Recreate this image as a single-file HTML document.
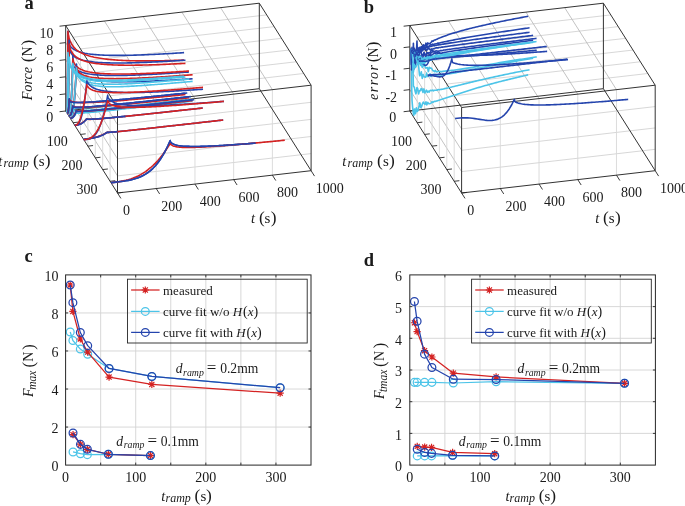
<!DOCTYPE html>
<html><head><meta charset="utf-8"><style>
html,body{margin:0;padding:0;background:#fff;}
body{width:685px;height:506px;overflow:hidden;}
svg{display:block;fill:#1a1a1a;font-family:"Liberation Serif",serif;}
#w{will-change:transform;width:685px;height:506px;}
</style></head><body><div id="w">
<svg width="685" height="506" viewBox="0 0 685 506">
<rect width="685" height="506" fill="#fff"/>
<line x1="73.1" y1="37.21" x2="266.7" y2="14.91" stroke="#d2d2d2" stroke-width="0.9"/>
<line x1="80.5" y1="48.93" x2="274.1" y2="26.63" stroke="#d2d2d2" stroke-width="0.9"/>
<line x1="87.9" y1="60.64" x2="281.5" y2="38.34" stroke="#d2d2d2" stroke-width="0.9"/>
<line x1="95.3" y1="72.36" x2="288.9" y2="50.06" stroke="#d2d2d2" stroke-width="0.9"/>
<line x1="102.7" y1="84.07" x2="296.3" y2="61.77" stroke="#d2d2d2" stroke-width="0.9"/>
<line x1="110.1" y1="95.79" x2="303.7" y2="73.49" stroke="#d2d2d2" stroke-width="0.9"/>
<line x1="104.42" y1="21.04" x2="156.22" y2="103.04" stroke="#b4b4b4" stroke-width="0.8"/>
<line x1="143.14" y1="16.58" x2="194.94" y2="98.58" stroke="#b4b4b4" stroke-width="0.8"/>
<line x1="181.86" y1="12.12" x2="233.66" y2="94.12" stroke="#b4b4b4" stroke-width="0.8"/>
<line x1="220.58" y1="7.66" x2="272.38" y2="89.66" stroke="#b4b4b4" stroke-width="0.8"/>
<line x1="117.5" y1="175.9" x2="311.1" y2="153.6" stroke="#d2d2d2" stroke-width="0.9"/>
<line x1="117.5" y1="158.8" x2="311.1" y2="136.5" stroke="#d2d2d2" stroke-width="0.9"/>
<line x1="117.5" y1="141.7" x2="311.1" y2="119.4" stroke="#d2d2d2" stroke-width="0.9"/>
<line x1="117.5" y1="124.6" x2="311.1" y2="102.3" stroke="#d2d2d2" stroke-width="0.9"/>
<line x1="156.22" y1="188.54" x2="156.22" y2="103.04" stroke="#d8d8d8" stroke-width="0.9"/>
<line x1="194.94" y1="184.08" x2="194.94" y2="98.58" stroke="#d8d8d8" stroke-width="0.9"/>
<line x1="233.66" y1="179.62" x2="233.66" y2="94.12" stroke="#d8d8d8" stroke-width="0.9"/>
<line x1="272.38" y1="175.16" x2="272.38" y2="89.66" stroke="#d8d8d8" stroke-width="0.9"/>
<line x1="65.7" y1="93.9" x2="117.5" y2="175.9" stroke="#b4b4b4" stroke-width="0.8"/>
<line x1="65.7" y1="76.8" x2="117.5" y2="158.8" stroke="#b4b4b4" stroke-width="0.8"/>
<line x1="65.7" y1="59.7" x2="117.5" y2="141.7" stroke="#b4b4b4" stroke-width="0.8"/>
<line x1="65.7" y1="42.6" x2="117.5" y2="124.6" stroke="#b4b4b4" stroke-width="0.8"/>
<line x1="73.1" y1="122.71" x2="73.1" y2="37.21" stroke="#d8d8d8" stroke-width="0.9"/>
<line x1="80.5" y1="134.43" x2="80.5" y2="48.93" stroke="#d8d8d8" stroke-width="0.9"/>
<line x1="87.9" y1="146.14" x2="87.9" y2="60.64" stroke="#d8d8d8" stroke-width="0.9"/>
<line x1="95.3" y1="157.86" x2="95.3" y2="72.36" stroke="#d8d8d8" stroke-width="0.9"/>
<line x1="102.7" y1="169.57" x2="102.7" y2="84.07" stroke="#d8d8d8" stroke-width="0.9"/>
<line x1="110.1" y1="181.29" x2="110.1" y2="95.79" stroke="#d8d8d8" stroke-width="0.9"/>
<line x1="417.2" y1="37.21" x2="610.8" y2="14.91" stroke="#d2d2d2" stroke-width="0.9"/>
<line x1="424.6" y1="48.93" x2="618.2" y2="26.63" stroke="#d2d2d2" stroke-width="0.9"/>
<line x1="432" y1="60.64" x2="625.6" y2="38.34" stroke="#d2d2d2" stroke-width="0.9"/>
<line x1="439.4" y1="72.36" x2="633" y2="50.06" stroke="#d2d2d2" stroke-width="0.9"/>
<line x1="446.8" y1="84.07" x2="640.4" y2="61.77" stroke="#d2d2d2" stroke-width="0.9"/>
<line x1="454.2" y1="95.79" x2="647.8" y2="73.49" stroke="#d2d2d2" stroke-width="0.9"/>
<line x1="448.52" y1="21.04" x2="500.32" y2="103.04" stroke="#b4b4b4" stroke-width="0.8"/>
<line x1="487.24" y1="16.58" x2="539.04" y2="98.58" stroke="#b4b4b4" stroke-width="0.8"/>
<line x1="525.96" y1="12.12" x2="577.76" y2="94.12" stroke="#b4b4b4" stroke-width="0.8"/>
<line x1="564.68" y1="7.66" x2="616.48" y2="89.66" stroke="#b4b4b4" stroke-width="0.8"/>
<line x1="461.6" y1="171.62" x2="655.2" y2="149.32" stroke="#d2d2d2" stroke-width="0.9"/>
<line x1="461.6" y1="150.25" x2="655.2" y2="127.95" stroke="#d2d2d2" stroke-width="0.9"/>
<line x1="461.6" y1="128.88" x2="655.2" y2="106.57" stroke="#d2d2d2" stroke-width="0.9"/>
<line x1="500.32" y1="188.54" x2="500.32" y2="103.04" stroke="#d8d8d8" stroke-width="0.9"/>
<line x1="539.04" y1="184.08" x2="539.04" y2="98.58" stroke="#d8d8d8" stroke-width="0.9"/>
<line x1="577.76" y1="179.62" x2="577.76" y2="94.12" stroke="#d8d8d8" stroke-width="0.9"/>
<line x1="616.48" y1="175.16" x2="616.48" y2="89.66" stroke="#d8d8d8" stroke-width="0.9"/>
<line x1="409.8" y1="89.62" x2="461.6" y2="171.62" stroke="#b4b4b4" stroke-width="0.8"/>
<line x1="409.8" y1="68.25" x2="461.6" y2="150.25" stroke="#b4b4b4" stroke-width="0.8"/>
<line x1="409.8" y1="46.88" x2="461.6" y2="128.88" stroke="#b4b4b4" stroke-width="0.8"/>
<line x1="417.2" y1="122.71" x2="417.2" y2="37.21" stroke="#d8d8d8" stroke-width="0.9"/>
<line x1="424.6" y1="134.43" x2="424.6" y2="48.93" stroke="#d8d8d8" stroke-width="0.9"/>
<line x1="432" y1="146.14" x2="432" y2="60.64" stroke="#d8d8d8" stroke-width="0.9"/>
<line x1="439.4" y1="157.86" x2="439.4" y2="72.36" stroke="#d8d8d8" stroke-width="0.9"/>
<line x1="446.8" y1="169.57" x2="446.8" y2="84.07" stroke="#d8d8d8" stroke-width="0.9"/>
<line x1="454.2" y1="181.29" x2="454.2" y2="95.79" stroke="#d8d8d8" stroke-width="0.9"/>
<line x1="65.7" y1="111" x2="259.3" y2="88.7" stroke="#333" stroke-width="1.0"/>
<line x1="65.7" y1="25.5" x2="259.3" y2="3.2" stroke="#333" stroke-width="1.0"/>
<line x1="117.5" y1="193" x2="311.1" y2="170.7" stroke="#333" stroke-width="1.0"/>
<line x1="117.5" y1="107.5" x2="311.1" y2="85.2" stroke="#333" stroke-width="1.0"/>
<line x1="65.7" y1="111" x2="117.5" y2="193" stroke="#333" stroke-width="1.0"/>
<line x1="65.7" y1="25.5" x2="117.5" y2="107.5" stroke="#333" stroke-width="1.0"/>
<line x1="259.3" y1="88.7" x2="311.1" y2="170.7" stroke="#333" stroke-width="1.0"/>
<line x1="259.3" y1="3.2" x2="311.1" y2="85.2" stroke="#333" stroke-width="1.0"/>
<line x1="65.7" y1="111" x2="65.7" y2="25.5" stroke="#333" stroke-width="1.0"/>
<line x1="117.5" y1="193" x2="117.5" y2="107.5" stroke="#333" stroke-width="1.0"/>
<line x1="259.3" y1="88.7" x2="259.3" y2="3.2" stroke="#333" stroke-width="1.0"/>
<line x1="311.1" y1="170.7" x2="311.1" y2="85.2" stroke="#333" stroke-width="1.0"/>
<line x1="409.8" y1="111" x2="603.4" y2="88.7" stroke="#333" stroke-width="1.0"/>
<line x1="409.8" y1="25.5" x2="603.4" y2="3.2" stroke="#333" stroke-width="1.0"/>
<line x1="461.6" y1="193" x2="655.2" y2="170.7" stroke="#333" stroke-width="1.0"/>
<line x1="461.6" y1="107.5" x2="655.2" y2="85.2" stroke="#333" stroke-width="1.0"/>
<line x1="409.8" y1="111" x2="461.6" y2="193" stroke="#333" stroke-width="1.0"/>
<line x1="409.8" y1="25.5" x2="461.6" y2="107.5" stroke="#333" stroke-width="1.0"/>
<line x1="603.4" y1="88.7" x2="655.2" y2="170.7" stroke="#333" stroke-width="1.0"/>
<line x1="603.4" y1="3.2" x2="655.2" y2="85.2" stroke="#333" stroke-width="1.0"/>
<line x1="409.8" y1="111" x2="409.8" y2="25.5" stroke="#333" stroke-width="1.0"/>
<line x1="461.6" y1="193" x2="461.6" y2="107.5" stroke="#333" stroke-width="1.0"/>
<line x1="603.4" y1="88.7" x2="603.4" y2="3.2" stroke="#333" stroke-width="1.0"/>
<line x1="655.2" y1="170.7" x2="655.2" y2="85.2" stroke="#333" stroke-width="1.0"/>
<line x1="65.7" y1="111" x2="59.54" y2="111.71" stroke="#262626" stroke-width="0.9"/>
<line x1="65.7" y1="93.9" x2="59.54" y2="94.61" stroke="#262626" stroke-width="0.9"/>
<line x1="65.7" y1="76.8" x2="59.54" y2="77.51" stroke="#262626" stroke-width="0.9"/>
<line x1="65.7" y1="59.7" x2="59.54" y2="60.41" stroke="#262626" stroke-width="0.9"/>
<line x1="65.7" y1="42.6" x2="59.54" y2="43.31" stroke="#262626" stroke-width="0.9"/>
<line x1="65.7" y1="25.5" x2="59.54" y2="26.21" stroke="#262626" stroke-width="0.9"/>
<line x1="65.7" y1="111" x2="70.87" y2="110.4" stroke="#262626" stroke-width="0.9"/>
<line x1="73.1" y1="122.71" x2="78.27" y2="122.12" stroke="#262626" stroke-width="0.9"/>
<line x1="80.5" y1="134.43" x2="85.67" y2="133.83" stroke="#262626" stroke-width="0.9"/>
<line x1="87.9" y1="146.14" x2="93.07" y2="145.55" stroke="#262626" stroke-width="0.9"/>
<line x1="95.3" y1="157.86" x2="100.47" y2="157.26" stroke="#262626" stroke-width="0.9"/>
<line x1="102.7" y1="169.57" x2="107.87" y2="168.98" stroke="#262626" stroke-width="0.9"/>
<line x1="110.1" y1="181.29" x2="115.27" y2="180.69" stroke="#262626" stroke-width="0.9"/>
<line x1="117.5" y1="193" x2="122.67" y2="192.4" stroke="#262626" stroke-width="0.9"/>
<line x1="117.5" y1="193" x2="120.92" y2="198.41" stroke="#262626" stroke-width="0.9"/>
<line x1="156.22" y1="188.54" x2="159.64" y2="193.95" stroke="#262626" stroke-width="0.9"/>
<line x1="194.94" y1="184.08" x2="198.36" y2="189.49" stroke="#262626" stroke-width="0.9"/>
<line x1="233.66" y1="179.62" x2="237.08" y2="185.03" stroke="#262626" stroke-width="0.9"/>
<line x1="272.38" y1="175.16" x2="275.8" y2="180.57" stroke="#262626" stroke-width="0.9"/>
<line x1="311.1" y1="170.7" x2="314.52" y2="176.11" stroke="#262626" stroke-width="0.9"/>
<line x1="409.8" y1="111" x2="403.64" y2="111.71" stroke="#262626" stroke-width="0.9"/>
<line x1="409.8" y1="89.62" x2="403.64" y2="90.33" stroke="#262626" stroke-width="0.9"/>
<line x1="409.8" y1="68.25" x2="403.64" y2="68.96" stroke="#262626" stroke-width="0.9"/>
<line x1="409.8" y1="46.88" x2="403.64" y2="47.58" stroke="#262626" stroke-width="0.9"/>
<line x1="409.8" y1="25.5" x2="403.64" y2="26.21" stroke="#262626" stroke-width="0.9"/>
<line x1="409.8" y1="111" x2="414.97" y2="110.4" stroke="#262626" stroke-width="0.9"/>
<line x1="417.2" y1="122.71" x2="422.37" y2="122.12" stroke="#262626" stroke-width="0.9"/>
<line x1="424.6" y1="134.43" x2="429.77" y2="133.83" stroke="#262626" stroke-width="0.9"/>
<line x1="432" y1="146.14" x2="437.17" y2="145.55" stroke="#262626" stroke-width="0.9"/>
<line x1="439.4" y1="157.86" x2="444.57" y2="157.26" stroke="#262626" stroke-width="0.9"/>
<line x1="446.8" y1="169.57" x2="451.97" y2="168.98" stroke="#262626" stroke-width="0.9"/>
<line x1="454.2" y1="181.29" x2="459.37" y2="180.69" stroke="#262626" stroke-width="0.9"/>
<line x1="461.6" y1="193" x2="466.77" y2="192.4" stroke="#262626" stroke-width="0.9"/>
<line x1="461.6" y1="193" x2="465.02" y2="198.41" stroke="#262626" stroke-width="0.9"/>
<line x1="500.32" y1="188.54" x2="503.74" y2="193.95" stroke="#262626" stroke-width="0.9"/>
<line x1="539.04" y1="184.08" x2="542.46" y2="189.49" stroke="#262626" stroke-width="0.9"/>
<line x1="577.76" y1="179.62" x2="581.18" y2="185.03" stroke="#262626" stroke-width="0.9"/>
<line x1="616.48" y1="175.16" x2="619.9" y2="180.57" stroke="#262626" stroke-width="0.9"/>
<line x1="655.2" y1="170.7" x2="658.62" y2="176.11" stroke="#262626" stroke-width="0.9"/>
<path d="M66.66 112.52 L66.71 112.51 L66.77 112.43 L66.82 112.27 L66.87 111.96 L66.92 111.49 L66.98 110.82 L67.03 109.91 L67.08 108.74 L67.13 107.27 L67.19 105.48 L67.24 103.34 L67.29 100.82 L67.34 97.9 L67.4 94.54 L67.45 90.72 L67.5 86.41 L67.55 81.59 L67.61 76.23 L67.66 70.31 L67.71 63.81 L67.76 56.69 L67.82 48.93 L67.87 40.51 L67.92 31.41 L68 33.49 L68.09 35.47 L68.19 37.29 L68.31 38.92 L68.44 40.36 L68.6 41.59 L68.78 42.62 L68.98 43.48 L69.22 44.21 L69.49 44.84 L69.81 45.4 L70.17 45.94 L70.58 46.48 L71.06 47.01 L71.61 47.56 L72.24 48.12 L72.96 48.69 L73.79 49.26 L74.75 49.84 L75.85 50.41 L77.12 50.98 L78.58 51.54 L80.13 52.05 L81.68 52.49 L83.22 52.87 L84.77 53.2 L86.32 53.49 L87.87 53.75 L89.42 53.97 L90.97 54.18 L92.52 54.35 L94.07 54.51 L95.62 54.65 L97.16 54.77 L98.71 54.88 L100.26 54.98 L101.81 55.06 L103.36 55.14 L104.91 55.2 L106.46 55.25 L108.01 55.29 L109.55 55.33 L111.1 55.36 L112.65 55.38 L114.2 55.4 L115.75 55.41 L117.3 55.41 L118.85 55.41 L120.4 55.4 L121.94 55.39 L123.49 55.37 L125.04 55.35 L126.59 55.32 L128.14 55.3 L129.69 55.26 L131.24 55.23 L132.79 55.19 L134.34 55.15 L135.88 55.1 L137.43 55.05 L138.98 55 L140.53 54.95 L142.08 54.89 L143.63 54.83 L145.18 54.77 L146.73 54.71 L148.27 54.64 L149.82 54.57 L151.37 54.5 L152.92 54.43 L154.47 54.36 L156.02 54.28 L157.57 54.2 L159.12 54.12 L160.66 54.04 L162.21 53.96 L163.76 53.88 L165.31 53.79 L166.86 53.71 L168.41 53.62 L169.96 53.53 L171.51 53.44 L173.06 53.35 L174.6 53.25 L176.15 53.16 L177.7 53.06 L179.25 52.97 L180.8 52.87 L182.35 52.77 L183.9 52.67 L184.08 52.66" fill="none" stroke="#2444ad" stroke-width="1.6" stroke-linejoin="round" stroke-linecap="butt"/>
<path d="M66.66 112.52 L66.71 112.46 L66.77 112.24 L66.82 111.83 L66.87 111.18 L66.92 110.3 L66.98 109.15 L67.03 107.72 L67.08 106 L67.13 103.98 L67.19 101.65 L67.24 99 L67.29 96.01 L67.34 92.68 L67.4 89 L67.45 84.96 L67.5 80.56 L67.55 75.79 L67.61 70.64 L67.66 65.1 L67.71 59.17 L67.76 52.84 L67.82 46.11 L67.87 38.97 L67.92 31.41 L68 31.99 L68.09 32.61 L68.19 33.28 L68.31 33.98 L68.44 34.73 L68.6 35.52 L68.78 36.35 L68.98 37.21 L69.22 38.1 L69.49 39.03 L69.81 39.98 L70.17 40.96 L70.58 41.96 L71.06 42.97 L71.61 44 L72.24 45.05 L72.96 46.1 L73.79 47.15 L74.75 48.2 L75.85 49.25 L77.12 50.3 L78.58 51.33 L80.13 52.27 L81.68 53.09 L83.22 53.81 L84.77 54.46 L86.32 55.03 L87.87 55.54 L89.42 56.01 L90.97 56.44 L92.52 56.82 L94.07 57.18 L95.62 57.5 L97.16 57.8 L98.71 58.07 L100.26 58.33 L101.81 58.56 L103.36 58.78 L104.91 58.98 L106.46 59.16 L108.01 59.33 L109.55 59.49 L111.1 59.63 L112.65 59.77 L114.2 59.89 L115.75 60.01 L117.3 60.11 L118.85 60.21 L120.4 60.3 L121.94 60.38 L123.49 60.45 L125.04 60.52 L126.59 60.58 L128.14 60.63 L129.69 60.68 L131.24 60.73 L132.79 60.76 L134.34 60.8 L135.88 60.83 L137.43 60.85 L138.98 60.87 L140.53 60.88 L142.08 60.89 L143.63 60.9 L145.18 60.9 L146.73 60.9 L148.27 60.9 L149.82 60.89 L151.37 60.88 L152.92 60.87 L154.47 60.85 L156.02 60.84 L157.57 60.81 L159.12 60.79 L160.66 60.76 L162.21 60.73 L163.76 60.7 L165.31 60.67 L166.86 60.63 L168.41 60.59 L169.96 60.55 L171.51 60.51 L173.06 60.47 L174.6 60.42 L176.15 60.37 L177.7 60.32 L179.25 60.27 L180.8 60.21 L182.35 60.16 L183.9 60.1 L184.08 60.1" fill="none" stroke="#d42222" stroke-width="1.6" stroke-linejoin="round" stroke-linecap="butt"/>
<path d="M67.25 113.46 L67.34 113.44 L67.42 113.37 L67.51 113.21 L67.59 112.94 L67.68 112.51 L67.76 111.9 L67.85 111.07 L67.93 110.01 L68.02 108.69 L68.1 107.07 L68.19 105.14 L68.27 102.86 L68.36 100.21 L68.44 97.18 L68.52 93.73 L68.61 89.84 L68.69 85.49 L68.78 80.66 L68.86 75.31 L68.95 69.44 L69.03 63.02 L69.12 56.02 L69.2 48.42 L69.29 40.21 L69.36 42.13 L69.45 43.96 L69.56 45.64 L69.67 47.17 L69.81 48.5 L69.96 49.65 L70.14 50.62 L70.35 51.44 L70.59 52.13 L70.86 52.73 L71.17 53.28 L71.53 53.81 L71.95 54.33 L72.42 54.86 L72.97 55.4 L73.6 55.94 L74.33 56.5 L75.16 57.06 L76.12 57.62 L77.22 58.19 L78.49 58.74 L79.94 59.29 L81.49 59.79 L83.04 60.22 L84.59 60.59 L86.14 60.91 L87.69 61.19 L89.24 61.44 L90.79 61.66 L92.34 61.85 L93.88 62.03 L95.43 62.18 L96.98 62.31 L98.53 62.43 L100.08 62.53 L101.63 62.62 L103.18 62.7 L104.73 62.77 L106.27 62.83 L107.82 62.88 L109.37 62.92 L110.92 62.95 L112.47 62.98 L114.02 62.99 L115.57 63.01 L117.12 63.01 L118.66 63.01 L120.21 63.01 L121.76 63 L123.31 62.98 L124.86 62.96 L126.41 62.94 L127.96 62.91 L129.51 62.88 L131.06 62.84 L132.6 62.81 L134.15 62.76 L135.7 62.72 L137.25 62.67 L138.8 62.62 L140.35 62.57 L141.9 62.51 L143.45 62.45 L144.99 62.39 L146.54 62.33 L148.09 62.26 L149.64 62.19 L151.19 62.12 L152.74 62.05 L154.29 61.98 L155.84 61.9 L157.38 61.83 L158.93 61.75 L160.48 61.67 L162.03 61.58 L163.58 61.5 L165.13 61.41 L166.68 61.33 L168.23 61.24 L169.78 61.15 L171.32 61.06 L172.87 60.97 L174.42 60.87 L175.97 60.78 L177.52 60.68 L179.07 60.59 L180.62 60.49 L182.17 60.39 L183.71 60.29 L185.26 60.19 L185.45 60.17" fill="none" stroke="#2444ad" stroke-width="1.6" stroke-linejoin="round" stroke-linecap="butt"/>
<path d="M67.25 113.46 L67.34 113.4 L67.42 113.21 L67.51 112.85 L67.59 112.3 L67.68 111.54 L67.76 110.55 L67.85 109.33 L67.93 107.86 L68.02 106.13 L68.1 104.14 L68.19 101.87 L68.27 99.31 L68.36 96.47 L68.44 93.33 L68.52 89.88 L68.61 86.12 L68.69 82.04 L68.78 77.64 L68.86 72.91 L68.95 67.84 L69.03 62.44 L69.12 56.69 L69.2 50.59 L69.29 44.14 L69.36 44.59 L69.45 45.07 L69.56 45.58 L69.67 46.13 L69.81 46.7 L69.96 47.31 L70.14 47.94 L70.35 48.61 L70.59 49.29 L70.86 50 L71.17 50.73 L71.53 51.48 L71.95 52.24 L72.42 53.02 L72.97 53.8 L73.6 54.59 L74.33 55.38 L75.16 56.18 L76.12 56.97 L77.22 57.75 L78.49 58.53 L79.94 59.29 L81.49 59.98 L83.04 60.58 L84.59 61.09 L86.14 61.55 L87.69 61.95 L89.24 62.31 L90.79 62.64 L92.34 62.92 L93.88 63.18 L95.43 63.42 L96.98 63.63 L98.53 63.82 L100.08 63.99 L101.63 64.15 L103.18 64.29 L104.73 64.41 L106.27 64.53 L107.82 64.63 L109.37 64.72 L110.92 64.8 L112.47 64.88 L114.02 64.94 L115.57 65 L117.12 65.04 L118.66 65.09 L120.21 65.12 L121.76 65.15 L123.31 65.17 L124.86 65.19 L126.41 65.2 L127.96 65.21 L129.51 65.21 L131.06 65.21 L132.6 65.2 L134.15 65.19 L135.7 65.17 L137.25 65.15 L138.8 65.13 L140.35 65.11 L141.9 65.08 L143.45 65.05 L144.99 65.01 L146.54 64.97 L148.09 64.93 L149.64 64.89 L151.19 64.85 L152.74 64.8 L154.29 64.75 L155.84 64.69 L157.38 64.64 L158.93 64.58 L160.48 64.52 L162.03 64.46 L163.58 64.4 L165.13 64.34 L166.68 64.27 L168.23 64.2 L169.78 64.13 L171.32 64.06 L172.87 63.99 L174.42 63.91 L175.97 63.83 L177.52 63.76 L179.07 63.68 L180.62 63.6 L182.17 63.52 L183.71 63.43 L185.26 63.35 L185.45 63.34" fill="none" stroke="#d42222" stroke-width="1.6" stroke-linejoin="round" stroke-linecap="butt"/>
<path d="M68.81 115.92 L68.98 115.89 L69.15 115.82 L69.32 115.69 L69.49 115.45 L69.66 115.09 L69.82 114.57 L69.99 113.89 L70.16 113.01 L70.33 111.92 L70.5 110.59 L70.67 109 L70.84 107.13 L71.01 104.96 L71.18 102.47 L71.35 99.64 L71.52 96.46 L71.69 92.9 L71.86 88.94 L72.03 84.57 L72.2 79.76 L72.37 74.51 L72.53 68.78 L72.7 62.57 L72.87 55.86 L72.95 57.6 L73.04 59.25 L73.14 60.77 L73.26 62.14 L73.4 63.34 L73.55 64.38 L73.73 65.24 L73.94 65.97 L74.17 66.58 L74.45 67.11 L74.76 67.59 L75.12 68.05 L75.53 68.5 L76.01 68.95 L76.56 69.41 L77.19 69.88 L77.91 70.36 L78.75 70.84 L79.7 71.32 L80.81 71.79 L82.07 72.26 L83.53 72.72 L85.08 73.14 L86.63 73.49 L88.18 73.79 L89.73 74.05 L91.28 74.27 L92.82 74.47 L94.37 74.64 L95.92 74.79 L97.47 74.91 L99.02 75.02 L100.57 75.12 L102.12 75.2 L103.67 75.27 L105.21 75.33 L106.76 75.37 L108.31 75.41 L109.86 75.44 L111.41 75.46 L112.96 75.47 L114.51 75.48 L116.06 75.48 L117.61 75.47 L119.15 75.46 L120.7 75.44 L122.25 75.42 L123.8 75.39 L125.35 75.36 L126.9 75.33 L128.45 75.29 L130 75.24 L131.54 75.2 L133.09 75.15 L134.64 75.1 L136.19 75.04 L137.74 74.98 L139.29 74.92 L140.84 74.85 L142.39 74.79 L143.93 74.72 L145.48 74.65 L147.03 74.57 L148.58 74.5 L150.13 74.42 L151.68 74.34 L153.23 74.26 L154.78 74.18 L156.33 74.09 L157.87 74 L159.42 73.92 L160.97 73.83 L162.52 73.73 L164.07 73.64 L165.62 73.55 L167.17 73.45 L168.72 73.35 L170.26 73.26 L171.81 73.16 L173.36 73.06 L174.91 72.95 L176.46 72.85 L178.01 72.75 L179.56 72.64 L181.11 72.53 L182.65 72.43 L184.2 72.32 L185.75 72.21 L187.3 72.1 L188.85 71.99 L189.03 71.98" fill="none" stroke="#2444ad" stroke-width="1.6" stroke-linejoin="round" stroke-linecap="butt"/>
<path d="M68.81 115.92 L68.98 115.86 L69.15 115.69 L69.32 115.39 L69.49 114.92 L69.66 114.29 L69.82 113.47 L69.99 112.45 L70.16 111.23 L70.33 109.8 L70.5 108.16 L70.67 106.28 L70.84 104.17 L71.01 101.83 L71.18 99.24 L71.35 96.4 L71.52 93.3 L71.69 89.94 L71.86 86.32 L72.03 82.43 L72.2 78.26 L72.37 73.81 L72.53 69.09 L72.7 64.07 L72.87 58.77 L72.95 59.11 L73.04 59.49 L73.14 59.89 L73.26 60.32 L73.4 60.77 L73.55 61.24 L73.73 61.74 L73.94 62.25 L74.17 62.79 L74.45 63.34 L74.76 63.91 L75.12 64.49 L75.53 65.08 L76.01 65.68 L76.56 66.28 L77.19 66.89 L77.91 67.49 L78.75 68.1 L79.7 68.7 L80.81 69.29 L82.07 69.87 L83.53 70.43 L85.08 70.94 L86.63 71.37 L88.18 71.74 L89.73 72.06 L91.28 72.34 L92.82 72.59 L94.37 72.8 L95.92 72.99 L97.47 73.16 L99.02 73.3 L100.57 73.43 L102.12 73.54 L103.67 73.64 L105.21 73.72 L106.76 73.8 L108.31 73.86 L109.86 73.91 L111.41 73.95 L112.96 73.99 L114.51 74.01 L116.06 74.03 L117.61 74.05 L119.15 74.05 L120.7 74.05 L122.25 74.05 L123.8 74.04 L125.35 74.02 L126.9 74 L128.45 73.98 L130 73.95 L131.54 73.91 L133.09 73.88 L134.64 73.84 L136.19 73.8 L137.74 73.75 L139.29 73.7 L140.84 73.65 L142.39 73.59 L143.93 73.53 L145.48 73.47 L147.03 73.41 L148.58 73.34 L150.13 73.28 L151.68 73.21 L153.23 73.14 L154.78 73.06 L156.33 72.99 L157.87 72.91 L159.42 72.83 L160.97 72.75 L162.52 72.67 L164.07 72.58 L165.62 72.5 L167.17 72.41 L168.72 72.32 L170.26 72.23 L171.81 72.14 L173.36 72.04 L174.91 71.95 L176.46 71.85 L178.01 71.76 L179.56 71.66 L181.11 71.56 L182.65 71.46 L184.2 71.36 L185.75 71.26 L187.3 71.15 L188.85 71.05 L189.03 71.04" fill="none" stroke="#d42222" stroke-width="1.6" stroke-linejoin="round" stroke-linecap="butt"/>
<path d="M70.36 118.38 L70.62 118.34 L70.87 118.27 L71.12 118.13 L71.38 117.91 L71.63 117.57 L71.89 117.1 L72.14 116.47 L72.39 115.67 L72.65 114.67 L72.9 113.46 L73.16 112.02 L73.41 110.32 L73.67 108.35 L73.92 106.1 L74.17 103.54 L74.43 100.66 L74.68 97.44 L74.94 93.86 L75.19 89.91 L75.44 85.57 L75.7 80.82 L75.95 75.65 L76.21 70.04 L76.46 63.98 L76.54 65.12 L76.63 66.22 L76.73 67.25 L76.85 68.2 L76.98 69.06 L77.14 69.82 L77.32 70.5 L77.52 71.11 L77.76 71.66 L78.03 72.17 L78.35 72.66 L78.71 73.15 L79.12 73.64 L79.6 74.14 L80.15 74.65 L80.78 75.17 L81.5 75.7 L82.33 76.24 L83.29 76.78 L84.39 77.31 L85.66 77.84 L87.12 78.36 L88.67 78.83 L90.22 79.24 L91.76 79.58 L93.31 79.89 L94.86 80.15 L96.41 80.38 L97.96 80.59 L99.51 80.77 L101.06 80.93 L102.61 81.07 L104.16 81.19 L105.7 81.29 L107.25 81.39 L108.8 81.47 L110.35 81.54 L111.9 81.59 L113.45 81.64 L115 81.68 L116.55 81.71 L118.09 81.74 L119.64 81.76 L121.19 81.77 L122.74 81.77 L124.29 81.77 L125.84 81.76 L127.39 81.75 L128.94 81.73 L130.48 81.71 L132.03 81.69 L133.58 81.66 L135.13 81.62 L136.68 81.59 L138.23 81.54 L139.78 81.5 L141.33 81.45 L142.88 81.4 L144.42 81.35 L145.97 81.29 L147.52 81.24 L149.07 81.18 L150.62 81.11 L152.17 81.05 L153.72 80.98 L155.27 80.91 L156.81 80.84 L158.36 80.76 L159.91 80.69 L161.46 80.61 L163.01 80.53 L164.56 80.45 L166.11 80.36 L167.66 80.28 L169.2 80.19 L170.75 80.11 L172.3 80.02 L173.85 79.93 L175.4 79.83 L176.95 79.74 L178.5 79.65 L180.05 79.55 L181.6 79.45 L183.14 79.36 L184.69 79.26 L186.24 79.16 L187.79 79.06 L189.34 78.95 L190.89 78.85 L192.44 78.75 L192.62 78.73" fill="none" stroke="#2444ad" stroke-width="1.6" stroke-linejoin="round" stroke-linecap="butt"/>
<path d="M70.36 118.38 L70.62 118.32 L70.87 118.15 L71.12 117.87 L71.38 117.44 L71.63 116.86 L71.89 116.11 L72.14 115.19 L72.39 114.09 L72.65 112.8 L72.9 111.31 L73.16 109.62 L73.41 107.72 L73.67 105.6 L73.92 103.27 L74.17 100.71 L74.43 97.92 L74.68 94.91 L74.94 91.65 L75.19 88.15 L75.44 84.4 L75.7 80.41 L75.95 76.16 L76.21 71.66 L76.46 66.89 L76.54 67.18 L76.63 67.49 L76.73 67.82 L76.85 68.17 L76.98 68.54 L77.14 68.92 L77.32 69.33 L77.52 69.75 L77.76 70.19 L78.03 70.64 L78.35 71.1 L78.71 71.58 L79.12 72.06 L79.6 72.54 L80.15 73.03 L80.78 73.52 L81.5 74.01 L82.33 74.49 L83.29 74.97 L84.39 75.43 L85.66 75.89 L87.12 76.32 L88.67 76.71 L90.22 77.03 L91.76 77.31 L93.31 77.54 L94.86 77.75 L96.41 77.92 L97.96 78.06 L99.51 78.19 L101.06 78.3 L102.61 78.39 L104.16 78.46 L105.7 78.52 L107.25 78.57 L108.8 78.61 L110.35 78.64 L111.9 78.66 L113.45 78.67 L115 78.68 L116.55 78.67 L118.09 78.67 L119.64 78.65 L121.19 78.63 L122.74 78.6 L124.29 78.57 L125.84 78.54 L127.39 78.5 L128.94 78.45 L130.48 78.41 L132.03 78.36 L133.58 78.3 L135.13 78.24 L136.68 78.18 L138.23 78.12 L139.78 78.05 L141.33 77.98 L142.88 77.91 L144.42 77.84 L145.97 77.76 L147.52 77.68 L149.07 77.6 L150.62 77.52 L152.17 77.43 L153.72 77.34 L155.27 77.26 L156.81 77.17 L158.36 77.07 L159.91 76.98 L161.46 76.89 L163.01 76.79 L164.56 76.69 L166.11 76.59 L167.66 76.49 L169.2 76.39 L170.75 76.29 L172.3 76.18 L173.85 76.08 L175.4 75.97 L176.95 75.86 L178.5 75.75 L180.05 75.64 L181.6 75.53 L183.14 75.42 L184.69 75.31 L186.24 75.19 L187.79 75.08 L189.34 74.96 L190.89 74.85 L192.44 74.73 L192.62 74.71" fill="none" stroke="#d42222" stroke-width="1.6" stroke-linejoin="round" stroke-linecap="butt"/>
<path d="M66.66 112.52 L66.71 112.48 L66.77 112.31 L66.82 112 L66.87 111.53 L66.92 110.87 L66.98 110.02 L67.03 108.96 L67.08 107.69 L67.13 106.2 L67.19 104.47 L67.24 102.51 L67.29 100.3 L67.34 97.83 L67.4 95.11 L67.45 92.13 L67.5 88.87 L67.55 85.34 L67.61 81.53 L67.66 77.44 L67.71 73.05 L67.76 68.37 L67.82 63.4 L67.87 58.11 L67.92 52.53 L68 53.24 L68.09 54.25 L68.19 55.3 L68.31 56.37 L68.44 57.47 L68.6 58.59 L68.78 59.7 L68.98 60.81 L69.22 61.89 L69.49 62.96 L69.81 63.98 L70.17 64.98 L70.58 65.94 L71.06 66.87 L71.61 67.79 L72.24 68.69 L72.96 69.6 L73.79 70.52 L74.75 71.45 L75.85 72.39 L77.12 73.35 L78.58 74.3 L80.13 75.17 L81.68 75.92 L83.22 76.57 L84.77 77.14 L86.32 77.63 L87.87 78.06 L89.42 78.43 L90.97 78.75 L92.52 79.02 L94.07 79.26 L95.62 79.47 L97.16 79.64 L98.71 79.79 L100.26 79.91 L101.81 80.01 L103.36 80.09 L104.91 80.16 L106.46 80.2 L108.01 80.24 L109.55 80.26 L111.1 80.27 L112.65 80.27 L114.2 80.26 L115.75 80.24 L117.3 80.22 L118.85 80.19 L120.4 80.15 L121.94 80.1 L123.49 80.05 L125.04 80 L126.59 79.94 L128.14 79.87 L129.69 79.8 L131.24 79.73 L132.79 79.66 L134.34 79.58 L135.88 79.49 L137.43 79.41 L138.98 79.32 L140.53 79.23 L142.08 79.14 L143.63 79.05 L145.18 78.95 L146.73 78.85 L148.27 78.75 L149.82 78.65 L151.37 78.55 L152.92 78.44 L154.47 78.34 L156.02 78.23 L157.57 78.12 L159.12 78.01 L160.66 77.9 L162.21 77.79 L163.76 77.67 L165.31 77.56 L166.86 77.44 L168.41 77.32 L169.96 77.2 L171.51 77.08 L173.06 76.96 L174.6 76.84 L176.15 76.72 L177.7 76.6 L179.25 76.47 L180.8 76.35 L182.35 76.22 L183.9 76.1 L184.08 76.08" fill="none" stroke="#4cc4e8" stroke-width="1.6" stroke-linejoin="round" stroke-linecap="butt"/>
<path d="M67.25 113.46 L67.34 113.41 L67.42 113.26 L67.51 112.96 L67.59 112.51 L67.68 111.89 L67.76 111.09 L67.85 110.1 L67.93 108.91 L68.02 107.5 L68.1 105.89 L68.19 104.04 L68.27 101.97 L68.36 99.66 L68.44 97.11 L68.52 94.31 L68.61 91.26 L68.69 87.96 L68.78 84.39 L68.86 80.55 L68.95 76.44 L69.03 72.06 L69.12 67.4 L69.2 62.46 L69.29 57.22 L69.36 57.86 L69.45 58.76 L69.56 59.7 L69.67 60.66 L69.81 61.65 L69.96 62.64 L70.14 63.64 L70.35 64.63 L70.59 65.6 L70.86 66.55 L71.17 67.46 L71.53 68.35 L71.95 69.2 L72.42 70.03 L72.97 70.85 L73.6 71.65 L74.33 72.46 L75.16 73.27 L76.12 74.09 L77.22 74.92 L78.49 75.76 L79.94 76.6 L81.49 77.36 L83.04 78.01 L84.59 78.58 L86.14 79.07 L87.69 79.49 L89.24 79.85 L90.79 80.17 L92.34 80.43 L93.88 80.66 L95.43 80.86 L96.98 81.02 L98.53 81.16 L100.08 81.27 L101.63 81.36 L103.18 81.44 L104.73 81.49 L106.27 81.53 L107.82 81.55 L109.37 81.57 L110.92 81.57 L112.47 81.56 L114.02 81.54 L115.57 81.51 L117.12 81.48 L118.66 81.44 L120.21 81.39 L121.76 81.34 L123.31 81.28 L124.86 81.21 L126.41 81.14 L127.96 81.07 L129.51 81 L131.06 80.92 L132.6 80.83 L134.15 80.75 L135.7 80.66 L137.25 80.57 L138.8 80.47 L140.35 80.37 L141.9 80.28 L143.45 80.18 L144.99 80.07 L146.54 79.97 L148.09 79.86 L149.64 79.75 L151.19 79.64 L152.74 79.53 L154.29 79.42 L155.84 79.31 L157.38 79.19 L158.93 79.07 L160.48 78.96 L162.03 78.84 L163.58 78.72 L165.13 78.6 L166.68 78.48 L168.23 78.35 L169.78 78.23 L171.32 78.1 L172.87 77.98 L174.42 77.85 L175.97 77.73 L177.52 77.6 L179.07 77.47 L180.62 77.34 L182.17 77.21 L183.71 77.08 L185.26 76.95 L185.45 76.93" fill="none" stroke="#4cc4e8" stroke-width="1.6" stroke-linejoin="round" stroke-linecap="butt"/>
<path d="M68.81 115.92 L68.98 115.87 L69.15 115.71 L69.32 115.42 L69.49 115 L69.66 114.41 L69.82 113.65 L69.99 112.72 L70.16 111.6 L70.33 110.28 L70.5 108.76 L70.67 107.04 L70.84 105.1 L71.01 102.93 L71.18 100.55 L71.35 97.93 L71.52 95.08 L71.69 91.99 L71.86 88.66 L72.03 85.07 L72.2 81.24 L72.37 77.15 L72.53 72.8 L72.7 68.18 L72.87 63.3 L72.95 63.86 L73.04 64.65 L73.14 65.48 L73.26 66.33 L73.4 67.2 L73.55 68.08 L73.73 68.95 L73.94 69.82 L74.17 70.68 L74.45 71.51 L74.76 72.32 L75.12 73.1 L75.53 73.85 L76.01 74.58 L76.56 75.29 L77.19 75.99 L77.91 76.69 L78.75 77.4 L79.7 78.11 L80.81 78.83 L82.07 79.56 L83.53 80.27 L85.08 80.93 L86.63 81.49 L88.18 81.96 L89.73 82.37 L91.28 82.73 L92.82 83.03 L94.37 83.28 L95.92 83.5 L97.47 83.68 L99.02 83.83 L100.57 83.96 L102.12 84.06 L103.67 84.14 L105.21 84.2 L106.76 84.24 L108.31 84.27 L109.86 84.28 L111.41 84.28 L112.96 84.27 L114.51 84.25 L116.06 84.22 L117.61 84.19 L119.15 84.14 L120.7 84.09 L122.25 84.03 L123.8 83.97 L125.35 83.9 L126.9 83.83 L128.45 83.75 L130 83.67 L131.54 83.59 L133.09 83.5 L134.64 83.41 L136.19 83.31 L137.74 83.22 L139.29 83.12 L140.84 83.01 L142.39 82.91 L143.93 82.8 L145.48 82.7 L147.03 82.59 L148.58 82.47 L150.13 82.36 L151.68 82.25 L153.23 82.13 L154.78 82.01 L156.33 81.89 L157.87 81.77 L159.42 81.65 L160.97 81.53 L162.52 81.41 L164.07 81.28 L165.62 81.16 L167.17 81.03 L168.72 80.9 L170.26 80.77 L171.81 80.64 L173.36 80.51 L174.91 80.38 L176.46 80.25 L178.01 80.12 L179.56 79.99 L181.11 79.85 L182.65 79.72 L184.2 79.58 L185.75 79.45 L187.3 79.31 L188.85 79.17 L189.03 79.16" fill="none" stroke="#4cc4e8" stroke-width="1.6" stroke-linejoin="round" stroke-linecap="butt"/>
<path d="M70.36 118.38 L70.62 118.32 L70.87 118.16 L71.12 117.87 L71.38 117.45 L71.63 116.88 L71.89 116.15 L72.14 115.25 L72.39 114.16 L72.65 112.89 L72.9 111.43 L73.16 109.77 L73.41 107.91 L73.67 105.83 L73.92 103.54 L74.17 101.03 L74.43 98.3 L74.68 95.33 L74.94 92.13 L75.19 88.7 L75.44 85.02 L75.7 81.1 L75.95 76.93 L76.21 72.51 L76.46 67.83 L76.54 68.35 L76.63 69.08 L76.73 69.84 L76.85 70.62 L76.98 71.42 L77.14 72.23 L77.32 73.03 L77.52 73.83 L77.76 74.62 L78.03 75.39 L78.35 76.13 L78.71 76.84 L79.12 77.53 L79.6 78.19 L80.15 78.84 L80.78 79.48 L81.5 80.12 L82.33 80.77 L83.29 81.42 L84.39 82.07 L85.66 82.72 L87.12 83.37 L88.67 83.96 L90.22 84.46 L91.76 84.89 L93.31 85.25 L94.86 85.56 L96.41 85.82 L97.96 86.04 L99.51 86.23 L101.06 86.38 L102.61 86.51 L104.16 86.61 L105.7 86.69 L107.25 86.75 L108.8 86.79 L110.35 86.81 L111.9 86.82 L113.45 86.82 L115 86.81 L116.55 86.79 L118.09 86.75 L119.64 86.71 L121.19 86.67 L122.74 86.61 L124.29 86.55 L125.84 86.48 L127.39 86.41 L128.94 86.33 L130.48 86.25 L132.03 86.17 L133.58 86.08 L135.13 85.99 L136.68 85.89 L138.23 85.79 L139.78 85.69 L141.33 85.59 L142.88 85.48 L144.42 85.37 L145.97 85.26 L147.52 85.15 L149.07 85.04 L150.62 84.92 L152.17 84.81 L153.72 84.69 L155.27 84.57 L156.81 84.45 L158.36 84.32 L159.91 84.2 L161.46 84.08 L163.01 83.95 L164.56 83.82 L166.11 83.7 L167.66 83.57 L169.2 83.44 L170.75 83.31 L172.3 83.17 L173.85 83.04 L175.4 82.91 L176.95 82.78 L178.5 82.64 L180.05 82.51 L181.6 82.37 L183.14 82.23 L184.69 82.1 L186.24 81.96 L187.79 81.82 L189.34 81.68 L190.89 81.54 L192.44 81.4 L192.62 81.38" fill="none" stroke="#4cc4e8" stroke-width="1.6" stroke-linejoin="round" stroke-linecap="butt"/>
<path d="M67.25 113.46 L67.34 113.45 L67.42 113.42 L67.51 113.38 L67.59 113.33 L67.68 113.25 L67.76 113.16 L67.85 113.04 L67.93 112.91 L68.02 112.75 L68.1 112.57 L68.19 112.37 L68.27 112.14 L68.36 111.89 L68.44 111.62 L68.52 111.31 L68.61 110.98 L68.69 110.63 L68.78 110.24 L68.86 109.83 L68.95 109.39 L69.03 108.92 L69.12 108.42 L69.2 107.89 L69.29 107.33 L69.36 107.38 L69.45 107.46 L69.56 107.55 L69.67 107.63 L69.81 107.72 L69.96 107.8 L70.14 107.88 L70.35 107.96 L70.59 108.04 L70.86 108.1 L71.17 108.16 L71.53 108.21 L71.95 108.26 L72.42 108.29 L72.97 108.32 L73.6 108.33 L74.33 108.34 L75.16 108.34 L76.12 108.32 L77.22 108.29 L78.49 108.24 L79.94 108.17 L81.49 108.09 L83.04 108 L84.59 107.89 L86.14 107.78 L87.69 107.66 L89.24 107.54 L90.79 107.41 L92.34 107.28 L93.88 107.14 L95.43 107 L96.98 106.86 L98.53 106.71 L100.08 106.56 L101.63 106.41 L103.18 106.26 L104.73 106.1 L106.27 105.94 L107.82 105.79 L109.37 105.63 L110.92 105.47 L112.47 105.31 L114.02 105.14 L115.57 104.98 L117.12 104.82 L118.66 104.65 L120.21 104.49 L121.76 104.32 L123.31 104.15 L124.86 103.99 L126.41 103.82 L127.96 103.65 L129.51 103.48 L131.06 103.32 L132.6 103.15 L134.15 102.98 L135.7 102.81 L137.25 102.64 L138.8 102.47 L140.35 102.3 L141.9 102.13 L143.45 101.96 L144.99 101.79 L146.54 101.62 L148.09 101.45 L149.64 101.27 L151.19 101.1 L152.74 100.93 L154.29 100.76 L155.84 100.59 L157.38 100.42 L158.93 100.24 L160.48 100.07 L162.03 99.9 L163.58 99.73 L165.13 99.55 L166.68 99.38 L168.23 99.21 L169.78 99.03 L171.32 98.86 L172.87 98.69 L174.42 98.52 L175.97 98.34 L177.52 98.17 L179.07 98 L180.62 97.82 L182.17 97.65 L183.71 97.48 L185.26 97.3 L185.45 97.28" fill="none" stroke="#4cc4e8" stroke-width="1.6" stroke-linejoin="round" stroke-linecap="butt"/>
<path d="M67.25 113.46 L67.34 113.45 L67.42 113.43 L67.51 113.39 L67.59 113.33 L67.68 113.23 L67.76 113.1 L67.85 112.93 L67.93 112.72 L68.02 112.45 L68.1 112.12 L68.19 111.73 L68.27 111.27 L68.36 110.74 L68.44 110.13 L68.52 109.44 L68.61 108.66 L68.69 107.79 L68.78 106.83 L68.86 105.76 L68.95 104.59 L69.03 103.31 L69.12 101.92 L69.2 100.41 L69.29 98.78 L69.36 99.28 L69.45 99.76 L69.56 100.19 L69.67 100.58 L69.81 100.92 L69.96 101.2 L70.14 101.43 L70.35 101.61 L70.59 101.75 L70.86 101.87 L71.17 101.97 L71.53 102.05 L71.95 102.13 L72.42 102.2 L72.97 102.27 L73.6 102.33 L74.33 102.39 L75.16 102.43 L76.12 102.47 L77.22 102.49 L78.49 102.5 L79.94 102.49 L81.49 102.46 L83.04 102.41 L84.59 102.35 L86.14 102.28 L87.69 102.21 L89.24 102.12 L90.79 102.03 L92.34 101.93 L93.88 101.83 L95.43 101.72 L96.98 101.61 L98.53 101.5 L100.08 101.38 L101.63 101.26 L103.18 101.14 L104.73 101.02 L106.27 100.89 L107.82 100.76 L109.37 100.63 L110.92 100.5 L112.47 100.36 L114.02 100.23 L115.57 100.09 L117.12 99.95 L118.66 99.81 L120.21 99.67 L121.76 99.53 L123.31 99.39 L124.86 99.24 L126.41 99.1 L127.96 98.95 L129.51 98.81 L131.06 98.66 L132.6 98.51 L134.15 98.36 L135.7 98.21 L137.25 98.06 L138.8 97.91 L140.35 97.76 L141.9 97.61 L143.45 97.46 L144.99 97.3 L146.54 97.15 L148.09 97 L149.64 96.84 L151.19 96.69 L152.74 96.53 L154.29 96.38 L155.84 96.22 L157.38 96.06 L158.93 95.91 L160.48 95.75 L162.03 95.59 L163.58 95.44 L165.13 95.28 L166.68 95.12 L168.23 94.96 L169.78 94.8 L171.32 94.64 L172.87 94.48 L174.42 94.32 L175.97 94.16 L177.52 94 L179.07 93.84 L180.62 93.68 L182.17 93.52 L183.71 93.36 L185.26 93.2 L185.45 93.18" fill="none" stroke="#2444ad" stroke-width="1.6" stroke-linejoin="round" stroke-linecap="butt"/>
<path d="M67.25 113.46 L67.34 113.44 L67.42 113.4 L67.51 113.32 L67.59 113.2 L67.68 113.04 L67.76 112.84 L67.85 112.59 L67.93 112.29 L68.02 111.94 L68.1 111.54 L68.19 111.08 L68.27 110.57 L68.36 109.99 L68.44 109.36 L68.52 108.67 L68.61 107.92 L68.69 107.1 L68.78 106.23 L68.86 105.28 L68.95 104.27 L69.03 103.19 L69.12 102.05 L69.2 100.83 L69.29 99.55 L69.36 99.65 L69.45 99.77 L69.56 99.89 L69.67 100.02 L69.81 100.16 L69.96 100.3 L70.14 100.45 L70.35 100.6 L70.59 100.76 L70.86 100.92 L71.17 101.08 L71.53 101.24 L71.95 101.4 L72.42 101.56 L72.97 101.71 L73.6 101.86 L74.33 102.01 L75.16 102.14 L76.12 102.26 L77.22 102.37 L78.49 102.46 L79.94 102.53 L81.49 102.58 L83.04 102.6 L84.59 102.6 L86.14 102.58 L87.69 102.55 L89.24 102.51 L90.79 102.46 L92.34 102.4 L93.88 102.34 L95.43 102.27 L96.98 102.19 L98.53 102.1 L100.08 102.02 L101.63 101.92 L103.18 101.83 L104.73 101.73 L106.27 101.62 L107.82 101.52 L109.37 101.41 L110.92 101.3 L112.47 101.18 L114.02 101.07 L115.57 100.95 L117.12 100.83 L118.66 100.71 L120.21 100.58 L121.76 100.46 L123.31 100.33 L124.86 100.2 L126.41 100.08 L127.96 99.94 L129.51 99.81 L131.06 99.68 L132.6 99.54 L134.15 99.41 L135.7 99.27 L137.25 99.14 L138.8 99 L140.35 98.86 L141.9 98.72 L143.45 98.58 L144.99 98.44 L146.54 98.29 L148.09 98.15 L149.64 98.01 L151.19 97.86 L152.74 97.72 L154.29 97.57 L155.84 97.43 L157.38 97.28 L158.93 97.13 L160.48 96.99 L162.03 96.84 L163.58 96.69 L165.13 96.54 L166.68 96.39 L168.23 96.24 L169.78 96.09 L171.32 95.94 L172.87 95.79 L174.42 95.64 L175.97 95.48 L177.52 95.33 L179.07 95.18 L180.62 95.02 L182.17 94.87 L183.71 94.72 L185.26 94.56 L185.45 94.54" fill="none" stroke="#d42222" stroke-width="1.6" stroke-linejoin="round" stroke-linecap="butt"/>
<path d="M67.25 113.46 L67.34 113.45 L67.42 113.43 L67.51 113.39 L67.59 113.33 L67.68 113.23 L67.76 113.1 L67.85 112.93 L67.93 112.72 L68.02 112.45 L68.1 112.12 L68.19 111.73 L68.27 111.27 L68.36 110.74 L68.44 110.13 L68.52 109.44 L68.61 108.66 L68.69 107.79 L68.78 106.83 L68.86 105.76 L68.95 104.59 L69.03 103.31 L69.12 101.92 L69.2 100.41 L69.29 98.78 L69.36 99.28 L69.45 99.76 L69.56 100.19 L69.67 100.58 L69.81 100.92 L69.96 101.2 L70.14 101.43 L70.35 101.61 L70.59 101.75 L70.86 101.87 L71.17 101.97 L71.53 102.05 L71.95 102.13 L72.42 102.2 L72.97 102.27 L73.6 102.33 L74.33 102.39 L75.16 102.43 L76.12 102.47 L77.22 102.49 L78.49 102.5 L79.94 102.49 L81.49 102.46 L83.04 102.41 L84.59 102.35 L86.14 102.28 L87.69 102.21 L89.24 102.12 L90.79 102.03 L92.34 101.93 L93.88 101.83 L95.43 101.72 L96.98 101.61 L98.53 101.5 L100.08 101.38 L101.63 101.26 L103.18 101.14 L104.73 101.02 L106.27 100.89 L107.82 100.76 L109.37 100.63 L110.92 100.5 L112.47 100.36 L114.02 100.23 L115.57 100.09 L117.12 99.95 L118.66 99.81 L120.21 99.67 L121.76 99.53 L123.31 99.39 L124.86 99.24 L126.41 99.1 L127.96 98.95 L129.51 98.81 L131.06 98.66 L132.6 98.51 L134.15 98.36 L135.7 98.21 L137.25 98.06 L138.8 97.91 L140.35 97.76 L141.9 97.61 L143.45 97.46 L144.99 97.3 L146.54 97.15 L148.09 97 L149.64 96.84 L151.19 96.69 L152.74 96.53 L154.29 96.38 L155.84 96.22 L157.38 96.06 L158.93 95.91 L160.48 95.75 L162.03 95.59 L163.58 95.44 L165.13 95.28 L166.68 95.12 L168.23 94.96 L169.78 94.8 L171.32 94.64 L172.87 94.48 L174.42 94.32 L175.97 94.16 L177.52 94 L179.07 93.84 L180.62 93.68 L182.17 93.52 L183.71 93.36 L185.26 93.2 L186.81 93.03 L187.29 92.98" fill="none" stroke="#2444ad" stroke-width="1.6" stroke-linejoin="round" stroke-linecap="butt"/>
<path d="M68.81 115.92 L68.98 115.9 L69.15 115.86 L69.32 115.82 L69.49 115.76 L69.66 115.68 L69.82 115.59 L69.99 115.48 L70.16 115.35 L70.33 115.21 L70.5 115.04 L70.67 114.85 L70.84 114.64 L71.01 114.41 L71.18 114.16 L71.35 113.89 L71.52 113.59 L71.69 113.27 L71.86 112.92 L72.03 112.55 L72.2 112.16 L72.37 111.74 L72.53 111.29 L72.7 110.82 L72.87 110.32 L72.95 110.36 L73.04 110.43 L73.14 110.49 L73.26 110.56 L73.4 110.62 L73.55 110.68 L73.73 110.74 L73.94 110.8 L74.17 110.85 L74.45 110.9 L74.76 110.94 L75.12 110.97 L75.53 111 L76.01 111.02 L76.56 111.02 L77.19 111.02 L77.91 111.01 L78.75 110.98 L79.7 110.95 L80.81 110.9 L82.07 110.83 L83.53 110.74 L85.08 110.64 L86.63 110.53 L88.18 110.41 L89.73 110.29 L91.28 110.16 L92.82 110.02 L94.37 109.88 L95.92 109.74 L97.47 109.59 L99.02 109.44 L100.57 109.29 L102.12 109.14 L103.67 108.99 L105.21 108.83 L106.76 108.67 L108.31 108.51 L109.86 108.35 L111.41 108.19 L112.96 108.02 L114.51 107.86 L116.06 107.7 L117.61 107.53 L119.15 107.36 L120.7 107.2 L122.25 107.03 L123.8 106.86 L125.35 106.69 L126.9 106.52 L128.45 106.35 L130 106.19 L131.54 106.02 L133.09 105.85 L134.64 105.67 L136.19 105.5 L137.74 105.33 L139.29 105.16 L140.84 104.99 L142.39 104.82 L143.93 104.65 L145.48 104.47 L147.03 104.3 L148.58 104.13 L150.13 103.96 L151.68 103.78 L153.23 103.61 L154.78 103.44 L156.33 103.27 L157.87 103.09 L159.42 102.92 L160.97 102.75 L162.52 102.57 L164.07 102.4 L165.62 102.23 L167.17 102.05 L168.72 101.88 L170.26 101.7 L171.81 101.53 L173.36 101.36 L174.91 101.18 L176.46 101.01 L178.01 100.83 L179.56 100.66 L181.11 100.49 L182.65 100.31 L184.2 100.14 L185.75 99.96 L187.3 99.79 L188.85 99.61 L189.03 99.59" fill="none" stroke="#4cc4e8" stroke-width="1.6" stroke-linejoin="round" stroke-linecap="butt"/>
<path d="M68.81 115.92 L68.98 115.9 L69.15 115.87 L69.32 115.83 L69.49 115.78 L69.66 115.71 L69.82 115.61 L69.99 115.49 L70.16 115.33 L70.33 115.15 L70.5 114.92 L70.67 114.66 L70.84 114.35 L71.01 113.99 L71.18 113.59 L71.35 113.13 L71.52 112.61 L71.69 112.04 L71.86 111.4 L72.03 110.7 L72.2 109.94 L72.37 109.1 L72.53 108.19 L72.7 107.2 L72.87 106.13 L72.95 106.31 L73.04 106.48 L73.14 106.63 L73.26 106.77 L73.4 106.89 L73.55 106.99 L73.73 107.08 L73.94 107.15 L74.17 107.2 L74.45 107.25 L74.76 107.29 L75.12 107.32 L75.53 107.35 L76.01 107.37 L76.56 107.38 L77.19 107.39 L77.91 107.39 L78.75 107.38 L79.7 107.36 L80.81 107.33 L82.07 107.27 L83.53 107.2 L85.08 107.11 L86.63 107.01 L88.18 106.91 L89.73 106.79 L91.28 106.68 L92.82 106.56 L94.37 106.43 L95.92 106.3 L97.47 106.17 L99.02 106.03 L100.57 105.9 L102.12 105.76 L103.67 105.62 L105.21 105.47 L106.76 105.33 L108.31 105.18 L109.86 105.04 L111.41 104.89 L112.96 104.74 L114.51 104.59 L116.06 104.44 L117.61 104.28 L119.15 104.13 L120.7 103.98 L122.25 103.82 L123.8 103.67 L125.35 103.51 L126.9 103.35 L128.45 103.2 L130 103.04 L131.54 102.88 L133.09 102.72 L134.64 102.56 L136.19 102.4 L137.74 102.24 L139.29 102.08 L140.84 101.92 L142.39 101.76 L143.93 101.6 L145.48 101.43 L147.03 101.27 L148.58 101.11 L150.13 100.94 L151.68 100.78 L153.23 100.62 L154.78 100.45 L156.33 100.29 L157.87 100.12 L159.42 99.96 L160.97 99.79 L162.52 99.63 L164.07 99.46 L165.62 99.3 L167.17 99.13 L168.72 98.97 L170.26 98.8 L171.81 98.63 L173.36 98.47 L174.91 98.3 L176.46 98.13 L178.01 97.97 L179.56 97.8 L181.11 97.63 L182.65 97.46 L184.2 97.29 L185.75 97.13 L187.3 96.96 L188.85 96.79 L189.03 96.77" fill="none" stroke="#2444ad" stroke-width="1.6" stroke-linejoin="round" stroke-linecap="butt"/>
<path d="M68.81 115.92 L68.98 115.89 L69.15 115.85 L69.32 115.78 L69.49 115.69 L69.66 115.57 L69.82 115.42 L69.99 115.23 L70.16 115.01 L70.33 114.76 L70.5 114.47 L70.67 114.14 L70.84 113.78 L71.01 113.37 L71.18 112.92 L71.35 112.44 L71.52 111.91 L71.69 111.33 L71.86 110.72 L72.03 110.05 L72.2 109.35 L72.37 108.59 L72.53 107.79 L72.7 106.94 L72.87 106.05 L72.95 106.11 L73.04 106.18 L73.14 106.25 L73.26 106.32 L73.4 106.4 L73.55 106.48 L73.73 106.56 L73.94 106.65 L74.17 106.73 L74.45 106.82 L74.76 106.9 L75.12 106.98 L75.53 107.06 L76.01 107.14 L76.56 107.21 L77.19 107.27 L77.91 107.33 L78.75 107.37 L79.7 107.4 L80.81 107.42 L82.07 107.42 L83.53 107.4 L85.08 107.36 L86.63 107.3 L88.18 107.23 L89.73 107.15 L91.28 107.07 L92.82 106.97 L94.37 106.87 L95.92 106.77 L97.47 106.66 L99.02 106.54 L100.57 106.43 L102.12 106.31 L103.67 106.18 L105.21 106.06 L106.76 105.93 L108.31 105.8 L109.86 105.67 L111.41 105.53 L112.96 105.4 L114.51 105.26 L116.06 105.12 L117.61 104.98 L119.15 104.84 L120.7 104.7 L122.25 104.55 L123.8 104.41 L125.35 104.26 L126.9 104.12 L128.45 103.97 L130 103.82 L131.54 103.67 L133.09 103.52 L134.64 103.37 L136.19 103.22 L137.74 103.07 L139.29 102.91 L140.84 102.76 L142.39 102.61 L143.93 102.45 L145.48 102.3 L147.03 102.14 L148.58 101.99 L150.13 101.83 L151.68 101.67 L153.23 101.52 L154.78 101.36 L156.33 101.2 L157.87 101.04 L159.42 100.88 L160.97 100.73 L162.52 100.57 L164.07 100.41 L165.62 100.25 L167.17 100.09 L168.72 99.93 L170.26 99.76 L171.81 99.6 L173.36 99.44 L174.91 99.28 L176.46 99.12 L178.01 98.96 L179.56 98.79 L181.11 98.63 L182.65 98.47 L184.2 98.31 L185.75 98.14 L187.3 97.98 L188.85 97.82 L189.03 97.8" fill="none" stroke="#d42222" stroke-width="1.6" stroke-linejoin="round" stroke-linecap="butt"/>
<path d="M68.81 115.92 L68.98 115.9 L69.15 115.87 L69.32 115.83 L69.49 115.78 L69.66 115.71 L69.82 115.61 L69.99 115.49 L70.16 115.33 L70.33 115.15 L70.5 114.92 L70.67 114.66 L70.84 114.35 L71.01 113.99 L71.18 113.59 L71.35 113.13 L71.52 112.61 L71.69 112.04 L71.86 111.4 L72.03 110.7 L72.2 109.94 L72.37 109.1 L72.53 108.19 L72.7 107.2 L72.87 106.13 L72.95 106.31 L73.04 106.48 L73.14 106.63 L73.26 106.77 L73.4 106.89 L73.55 106.99 L73.73 107.08 L73.94 107.15 L74.17 107.2 L74.45 107.25 L74.76 107.29 L75.12 107.32 L75.53 107.35 L76.01 107.37 L76.56 107.38 L77.19 107.39 L77.91 107.39 L78.75 107.38 L79.7 107.36 L80.81 107.33 L82.07 107.27 L83.53 107.2 L85.08 107.11 L86.63 107.01 L88.18 106.91 L89.73 106.79 L91.28 106.68 L92.82 106.56 L94.37 106.43 L95.92 106.3 L97.47 106.17 L99.02 106.03 L100.57 105.9 L102.12 105.76 L103.67 105.62 L105.21 105.47 L106.76 105.33 L108.31 105.18 L109.86 105.04 L111.41 104.89 L112.96 104.74 L114.51 104.59 L116.06 104.44 L117.61 104.28 L119.15 104.13 L120.7 103.98 L122.25 103.82 L123.8 103.67 L125.35 103.51 L126.9 103.35 L128.45 103.2 L130 103.04 L131.54 102.88 L133.09 102.72 L134.64 102.56 L136.19 102.4 L137.74 102.24 L139.29 102.08 L140.84 101.92 L142.39 101.76 L143.93 101.6 L145.48 101.43 L147.03 101.27 L148.58 101.11 L150.13 100.94 L151.68 100.78 L153.23 100.62 L154.78 100.45 L156.33 100.29 L157.87 100.12 L159.42 99.96 L160.97 99.79 L162.52 99.63 L164.07 99.46 L165.62 99.3 L167.17 99.13 L168.72 98.97 L170.26 98.8 L171.81 98.63 L173.36 98.47 L174.91 98.3 L176.46 98.13 L178.01 97.97 L179.56 97.8 L181.11 97.63 L182.65 97.46 L184.2 97.29 L185.75 97.13 L187.3 96.96 L188.85 96.79 L190.4 96.62 L190.78 96.58" fill="none" stroke="#2444ad" stroke-width="1.6" stroke-linejoin="round" stroke-linecap="butt"/>
<path d="M70.29 118.26 L70.54 118.23 L70.79 118.19 L71.04 118.14 L71.29 118.07 L71.54 117.99 L71.79 117.9 L72.04 117.78 L72.29 117.66 L72.54 117.51 L72.79 117.35 L73.04 117.16 L73.29 116.96 L73.54 116.74 L73.79 116.5 L74.04 116.24 L74.29 115.95 L74.54 115.65 L74.79 115.32 L75.04 114.97 L75.29 114.59 L75.54 114.2 L75.79 113.78 L76.04 113.34 L76.29 112.87 L76.37 112.89 L76.46 112.93 L76.56 112.97 L76.68 113 L76.81 113.04 L76.97 113.08 L77.15 113.11 L77.35 113.14 L77.59 113.16 L77.86 113.18 L78.18 113.19 L78.54 113.2 L78.95 113.2 L79.43 113.19 L79.97 113.17 L80.6 113.14 L81.33 113.11 L82.16 113.06 L83.12 112.99 L84.22 112.92 L85.49 112.82 L86.95 112.71 L88.5 112.58 L90.05 112.44 L91.59 112.3 L93.14 112.16 L94.69 112.01 L96.24 111.86 L97.79 111.71 L99.34 111.55 L100.89 111.39 L102.44 111.23 L103.98 111.07 L105.53 110.91 L107.08 110.75 L108.63 110.58 L110.18 110.42 L111.73 110.25 L113.28 110.08 L114.83 109.92 L116.37 109.75 L117.92 109.58 L119.47 109.41 L121.02 109.24 L122.57 109.07 L124.12 108.9 L125.67 108.73 L127.22 108.56 L128.77 108.38 L130.31 108.21 L131.86 108.04 L133.41 107.87 L134.96 107.69 L136.51 107.52 L138.06 107.35 L139.61 107.17 L141.16 107 L142.7 106.83 L144.25 106.65 L145.8 106.48 L147.35 106.3 L148.9 106.13 L150.45 105.95 L152 105.78 L153.55 105.61 L155.09 105.43 L156.64 105.26 L158.19 105.08 L159.74 104.91 L161.29 104.73 L162.84 104.56 L164.39 104.38 L165.94 104.21 L167.49 104.03 L169.03 103.86 L170.58 103.68 L172.13 103.5 L173.68 103.33 L175.23 103.15 L176.78 102.98 L178.33 102.8 L179.88 102.63 L181.42 102.45 L182.97 102.28 L184.52 102.1 L186.07 101.92 L187.62 101.75 L189.17 101.57 L190.72 101.4 L192.27 101.22 L192.45 101.2" fill="none" stroke="#4cc4e8" stroke-width="1.6" stroke-linejoin="round" stroke-linecap="butt"/>
<path d="M70.29 118.26 L70.54 118.23 L70.79 118.2 L71.04 118.16 L71.29 118.1 L71.54 118.03 L71.79 117.94 L72.04 117.84 L72.29 117.71 L72.54 117.55 L72.79 117.36 L73.04 117.15 L73.29 116.9 L73.54 116.61 L73.79 116.29 L74.04 115.93 L74.29 115.52 L74.54 115.07 L74.79 114.57 L75.04 114.03 L75.29 113.43 L75.54 112.78 L75.79 112.07 L76.04 111.3 L76.29 110.48 L76.37 110.64 L76.46 110.79 L76.56 110.93 L76.68 111.06 L76.81 111.16 L76.97 111.25 L77.15 111.31 L77.35 111.36 L77.59 111.4 L77.86 111.42 L78.18 111.43 L78.54 111.44 L78.95 111.44 L79.43 111.43 L79.97 111.42 L80.6 111.39 L81.33 111.36 L82.16 111.32 L83.12 111.27 L84.22 111.2 L85.49 111.11 L86.95 111 L88.5 110.88 L90.05 110.75 L91.59 110.61 L93.14 110.48 L94.69 110.34 L96.24 110.19 L97.79 110.05 L99.34 109.9 L100.89 109.75 L102.44 109.6 L103.98 109.45 L105.53 109.29 L107.08 109.14 L108.63 108.98 L110.18 108.82 L111.73 108.66 L113.28 108.51 L114.83 108.35 L116.37 108.18 L117.92 108.02 L119.47 107.86 L121.02 107.7 L122.57 107.54 L124.12 107.37 L125.67 107.21 L127.22 107.05 L128.77 106.88 L130.31 106.72 L131.86 106.55 L133.41 106.39 L134.96 106.22 L136.51 106.05 L138.06 105.89 L139.61 105.72 L141.16 105.55 L142.7 105.38 L144.25 105.22 L145.8 105.05 L147.35 104.88 L148.9 104.71 L150.45 104.54 L152 104.38 L153.55 104.21 L155.09 104.04 L156.64 103.87 L158.19 103.7 L159.74 103.53 L161.29 103.36 L162.84 103.19 L164.39 103.02 L165.94 102.85 L167.49 102.68 L169.03 102.51 L170.58 102.34 L172.13 102.17 L173.68 102 L175.23 101.82 L176.78 101.65 L178.33 101.48 L179.88 101.31 L181.42 101.14 L182.97 100.97 L184.52 100.8 L186.07 100.62 L187.62 100.45 L189.17 100.28 L190.72 100.11 L192.27 99.94 L192.45 99.92" fill="none" stroke="#2444ad" stroke-width="1.6" stroke-linejoin="round" stroke-linecap="butt"/>
<path d="M70.29 118.26 L70.54 118.23 L70.79 118.18 L71.04 118.12 L71.29 118.03 L71.54 117.93 L71.79 117.8 L72.04 117.64 L72.29 117.47 L72.54 117.26 L72.79 117.03 L73.04 116.77 L73.29 116.48 L73.54 116.16 L73.79 115.81 L74.04 115.42 L74.29 115.01 L74.54 114.56 L74.79 114.08 L75.04 113.57 L75.29 113.02 L75.54 112.44 L75.79 111.82 L76.04 111.17 L76.29 110.48 L76.37 110.52 L76.46 110.56 L76.56 110.6 L76.68 110.65 L76.81 110.7 L76.97 110.75 L77.15 110.8 L77.35 110.85 L77.59 110.9 L77.86 110.94 L78.18 110.99 L78.54 111.03 L78.95 111.07 L79.43 111.11 L79.97 111.14 L80.6 111.16 L81.33 111.17 L82.16 111.17 L83.12 111.15 L84.22 111.12 L85.49 111.08 L86.95 111.01 L88.5 110.92 L90.05 110.83 L91.59 110.73 L93.14 110.62 L94.69 110.5 L96.24 110.38 L97.79 110.26 L99.34 110.13 L100.89 110 L102.44 109.86 L103.98 109.73 L105.53 109.59 L107.08 109.45 L108.63 109.3 L110.18 109.16 L111.73 109.01 L113.28 108.87 L114.83 108.72 L116.37 108.57 L117.92 108.42 L119.47 108.27 L121.02 108.12 L122.57 107.96 L124.12 107.81 L125.67 107.65 L127.22 107.5 L128.77 107.34 L130.31 107.18 L131.86 107.03 L133.41 106.87 L134.96 106.71 L136.51 106.55 L138.06 106.39 L139.61 106.23 L141.16 106.07 L142.7 105.91 L144.25 105.75 L145.8 105.59 L147.35 105.43 L148.9 105.26 L150.45 105.1 L152 104.94 L153.55 104.78 L155.09 104.61 L156.64 104.45 L158.19 104.28 L159.74 104.12 L161.29 103.96 L162.84 103.79 L164.39 103.63 L165.94 103.46 L167.49 103.29 L169.03 103.13 L170.58 102.96 L172.13 102.8 L173.68 102.63 L175.23 102.46 L176.78 102.3 L178.33 102.13 L179.88 101.96 L181.42 101.8 L182.97 101.63 L184.52 101.46 L186.07 101.29 L187.62 101.12 L189.17 100.96 L190.72 100.79 L192.27 100.62 L192.45 100.6" fill="none" stroke="#d42222" stroke-width="1.6" stroke-linejoin="round" stroke-linecap="butt"/>
<path d="M70.29 118.26 L70.54 118.23 L70.79 118.2 L71.04 118.16 L71.29 118.1 L71.54 118.03 L71.79 117.94 L72.04 117.84 L72.29 117.71 L72.54 117.55 L72.79 117.36 L73.04 117.15 L73.29 116.9 L73.54 116.61 L73.79 116.29 L74.04 115.93 L74.29 115.52 L74.54 115.07 L74.79 114.57 L75.04 114.03 L75.29 113.43 L75.54 112.78 L75.79 112.07 L76.04 111.3 L76.29 110.48 L76.37 110.64 L76.46 110.79 L76.56 110.93 L76.68 111.06 L76.81 111.16 L76.97 111.25 L77.15 111.31 L77.35 111.36 L77.59 111.4 L77.86 111.42 L78.18 111.43 L78.54 111.44 L78.95 111.44 L79.43 111.43 L79.97 111.42 L80.6 111.39 L81.33 111.36 L82.16 111.32 L83.12 111.27 L84.22 111.2 L85.49 111.11 L86.95 111 L88.5 110.88 L90.05 110.75 L91.59 110.61 L93.14 110.48 L94.69 110.34 L96.24 110.19 L97.79 110.05 L99.34 109.9 L100.89 109.75 L102.44 109.6 L103.98 109.45 L105.53 109.29 L107.08 109.14 L108.63 108.98 L110.18 108.82 L111.73 108.66 L113.28 108.51 L114.83 108.35 L116.37 108.18 L117.92 108.02 L119.47 107.86 L121.02 107.7 L122.57 107.54 L124.12 107.37 L125.67 107.21 L127.22 107.05 L128.77 106.88 L130.31 106.72 L131.86 106.55 L133.41 106.39 L134.96 106.22 L136.51 106.05 L138.06 105.89 L139.61 105.72 L141.16 105.55 L142.7 105.38 L144.25 105.22 L145.8 105.05 L147.35 104.88 L148.9 104.71 L150.45 104.54 L152 104.38 L153.55 104.21 L155.09 104.04 L156.64 103.87 L158.19 103.7 L159.74 103.53 L161.29 103.36 L162.84 103.19 L164.39 103.02 L165.94 102.85 L167.49 102.68 L169.03 102.51 L170.58 102.34 L172.13 102.17 L173.68 102 L175.23 101.82 L176.78 101.65 L178.33 101.48 L179.88 101.31 L181.42 101.14 L182.97 100.97 L184.52 100.8 L186.07 100.62 L187.62 100.45 L189.17 100.28 L190.72 100.11 L192.27 99.94 L193.81 99.76 L194.19 99.72" fill="none" stroke="#2444ad" stroke-width="1.6" stroke-linejoin="round" stroke-linecap="butt"/>
<path d="M74.73 125.29 L75.22 125.23 L75.71 125.17 L76.2 125.11 L76.7 125.03 L77.19 124.95 L77.68 124.85 L78.17 124.74 L78.66 124.61 L79.16 124.47 L79.65 124.3 L80.14 124.12 L80.63 123.91 L81.12 123.68 L81.62 123.42 L82.11 123.13 L82.6 122.82 L83.09 122.47 L83.59 122.09 L84.08 121.68 L84.57 121.23 L85.06 120.75 L85.55 120.22 L86.05 119.66 L86.54 119.06 L86.62 119.07 L86.7 119.08 L86.81 119.1 L86.92 119.12 L87.06 119.13 L87.22 119.15 L87.39 119.16 L87.6 119.18 L87.84 119.2 L88.11 119.21 L88.42 119.22 L88.78 119.23 L89.2 119.24 L89.67 119.24 L90.22 119.23 L90.85 119.22 L91.58 119.2 L92.41 119.16 L93.37 119.12 L94.47 119.06 L95.74 118.98 L97.2 118.88 L98.74 118.77 L100.29 118.65 L101.84 118.52 L103.39 118.39 L104.94 118.26 L106.49 118.12 L108.04 117.98 L109.59 117.84 L111.13 117.69 L112.68 117.55 L114.23 117.4 L115.78 117.25 L117.33 117.1 L118.88 116.95 L120.43 116.79 L121.98 116.64 L123.53 116.48 L125.07 116.33 L126.62 116.17 L128.17 116.01 L129.72 115.85 L131.27 115.69 L132.82 115.53 L134.37 115.37 L135.92 115.21 L137.46 115.05 L139.01 114.89 L140.56 114.72 L142.11 114.56 L143.66 114.4 L145.21 114.23 L146.76 114.07 L148.31 113.9 L149.85 113.74 L151.4 113.57 L152.95 113.41 L154.5 113.24 L156.05 113.08 L157.6 112.91 L159.15 112.74 L160.7 112.58 L162.25 112.41 L163.79 112.24 L165.34 112.08 L166.89 111.91 L168.44 111.74 L169.99 111.57 L171.54 111.4 L173.09 111.23 L174.64 111.07 L176.18 110.9 L177.73 110.73 L179.28 110.56 L180.83 110.39 L182.38 110.22 L183.93 110.05 L185.48 109.88 L187.03 109.71 L188.57 109.54 L190.12 109.37 L191.67 109.2 L193.22 109.03 L194.77 108.86 L196.32 108.69 L197.87 108.52 L199.42 108.35 L200.97 108.18 L202.51 108.01 L202.7 107.99" fill="none" stroke="#2444ad" stroke-width="1.6" stroke-linejoin="round" stroke-linecap="butt"/>
<path d="M74.73 125.29 L75.22 125.23 L75.71 125.16 L76.2 125.08 L76.7 124.99 L77.19 124.88 L77.68 124.75 L78.17 124.61 L78.66 124.45 L79.16 124.27 L79.65 124.07 L80.14 123.86 L80.63 123.62 L81.12 123.36 L81.62 123.09 L82.11 122.79 L82.6 122.47 L83.09 122.12 L83.59 121.76 L84.08 121.37 L84.57 120.95 L85.06 120.52 L85.55 120.05 L86.05 119.57 L86.54 119.06 L86.62 119.08 L86.7 119.11 L86.81 119.13 L86.92 119.16 L87.06 119.18 L87.22 119.21 L87.39 119.24 L87.6 119.26 L87.84 119.28 L88.11 119.3 L88.42 119.32 L88.78 119.34 L89.2 119.35 L89.67 119.35 L90.22 119.35 L90.85 119.34 L91.58 119.31 L92.41 119.28 L93.37 119.24 L94.47 119.17 L95.74 119.09 L97.2 118.99 L98.74 118.87 L100.29 118.75 L101.84 118.62 L103.39 118.49 L104.94 118.35 L106.49 118.21 L108.04 118.07 L109.59 117.92 L111.13 117.77 L112.68 117.63 L114.23 117.47 L115.78 117.32 L117.33 117.17 L118.88 117.01 L120.43 116.86 L121.98 116.7 L123.53 116.54 L125.07 116.39 L126.62 116.23 L128.17 116.07 L129.72 115.91 L131.27 115.74 L132.82 115.58 L134.37 115.42 L135.92 115.26 L137.46 115.09 L139.01 114.93 L140.56 114.77 L142.11 114.6 L143.66 114.44 L145.21 114.27 L146.76 114.11 L148.31 113.94 L149.85 113.77 L151.4 113.61 L152.95 113.44 L154.5 113.27 L156.05 113.11 L157.6 112.94 L159.15 112.77 L160.7 112.6 L162.25 112.43 L163.79 112.27 L165.34 112.1 L166.89 111.93 L168.44 111.76 L169.99 111.59 L171.54 111.42 L173.09 111.25 L174.64 111.08 L176.18 110.91 L177.73 110.74 L179.28 110.57 L180.83 110.4 L182.38 110.23 L183.93 110.06 L185.48 109.89 L187.03 109.72 L188.57 109.55 L190.12 109.38 L191.67 109.21 L193.22 109.04 L194.77 108.86 L196.32 108.69 L197.87 108.52 L199.42 108.35 L200.97 108.18 L202.51 108.01 L202.7 107.99" fill="none" stroke="#d42222" stroke-width="1.6" stroke-linejoin="round" stroke-linecap="butt"/>
<path d="M74.73 125.29 L75.22 125.23 L75.71 125.17 L76.2 125.11 L76.7 125.03 L77.19 124.95 L77.68 124.85 L78.17 124.74 L78.66 124.61 L79.16 124.47 L79.65 124.3 L80.14 124.12 L80.63 123.91 L81.12 123.68 L81.62 123.42 L82.11 123.13 L82.6 122.82 L83.09 122.47 L83.59 122.09 L84.08 121.68 L84.57 121.23 L85.06 120.75 L85.55 120.22 L86.05 119.66 L86.54 119.06 L86.62 119.07 L86.7 119.08 L86.81 119.1 L86.92 119.12 L87.06 119.13 L87.22 119.15 L87.39 119.16 L87.6 119.18 L87.84 119.2 L88.11 119.21 L88.42 119.22 L88.78 119.23 L89.2 119.24 L89.67 119.24 L90.22 119.23 L90.85 119.22 L91.58 119.2 L92.41 119.16 L93.37 119.12 L94.47 119.06 L95.74 118.98 L97.2 118.88 L98.74 118.77 L100.29 118.65 L101.84 118.52 L103.39 118.39 L104.94 118.26 L106.49 118.12 L108.04 117.98 L109.59 117.84 L111.13 117.69 L112.68 117.55 L114.23 117.4 L115.78 117.25 L117.33 117.1 L118.88 116.95 L120.43 116.79 L121.98 116.64 L123.53 116.48 L125.07 116.33 L125.45 116.29" fill="none" stroke="#2444ad" stroke-width="1.6" stroke-linejoin="round" stroke-linecap="butt"/>
<path d="M83.61 139.35 L84.58 139.24 L85.56 139.12 L86.54 139.01 L87.51 138.89 L88.49 138.76 L89.46 138.62 L90.44 138.48 L91.42 138.32 L92.39 138.15 L93.37 137.96 L94.34 137.76 L95.32 137.53 L96.3 137.29 L97.27 137.01 L98.25 136.71 L99.23 136.38 L100.2 136.02 L101.18 135.62 L102.15 135.19 L103.13 134.71 L104.11 134.2 L105.08 133.64 L106.06 133.03 L107.03 132.38 L107.11 132.38 L107.2 132.38 L107.3 132.38 L107.42 132.38 L107.56 132.37 L107.71 132.37 L107.89 132.37 L108.1 132.36 L108.33 132.35 L108.61 132.34 L108.92 132.33 L109.28 132.31 L109.69 132.28 L110.17 132.25 L110.72 132.22 L111.35 132.17 L112.07 132.11 L112.91 132.05 L113.86 131.97 L114.97 131.87 L116.23 131.75 L117.69 131.61 L119.24 131.47 L120.79 131.31 L122.34 131.16 L123.89 131 L125.44 130.84 L126.98 130.68 L128.53 130.52 L130.08 130.36 L131.63 130.2 L133.18 130.03 L134.73 129.87 L136.28 129.7 L137.83 129.53 L139.37 129.37 L140.92 129.2 L142.47 129.03 L144.02 128.86 L145.57 128.7 L147.12 128.53 L148.67 128.36 L150.22 128.19 L151.77 128.02 L153.31 127.85 L154.86 127.68 L156.41 127.51 L157.96 127.33 L159.51 127.16 L161.06 126.99 L162.61 126.82 L164.16 126.65 L165.7 126.48 L167.25 126.3 L168.8 126.13 L170.35 125.96 L171.9 125.79 L173.45 125.61 L175 125.44 L176.55 125.27 L178.09 125.1 L179.64 124.92 L181.19 124.75 L182.74 124.58 L184.29 124.4 L185.84 124.23 L187.39 124.06 L188.94 123.88 L190.49 123.71 L192.03 123.53 L193.58 123.36 L195.13 123.19 L196.68 123.01 L198.23 122.84 L199.78 122.66 L201.33 122.49 L202.88 122.31 L204.42 122.14 L205.97 121.97 L207.52 121.79 L209.07 121.62 L210.62 121.44 L212.17 121.27 L213.72 121.09 L215.27 120.92 L216.81 120.74 L218.36 120.57 L219.91 120.39 L221.46 120.22 L223.01 120.04 L223.19 120.02" fill="none" stroke="#2444ad" stroke-width="1.6" stroke-linejoin="round" stroke-linecap="butt"/>
<path d="M83.61 139.35 L84.58 139.24 L85.56 139.12 L86.54 139 L87.51 138.86 L88.49 138.72 L89.46 138.57 L90.44 138.41 L91.42 138.23 L92.39 138.03 L93.37 137.82 L94.34 137.59 L95.32 137.34 L96.3 137.07 L97.27 136.78 L98.25 136.46 L99.23 136.12 L100.2 135.75 L101.18 135.36 L102.15 134.94 L103.13 134.49 L104.11 134.01 L105.08 133.5 L106.06 132.95 L107.03 132.38 L107.11 132.38 L107.2 132.39 L107.3 132.39 L107.42 132.39 L107.56 132.4 L107.71 132.4 L107.89 132.4 L108.1 132.4 L108.33 132.39 L108.61 132.38 L108.92 132.37 L109.28 132.36 L109.69 132.33 L110.17 132.3 L110.72 132.27 L111.35 132.22 L112.07 132.17 L112.91 132.1 L113.86 132.02 L114.97 131.92 L116.23 131.8 L117.69 131.66 L119.24 131.51 L120.79 131.36 L122.34 131.2 L123.89 131.04 L125.44 130.88 L126.98 130.72 L128.53 130.56 L130.08 130.4 L131.63 130.23 L133.18 130.07 L134.73 129.9 L136.28 129.73 L137.83 129.57 L139.37 129.4 L140.92 129.23 L142.47 129.06 L144.02 128.89 L145.57 128.72 L147.12 128.55 L148.67 128.38 L150.22 128.21 L151.77 128.04 L153.31 127.87 L154.86 127.7 L156.41 127.53 L157.96 127.35 L159.51 127.18 L161.06 127.01 L162.61 126.84 L164.16 126.67 L165.7 126.49 L167.25 126.32 L168.8 126.15 L170.35 125.97 L171.9 125.8 L173.45 125.63 L175 125.46 L176.55 125.28 L178.09 125.11 L179.64 124.93 L181.19 124.76 L182.74 124.59 L184.29 124.41 L185.84 124.24 L187.39 124.06 L188.94 123.89 L190.49 123.72 L192.03 123.54 L193.58 123.37 L195.13 123.19 L196.68 123.02 L198.23 122.84 L199.78 122.67 L201.33 122.49 L202.88 122.32 L204.42 122.14 L205.97 121.97 L207.52 121.79 L209.07 121.62 L210.62 121.44 L212.17 121.27 L213.72 121.09 L215.27 120.92 L216.81 120.74 L218.36 120.57 L219.91 120.39 L221.46 120.22 L223.01 120.04 L223.19 120.02" fill="none" stroke="#d42222" stroke-width="1.6" stroke-linejoin="round" stroke-linecap="butt"/>
<path d="M83.61 139.35 L84.58 139.24 L85.56 139.12 L86.54 139.01 L87.51 138.89 L88.49 138.76 L89.46 138.62 L90.44 138.48 L91.42 138.32 L92.39 138.15 L93.37 137.96 L94.34 137.76 L95.32 137.53 L96.3 137.29 L97.27 137.01 L98.25 136.71 L99.23 136.38 L100.2 136.02 L101.18 135.62 L102.15 135.19 L103.13 134.71 L104.11 134.2 L105.08 133.64 L106.06 133.03 L107.03 132.38 L107.11 132.38 L107.2 132.38 L107.3 132.38 L107.42 132.38 L107.56 132.37 L107.71 132.37 L107.89 132.37 L108.1 132.36 L108.33 132.35 L108.61 132.34 L108.92 132.33 L109.28 132.31 L109.69 132.28 L110.17 132.25 L110.72 132.22 L111.35 132.17 L112.07 132.11 L112.91 132.05 L113.86 131.97 L114.97 131.87 L116.23 131.75 L117.49 131.63" fill="none" stroke="#2444ad" stroke-width="1.6" stroke-linejoin="round" stroke-linecap="butt"/>
<path d="M74.88 125.53 L75.38 125.46 L75.88 125.37 L76.38 125.22 L76.88 125.01 L77.38 124.7 L77.88 124.28 L78.38 123.74 L78.88 123.06 L79.38 122.22 L79.88 121.21 L80.38 120 L80.88 118.6 L81.38 116.97 L81.88 115.12 L82.38 113.01 L82.88 110.65 L83.38 108.01 L83.88 105.08 L84.38 101.85 L84.88 98.3 L85.38 94.43 L85.88 90.22 L86.38 85.65 L86.88 80.71 L86.96 80.91 L87.05 81.13 L87.15 81.37 L87.27 81.63 L87.4 81.92 L87.56 82.23 L87.74 82.56 L87.94 82.92 L88.18 83.29 L88.45 83.69 L88.76 84.11 L89.13 84.55 L89.54 85.01 L90.02 85.48 L90.56 85.96 L91.19 86.45 L91.92 86.95 L92.75 87.46 L93.71 87.96 L94.81 88.47 L96.08 88.97 L97.54 89.45 L99.09 89.89 L100.63 90.27 L102.18 90.59 L103.73 90.87 L105.28 91.11 L106.83 91.32 L108.38 91.51 L109.93 91.67 L111.48 91.81 L113.03 91.94 L114.57 92.05 L116.12 92.14 L117.67 92.22 L119.22 92.29 L120.77 92.34 L122.32 92.39 L123.87 92.43 L125.42 92.46 L126.96 92.48 L128.51 92.49 L130.06 92.5 L131.61 92.5 L133.16 92.5 L134.71 92.49 L136.26 92.47 L137.81 92.45 L139.35 92.43 L140.9 92.4 L142.45 92.36 L144 92.33 L145.55 92.29 L147.1 92.24 L148.65 92.2 L150.2 92.15 L151.75 92.09 L153.29 92.04 L154.84 91.98 L156.39 91.91 L157.94 91.85 L159.49 91.78 L161.04 91.71 L162.59 91.64 L164.14 91.57 L165.68 91.5 L167.23 91.42 L168.78 91.34 L170.33 91.26 L171.88 91.18 L173.43 91.09 L174.98 91 L176.53 90.92 L178.07 90.83 L179.62 90.74 L181.17 90.65 L182.72 90.55 L184.27 90.46 L185.82 90.36 L187.37 90.26 L188.92 90.17 L190.47 90.07 L192.01 89.97 L193.56 89.86 L195.11 89.76 L196.66 89.66 L198.21 89.55 L199.76 89.45 L201.31 89.34 L202.86 89.23 L203.04 89.22" fill="none" stroke="#2444ad" stroke-width="1.6" stroke-linejoin="round" stroke-linecap="butt"/>
<path d="M74.88 125.53 L75.38 125.44 L75.88 125.28 L76.38 125.02 L76.88 124.65 L77.38 124.16 L77.88 123.55 L78.38 122.8 L78.88 121.9 L79.38 120.86 L79.88 119.66 L80.38 118.31 L80.88 116.8 L81.38 115.11 L81.88 113.26 L82.38 111.23 L82.88 109.03 L83.38 106.64 L83.88 104.06 L84.38 101.3 L84.88 98.35 L85.38 95.2 L85.88 91.85 L86.38 88.31 L86.88 84.56 L86.96 84.77 L87.05 85.01 L87.15 85.25 L87.27 85.52 L87.4 85.8 L87.56 86.09 L87.74 86.39 L87.94 86.71 L88.18 87.04 L88.45 87.37 L88.76 87.72 L89.13 88.07 L89.54 88.42 L90.02 88.78 L90.56 89.13 L91.19 89.49 L91.92 89.84 L92.75 90.19 L93.71 90.52 L94.81 90.85 L96.08 91.16 L97.54 91.45 L99.09 91.7 L100.63 91.91 L102.18 92.08 L103.73 92.21 L105.28 92.32 L106.83 92.41 L108.38 92.48 L109.93 92.54 L111.48 92.57 L113.03 92.6 L114.57 92.62 L116.12 92.62 L117.67 92.62 L119.22 92.6 L120.77 92.58 L122.32 92.56 L123.87 92.52 L125.42 92.48 L126.96 92.44 L128.51 92.39 L130.06 92.34 L131.61 92.28 L133.16 92.22 L134.71 92.15 L136.26 92.08 L137.81 92.01 L139.35 91.93 L140.9 91.85 L142.45 91.77 L144 91.69 L145.55 91.6 L147.1 91.51 L148.65 91.42 L150.2 91.33 L151.75 91.23 L153.29 91.13 L154.84 91.04 L156.39 90.93 L157.94 90.83 L159.49 90.73 L161.04 90.62 L162.59 90.52 L164.14 90.41 L165.68 90.3 L167.23 90.19 L168.78 90.07 L170.33 89.96 L171.88 89.84 L173.43 89.73 L174.98 89.61 L176.53 89.49 L178.07 89.37 L179.62 89.25 L181.17 89.13 L182.72 89.01 L184.27 88.89 L185.82 88.76 L187.37 88.64 L188.92 88.51 L190.47 88.39 L192.01 88.26 L193.56 88.13 L195.11 88 L196.66 87.88 L198.21 87.75 L199.76 87.61 L201.31 87.48 L202.86 87.35 L203.04 87.34" fill="none" stroke="#d42222" stroke-width="1.6" stroke-linejoin="round" stroke-linecap="butt"/>
<path d="M83.9 139.82 L84.9 139.7 L85.89 139.57 L86.88 139.42 L87.87 139.22 L88.86 138.97 L89.86 138.64 L90.85 138.2 L91.84 137.66 L92.83 136.97 L93.83 136.13 L94.82 135.11 L95.81 133.89 L96.8 132.44 L97.79 130.75 L98.79 128.79 L99.78 126.54 L100.77 123.98 L101.76 121.07 L102.76 117.81 L103.75 114.15 L104.74 110.09 L105.73 105.59 L106.72 100.63 L107.72 95.18 L107.79 95.65 L107.88 96.12 L107.99 96.57 L108.1 97.01 L108.24 97.42 L108.39 97.82 L108.57 98.2 L108.78 98.56 L109.02 98.91 L109.29 99.26 L109.6 99.62 L109.96 99.97 L110.38 100.34 L110.85 100.71 L111.4 101.1 L112.03 101.49 L112.76 101.88 L113.59 102.28 L114.55 102.67 L115.65 103.06 L116.92 103.43 L118.37 103.8 L119.92 104.13 L121.47 104.4 L123.02 104.63 L124.57 104.83 L126.12 104.99 L127.67 105.13 L129.22 105.25 L130.77 105.35 L132.31 105.44 L133.86 105.5 L135.41 105.56 L136.96 105.6 L138.51 105.63 L140.06 105.66 L141.61 105.67 L143.16 105.68 L144.7 105.67 L146.25 105.66 L147.8 105.65 L149.35 105.63 L150.9 105.6 L152.45 105.57 L154 105.53 L155.55 105.49 L157.09 105.45 L158.64 105.4 L160.19 105.35 L161.74 105.29 L163.29 105.23 L164.84 105.17 L166.39 105.1 L167.94 105.03 L169.49 104.96 L171.03 104.89 L172.58 104.81 L174.13 104.73 L175.68 104.65 L177.23 104.57 L178.78 104.48 L180.33 104.4 L181.88 104.31 L183.42 104.22 L184.97 104.12 L186.52 104.03 L188.07 103.93 L189.62 103.84 L191.17 103.74 L192.72 103.64 L194.27 103.53 L195.81 103.43 L197.36 103.33 L198.91 103.22 L200.46 103.12 L202.01 103.01 L203.56 102.9 L205.11 102.79 L206.66 102.68 L208.21 102.56 L209.75 102.45 L211.3 102.34 L212.85 102.22 L214.4 102.11 L215.95 101.99 L217.5 101.87 L219.05 101.75 L220.6 101.63 L222.14 101.51 L223.69 101.39 L223.88 101.38" fill="none" stroke="#2444ad" stroke-width="1.6" stroke-linejoin="round" stroke-linecap="butt"/>
<path d="M83.9 139.82 L84.9 139.7 L85.89 139.54 L86.88 139.34 L87.87 139.07 L88.86 138.72 L89.86 138.27 L90.85 137.72 L91.84 137.04 L92.83 136.22 L93.83 135.26 L94.82 134.15 L95.81 132.87 L96.8 131.41 L97.79 129.76 L98.79 127.91 L99.78 125.86 L100.77 123.59 L101.76 121.09 L102.76 118.35 L103.75 115.37 L104.74 112.14 L105.73 108.64 L106.72 104.87 L107.72 100.82 L107.79 101.01 L107.88 101.21 L107.99 101.42 L108.1 101.65 L108.24 101.88 L108.39 102.13 L108.57 102.39 L108.78 102.66 L109.02 102.94 L109.29 103.23 L109.6 103.52 L109.96 103.81 L110.38 104.11 L110.85 104.41 L111.4 104.71 L112.03 105.01 L112.76 105.3 L113.59 105.58 L114.55 105.86 L115.65 106.12 L116.92 106.37 L118.37 106.6 L119.92 106.79 L121.47 106.95 L123.02 107.07 L124.57 107.16 L126.12 107.23 L127.67 107.28 L129.22 107.32 L130.77 107.34 L132.31 107.35 L133.86 107.35 L135.41 107.33 L136.96 107.31 L138.51 107.28 L140.06 107.25 L141.61 107.21 L143.16 107.16 L144.7 107.11 L146.25 107.05 L147.8 106.98 L149.35 106.92 L150.9 106.85 L152.45 106.77 L154 106.69 L155.55 106.61 L157.09 106.53 L158.64 106.44 L160.19 106.35 L161.74 106.26 L163.29 106.16 L164.84 106.07 L166.39 105.97 L167.94 105.87 L169.49 105.76 L171.03 105.66 L172.58 105.55 L174.13 105.44 L175.68 105.33 L177.23 105.22 L178.78 105.11 L180.33 104.99 L181.88 104.88 L183.42 104.76 L184.97 104.64 L186.52 104.52 L188.07 104.4 L189.62 104.28 L191.17 104.16 L192.72 104.04 L194.27 103.91 L195.81 103.79 L197.36 103.66 L198.91 103.53 L200.46 103.4 L202.01 103.27 L203.56 103.14 L205.11 103.01 L206.66 102.88 L208.21 102.75 L209.75 102.62 L211.3 102.48 L212.85 102.35 L214.4 102.22 L215.95 102.08 L217.5 101.94 L219.05 101.81 L220.6 101.67 L222.14 101.53 L223.69 101.4 L223.88 101.38" fill="none" stroke="#d42222" stroke-width="1.6" stroke-linejoin="round" stroke-linecap="butt"/>
<path d="M110.99 182.69 L113.46 182.41 L115.92 182.12 L118.39 181.83 L120.86 181.52 L123.33 181.18 L125.8 180.8 L128.27 180.37 L130.74 179.87 L133.2 179.28 L135.67 178.58 L138.14 177.74 L140.61 176.74 L143.08 175.55 L145.55 174.15 L148.01 172.49 L150.48 170.56 L152.95 168.31 L155.42 165.71 L157.89 162.72 L160.36 159.3 L162.82 155.41 L165.29 151 L167.76 146.04 L170.23 140.47 L170.31 140.77 L170.4 141.06 L170.5 141.34 L170.62 141.62 L170.75 141.89 L170.91 142.14 L171.09 142.38 L171.29 142.62 L171.53 142.85 L171.8 143.08 L172.12 143.31 L172.48 143.54 L172.89 143.78 L173.37 144.02 L173.91 144.26 L174.54 144.51 L175.27 144.76 L176.1 145 L177.06 145.23 L178.16 145.46 L179.43 145.68 L180.89 145.88 L182.44 146.05 L183.99 146.18 L185.53 146.28 L187.08 146.36 L188.63 146.42 L190.18 146.46 L191.73 146.49 L193.28 146.5 L194.83 146.5 L196.38 146.5 L197.92 146.48 L199.47 146.45 L201.02 146.42 L202.57 146.38 L204.12 146.33 L205.67 146.28 L207.22 146.22 L208.77 146.16 L210.31 146.1 L211.86 146.03 L213.41 145.95 L214.96 145.88 L216.51 145.79 L218.06 145.71 L219.61 145.62 L221.16 145.54 L222.71 145.44 L224.25 145.35 L225.8 145.25 L227.35 145.15 L228.9 145.05 L230.45 144.95 L232 144.85 L233.55 144.74 L235.1 144.63 L236.64 144.52 L238.19 144.41 L239.74 144.3 L241.29 144.18 L242.84 144.07 L244.39 143.95 L245.94 143.83 L247.49 143.71 L249.03 143.59 L250.58 143.47 L252.13 143.35 L253.68 143.22 L255.23 143.1 L255.61 143.07" fill="none" stroke="#2444ad" stroke-width="1.6" stroke-linejoin="round" stroke-linecap="butt"/>
<path d="M110.99 182.69 L113.46 182.4 L115.92 182.09 L118.39 181.74 L120.86 181.34 L123.33 180.87 L125.8 180.32 L128.27 179.67 L130.74 178.92 L133.2 178.05 L135.67 177.06 L138.14 175.92 L140.61 174.63 L143.08 173.17 L145.55 171.55 L148.01 169.74 L150.48 167.73 L152.95 165.52 L155.42 163.09 L157.89 160.44 L160.36 157.56 L162.82 154.42 L165.29 151.04 L167.76 147.39 L170.23 143.46 L170.31 143.59 L170.4 143.73 L170.5 143.88 L170.62 144.04 L170.75 144.21 L170.91 144.38 L171.09 144.56 L171.29 144.75 L171.53 144.94 L171.8 145.14 L172.12 145.34 L172.48 145.54 L172.89 145.74 L173.37 145.94 L173.91 146.13 L174.54 146.33 L175.27 146.51 L176.1 146.69 L177.06 146.86 L178.16 147.01 L179.43 147.15 L180.89 147.26 L182.44 147.35 L183.99 147.41 L185.53 147.45 L187.08 147.46 L188.63 147.46 L190.18 147.45 L191.73 147.43 L193.28 147.39 L194.83 147.35 L196.38 147.3 L197.92 147.24 L199.47 147.17 L201.02 147.1 L202.57 147.02 L204.12 146.94 L205.67 146.86 L207.22 146.77 L208.77 146.68 L210.31 146.58 L211.86 146.49 L213.41 146.38 L214.96 146.28 L216.51 146.17 L218.06 146.06 L219.61 145.95 L221.16 145.84 L222.71 145.73 L224.25 145.61 L225.8 145.49 L227.35 145.37 L228.9 145.25 L230.45 145.13 L232 145 L233.55 144.88 L235.1 144.75 L236.64 144.62 L238.19 144.49 L239.74 144.36 L241.29 144.23 L242.84 144.1 L244.39 143.96 L245.94 143.83 L247.49 143.69 L249.03 143.56 L250.58 143.42 L252.13 143.28 L253.68 143.15 L255.23 143.01 L256.78 142.87 L258.33 142.73 L259.88 142.59 L261.43 142.44 L262.97 142.3 L264.52 142.16 L266.07 142.01 L267.62 141.87 L269.17 141.73 L270.72 141.58 L272.27 141.44 L273.82 141.29 L275.36 141.14 L276.91 141 L278.46 140.85 L280.01 140.7 L281.56 140.55 L283.11 140.4 L284.66 140.25 L284.84 140.24" fill="none" stroke="#d42222" stroke-width="1.6" stroke-linejoin="round" stroke-linecap="butt"/>
<path d="M110.99 182.69 L113.46 182.41 L115.92 182.12 L118.39 181.83 L120.86 181.52 L123.33 181.18 L125.8 180.8 L128.27 180.37 L130.74 179.87 L133.2 179.28 L135.67 178.58 L138.14 177.74 L140.61 176.74 L143.08 175.55 L145.55 174.15 L148.01 172.49 L150.48 170.56 L152.95 168.31 L155.42 165.71 L157.89 162.72 L160.36 159.3 L162.82 155.41 L165.29 151 L167.76 146.04 L170.23 140.47 L170.31 140.77 L170.4 141.06 L170.5 141.34 L170.62 141.62 L170.75 141.89 L170.91 142.14 L171.09 142.38 L171.29 142.62 L171.53 142.85 L171.8 143.08 L172.12 143.31 L172.48 143.54 L172.89 143.78 L173.37 144.02 L173.91 144.26 L174.54 144.51 L175.27 144.76 L176.1 145 L177.06 145.23 L178.16 145.46 L179.43 145.68 L180.89 145.88 L182.44 146.05 L183.99 146.18 L185.53 146.28 L187.08 146.36 L188.63 146.42 L190.18 146.46 L191.73 146.49 L193.28 146.5 L194.83 146.5 L196.38 146.5 L197.92 146.48 L199.47 146.45 L201.02 146.42 L202.57 146.38 L204.12 146.33 L205.67 146.28 L207.22 146.22 L208.77 146.16 L210.31 146.1 L211.86 146.03 L213.41 145.95 L214.96 145.88 L216.51 145.79 L218.06 145.71 L219.61 145.62 L221.16 145.54 L222.71 145.44 L224.25 145.35 L225.8 145.25 L227.35 145.15 L228.9 145.05 L230.45 144.95 L232 144.85 L233.55 144.74 L235.1 144.63 L236.64 144.52 L238.19 144.41 L239.74 144.3 L241.29 144.18 L242.84 144.07 L244.39 143.95 L245.94 143.83 L247.49 143.71 L249.03 143.59 L250.58 143.47 L252.13 143.35 L253.68 143.22 L255.23 143.1 L255.61 143.07" fill="none" stroke="#2444ad" stroke-width="1.6" stroke-linejoin="round" stroke-linecap="butt"/>
<path d="M410.76 48.4 L410.84 49.77 L410.92 51.41 L411 53.37 L411.08 55.69 L411.16 58.41 L411.23 61.56 L411.31 62.22 L411.39 61.37 L411.47 61.03 L411.55 64.37 L411.63 73 L411.71 82.17 L411.78 90.39 L411.86 93.06 L411.94 96.33 L412.02 100.21 L412.33 104.07 L412.64 107.32 L412.95 109.95 L413.26 112.61 L413.57 114.94 L413.88 115.2 L414.19 112.22 L414.5 109.15 L414.81 109.12 L415.12 111.45 L415.43 113.76 L415.74 112.57 L416.05 110.22 L416.36 107.88 L416.67 108.97 L416.98 110.3 L417.29 111.42 L417.6 110.98 L417.91 110.56 L418.22 109.82 L418.53 108.39 L418.84 106.96 L419.14 105.57 L419.45 104.21 L419.76 102.85 L420.07 103.75 L420.38 105.66 L420.69 107.58 L421 107.44 L421.31 107 L421.62 106.53 L421.93 105.51 L422.24 104.48 L422.55 103.55 L422.86 102.89 L423.17 102.22 L423.48 102.14 L423.79 102.8 L424.1 103.46 L424.41 103.85 L424.72 104.07 L425.03 104.3 L425.34 103.62 L425.65 102.73 L425.96 101.85 L426.27 102.99 L426.58 104.14 L426.89 104.88 L427.2 103.85 L427.51 102.83 L427.82 102.38 L428.13 102.91 L428.44 103.44 L428.75 103.69 L429.06 103.72 L429.37 103.75 L429.68 103.69 L429.99 103.6 L430.3 103.51 L430.61 103.28 L430.92 103.03 L431.23 102.76 L431.54 102.35 L431.85 101.94 L432.15 101.74 L432.46 102.04 L432.77 102.33 L433.08 102.33 L433.39 102.02 L433.7 101.71 L434.01 101.54 L434.32 101.44 L434.63 101.33 L434.94 101.33 L435.25 101.36 L435.56 101.37 L435.95 101.17 L436.39 100.94 L436.91 101.04 L437.5 100.66 L438.17 100.45 L438.95 100.21 L439.85 99.93 L440.88 99.61 L442.06 99.23 L443.42 98.79 L444.97 98.28 L446.52 97.77 L448.07 97.26 L449.62 96.74 L451.17 96.22 L452.72 95.7 L454.27 95.19 L455.81 94.67 L457.36 94.16 L458.91 93.65 L460.46 93.14 L462.01 92.64 L463.56 92.14 L465.11 91.64 L466.66 91.15 L468.2 90.66 L469.75 90.18 L471.3 89.7 L472.85 89.22 L474.4 88.75 L475.95 88.29 L477.5 87.83 L479.05 87.37 L480.59 86.92 L482.14 86.47 L483.69 86.03 L485.24 85.59 L486.79 85.16 L488.34 84.73 L489.89 84.3 L491.44 83.88 L492.99 83.47 L494.53 83.05 L496.08 82.64 L497.63 82.24 L499.18 81.83 L500.73 81.43 L502.28 81.04 L503.83 80.64 L505.38 80.25 L506.92 79.87 L508.47 79.49 L510.02 79.1 L511.57 78.73 L513.12 78.35 L514.67 77.98 L516.22 77.61 L517.77 77.24 L519.31 76.88 L520.86 76.52 L522.41 76.16 L523.96 75.8 L525.51 75.45 L527.06 75.1 L528.18 74.84" fill="none" stroke="#4cc4e8" stroke-width="1.6" stroke-linejoin="round" stroke-linecap="butt"/>
<path d="M410.76 48.4 L410.84 49.94 L410.92 52.06 L411 54.69 L411.08 57.69 L411.16 60.92 L411.23 64.25 L411.31 64.57 L411.39 62.69 L411.47 60.45 L411.55 60.84 L411.63 65.3 L411.71 68.92 L411.78 70.02 L411.86 63.84 L411.94 56.36 L412.02 47.41 L412.33 59.61 L412.64 64.79 L412.95 67.07 L413.26 68.63 L413.57 69.73 L413.88 68.84 L414.19 64.87 L414.5 60.95 L414.81 60.18 L415.12 61.88 L415.43 63.64 L415.74 61.96 L416.05 59.17 L416.36 56.42 L416.67 57.13 L416.98 58.11 L417.29 58.89 L417.6 58.13 L417.91 57.39 L418.22 56.36 L418.53 54.64 L418.84 52.94 L419.14 51.28 L419.45 49.66 L419.76 48.05 L420.07 48.69 L420.38 50.37 L420.69 52.05 L421 51.68 L421.31 51.03 L421.62 50.34 L421.93 49.11 L422.24 47.88 L422.55 46.75 L422.86 45.89 L423.17 45.04 L423.48 44.77 L423.79 45.25 L424.1 45.74 L424.41 45.96 L424.72 46.02 L425.03 46.08 L425.34 45.25 L425.65 44.22 L425.96 43.18 L426.27 44.19 L426.58 45.19 L426.89 45.8 L427.2 44.64 L427.51 43.49 L427.82 42.93 L428.13 43.34 L428.44 43.75 L428.75 43.89 L429.06 43.81 L429.37 43.74 L429.68 43.58 L429.99 43.39 L430.3 43.2 L430.61 42.88 L430.92 42.54 L431.23 42.19 L431.54 41.69 L431.85 41.2 L432.15 40.93 L432.46 41.15 L432.77 41.37 L433.08 41.29 L433.39 40.92 L433.7 40.55 L434.01 40.31 L434.32 40.14 L434.63 39.98 L434.94 39.93 L435.25 39.9 L435.56 39.86 L435.95 39.6 L436.39 39.3 L436.91 39.32 L437.5 38.86 L438.17 38.57 L438.95 38.25 L439.85 37.88 L440.88 37.47 L442.06 37.02 L443.42 36.5 L444.97 35.94 L446.52 35.39 L448.07 34.86 L449.62 34.35 L451.17 33.84 L452.72 33.36 L454.27 32.88 L455.81 32.41 L457.36 31.95 L458.91 31.51 L460.46 31.07 L462.01 30.64 L463.56 30.22 L465.11 29.8 L466.66 29.39 L468.2 28.99 L469.75 28.59 L471.3 28.2 L472.85 27.82 L474.4 27.44 L475.95 27.07 L477.5 26.7 L479.05 26.33 L480.59 25.97 L482.14 25.61 L483.69 25.26 L485.24 24.91 L486.79 24.56 L488.34 24.22 L489.89 23.88 L491.44 23.55 L492.99 23.21 L494.53 22.88 L496.08 22.56 L497.63 22.23 L499.18 21.91 L500.73 21.59 L502.28 21.28 L503.83 20.96 L505.38 20.65 L506.92 20.34 L508.47 20.03 L510.02 19.73 L511.57 19.42 L513.12 19.12 L514.67 18.82 L516.22 18.52 L517.77 18.23 L519.31 17.93 L520.86 17.64 L522.41 17.35 L523.96 17.06 L525.51 16.77 L527.06 16.48 L528.18 16.28" fill="none" stroke="#2444ad" stroke-width="1.6" stroke-linejoin="round" stroke-linecap="butt"/>
<path d="M411.35 49.33 L411.48 52.36 L411.61 55.55 L411.74 58.94 L411.86 59.38 L411.99 59.28 L412.12 59.45 L412.24 58.56 L412.37 57.09 L412.5 55.93 L412.62 57.06 L412.75 61.47 L412.88 66.23 L413.01 71.15 L413.13 75.68 L413.26 80.57 L413.39 85.83 L413.7 86.75 L414.01 87.01 L414.32 87.05 L414.63 88.94 L414.94 90.5 L415.25 91.8 L415.56 92.89 L415.86 93.88 L416.17 92.9 L416.48 90.4 L416.79 87.86 L417.1 87.65 L417.41 88.21 L417.72 88.76 L418.03 90.54 L418.34 92.39 L418.65 93.86 L418.96 92.57 L419.27 91.29 L419.58 90.46 L419.89 90.64 L420.2 90.81 L420.51 90.41 L420.82 89.44 L421.13 88.46 L421.44 88.49 L421.75 88.96 L422.06 89.44 L422.37 90.42 L422.68 91.48 L422.99 92.37 L423.3 90.94 L423.61 89.51 L423.92 88.85 L424.23 90.49 L424.54 92.14 L424.85 92.82 L425.16 92.27 L425.47 91.71 L425.78 91.19 L426.09 90.69 L426.4 90.19 L426.71 90.75 L427.02 91.55 L427.33 92.35 L427.64 91.91 L427.95 91.47 L428.26 91.19 L428.57 91.63 L428.87 92.07 L429.18 92.11 L429.49 91.47 L429.8 90.82 L430.11 90.5 L430.42 90.41 L430.73 90.32 L431.04 90.4 L431.35 90.54 L431.66 90.67 L431.97 90.47 L432.28 90.25 L432.59 90.09 L432.9 90.41 L433.21 90.73 L433.52 90.87 L433.83 90.62 L434.14 90.37 L434.45 90.25 L434.76 90.27 L435.07 90.28 L435.38 90.27 L435.69 90.23 L436 90.2 L436.31 90.19 L436.62 90.19 L436.93 90.18 L437.32 89.96 L437.76 89.7 L438.27 89.57 L438.86 89.82 L439.54 89.69 L440.32 89.55 L441.21 89.37 L442.24 89.17 L443.43 88.92 L444.79 88.63 L446.34 88.28 L447.89 87.93 L449.44 87.57 L450.99 87.2 L452.53 86.83 L454.08 86.45 L455.63 86.07 L457.18 85.68 L458.73 85.3 L460.28 84.91 L461.83 84.53 L463.38 84.14 L464.92 83.76 L466.47 83.37 L468.02 82.99 L469.57 82.61 L471.12 82.24 L472.67 81.86 L474.22 81.49 L475.77 81.12 L477.31 80.75 L478.86 80.38 L480.41 80.02 L481.96 79.66 L483.51 79.3 L485.06 78.94 L486.61 78.59 L488.16 78.24 L489.71 77.89 L491.25 77.55 L492.8 77.21 L494.35 76.87 L495.9 76.53 L497.45 76.19 L499 75.86 L500.55 75.53 L502.1 75.2 L503.64 74.88 L505.19 74.55 L506.74 74.23 L508.29 73.91 L509.84 73.59 L511.39 73.28 L512.94 72.96 L514.49 72.65 L516.03 72.34 L517.58 72.03 L519.13 71.73 L520.68 71.42 L522.23 71.12 L523.78 70.82 L525.33 70.51 L526.88 70.22 L528.43 69.92 L529.55 69.7" fill="none" stroke="#4cc4e8" stroke-width="1.6" stroke-linejoin="round" stroke-linecap="butt"/>
<path d="M411.35 49.33 L411.48 52.52 L411.61 56.18 L411.74 60.24 L411.86 61.39 L411.99 61.89 L412.12 62.4 L412.24 61.44 L412.37 59.31 L412.5 56.75 L412.62 55.6 L412.75 56.68 L412.88 56.9 L413.01 55.94 L413.13 53.06 L413.26 48.9 L413.39 43.3 L413.7 52.18 L414.01 54.45 L414.32 54.38 L414.63 55.46 L414.94 56.04 L415.25 56.43 L415.56 56.73 L415.86 57.04 L416.17 55.5 L416.48 52.52 L416.79 49.57 L417.1 48.99 L417.41 49.22 L417.72 49.47 L418.03 50.96 L418.34 52.56 L418.65 53.78 L418.96 52.26 L419.27 50.75 L419.58 49.71 L419.89 49.67 L420.2 49.65 L420.51 49.05 L420.82 47.88 L421.13 46.73 L421.44 46.57 L421.75 46.87 L422.06 47.18 L422.37 47.99 L422.68 48.88 L422.99 49.62 L423.3 48.04 L423.61 46.45 L423.92 45.65 L424.23 47.15 L424.54 48.65 L424.85 49.2 L425.16 48.52 L425.47 47.84 L425.78 47.2 L426.09 46.58 L426.4 45.96 L426.71 46.41 L427.02 47.1 L427.33 47.8 L427.64 47.25 L427.95 46.71 L428.26 46.34 L428.57 46.69 L428.87 47.04 L429.18 46.98 L429.49 46.26 L429.8 45.53 L430.11 45.13 L430.42 44.97 L430.73 44.81 L431.04 44.82 L431.35 44.88 L431.66 44.95 L431.97 44.69 L432.28 44.41 L432.59 44.19 L432.9 44.45 L433.21 44.72 L433.52 44.8 L433.83 44.51 L434.14 44.21 L434.45 44.05 L434.76 44.02 L435.07 43.99 L435.38 43.94 L435.69 43.86 L436 43.79 L436.31 43.75 L436.62 43.72 L436.93 43.68 L437.32 43.42 L437.76 43.12 L438.27 42.96 L438.86 43.16 L439.54 42.99 L440.32 42.8 L441.21 42.59 L442.24 42.35 L443.43 42.08 L444.79 41.78 L446.34 41.44 L447.89 41.11 L449.44 40.79 L450.99 40.47 L452.53 40.16 L454.08 39.86 L455.63 39.56 L457.18 39.26 L458.73 38.97 L460.28 38.68 L461.83 38.4 L463.38 38.12 L464.92 37.84 L466.47 37.57 L468.02 37.3 L469.57 37.03 L471.12 36.76 L472.67 36.5 L474.22 36.24 L475.77 35.98 L477.31 35.72 L478.86 35.47 L480.41 35.22 L481.96 34.96 L483.51 34.71 L485.06 34.47 L486.61 34.22 L488.16 33.97 L489.71 33.73 L491.25 33.49 L492.8 33.25 L494.35 33.01 L495.9 32.77 L497.45 32.53 L499 32.3 L500.55 32.06 L502.1 31.83 L503.64 31.59 L505.19 31.36 L506.74 31.13 L508.29 30.9 L509.84 30.67 L511.39 30.44 L512.94 30.21 L514.49 29.99 L516.03 29.76 L517.58 29.53 L519.13 29.31 L520.68 29.08 L522.23 28.86 L523.78 28.64 L525.33 28.41 L526.88 28.19 L528.43 27.97 L529.55 27.81" fill="none" stroke="#2444ad" stroke-width="1.6" stroke-linejoin="round" stroke-linecap="butt"/>
<path d="M412.91 51.8 L413.16 51.94 L413.42 52.15 L413.67 52.43 L413.92 51.72 L414.18 50.84 L414.43 50.05 L414.69 52.28 L414.94 56.56 L415.19 60.95 L415.45 62.4 L415.7 59.38 L415.96 56.48 L416.21 54.55 L416.47 56.16 L416.72 57.9 L416.97 59.77 L417.28 60.71 L417.59 60.99 L417.9 61.18 L418.21 63.59 L418.52 65.68 L418.83 68.13 L419.14 71.41 L419.45 74.57 L419.76 75.73 L420.07 75.33 L420.38 74.9 L420.69 73.98 L421 72.88 L421.31 71.78 L421.62 73.99 L421.93 76.43 L422.24 78.36 L422.55 76.85 L422.86 75.33 L423.17 74.56 L423.48 75.44 L423.79 76.31 L424.1 76.8 L424.41 76.88 L424.72 76.96 L425.03 77.05 L425.34 77.13 L425.65 77.21 L425.96 75.91 L426.27 74.42 L426.58 73.1 L426.89 74.36 L427.2 75.62 L427.51 76.51 L427.82 76.29 L428.12 76.07 L428.43 75.85 L428.74 75.63 L429.05 75.42 L429.36 74.96 L429.67 74.35 L429.98 73.74 L430.29 74.43 L430.6 75.42 L430.91 76.41 L431.22 76 L431.53 75.59 L431.84 75.23 L432.15 75.15 L432.46 75.07 L432.77 74.92 L433.08 74.66 L433.39 74.39 L433.7 74.33 L434.01 74.41 L434.32 74.5 L434.63 74.51 L434.94 74.51 L435.25 74.5 L435.56 74.84 L435.87 75.21 L436.18 75.51 L436.49 75.42 L436.8 75.32 L437.11 75.26 L437.42 75.27 L437.73 75.27 L438.04 75.16 L438.35 74.91 L438.66 74.66 L438.97 74.57 L439.28 74.53 L439.59 74.5 L439.9 74.73 L440.21 74.99 L440.52 75.23 L440.9 75.18 L441.35 75.11 L441.86 75.01 L442.45 74.72 L443.13 74.64 L443.9 74.55 L444.8 74.44 L445.83 74.3 L447.01 74.14 L448.38 73.93 L449.93 73.68 L451.47 73.43 L453.02 73.16 L454.57 72.88 L456.12 72.6 L457.67 72.31 L459.22 72.01 L460.77 71.71 L462.32 71.41 L463.86 71.1 L465.41 70.79 L466.96 70.48 L468.51 70.17 L470.06 69.86 L471.61 69.55 L473.16 69.24 L474.71 68.94 L476.26 68.63 L477.8 68.32 L479.35 68.01 L480.9 67.71 L482.45 67.4 L484 67.1 L485.55 66.8 L487.1 66.5 L488.65 66.2 L490.19 65.9 L491.74 65.61 L493.29 65.32 L494.84 65.02 L496.39 64.73 L497.94 64.44 L499.49 64.16 L501.04 63.87 L502.58 63.59 L504.13 63.3 L505.68 63.02 L507.23 62.74 L508.78 62.46 L510.33 62.19 L511.88 61.91 L513.43 61.64 L514.98 61.36 L516.52 61.09 L518.07 60.82 L519.62 60.55 L521.17 60.28 L522.72 60.02 L524.27 59.75 L525.82 59.49 L527.37 59.22 L528.91 58.96 L530.46 58.7 L532.01 58.44 L533.13 58.25" fill="none" stroke="#4cc4e8" stroke-width="1.6" stroke-linejoin="round" stroke-linecap="butt"/>
<path d="M412.91 51.8 L413.16 52.1 L413.42 52.8 L413.67 53.83 L413.92 54.03 L414.18 54.08 L414.43 54.15 L414.69 57.04 L414.94 61.65 L415.19 65.92 L415.45 66.68 L415.7 62.28 L415.96 57.18 L416.21 52.13 L416.47 49.56 L416.72 45.95 L416.97 41.17 L417.28 49.46 L417.59 51.66 L417.9 51.8 L418.21 53.5 L418.52 54.73 L418.83 56.37 L419.14 58.94 L419.45 61.51 L419.76 62.16 L420.07 61.33 L420.38 60.51 L420.69 59.26 L421 57.87 L421.31 56.5 L421.62 58.46 L421.93 60.66 L422.24 62.37 L422.55 60.64 L422.86 58.92 L423.17 57.95 L423.48 58.64 L423.79 59.34 L424.1 59.64 L424.41 59.55 L424.72 59.47 L425.03 59.39 L425.34 59.31 L425.65 59.23 L425.96 57.79 L426.27 56.15 L426.58 54.68 L426.89 55.8 L427.2 56.93 L427.51 57.68 L427.82 57.33 L428.12 56.99 L428.43 56.65 L428.74 56.32 L429.05 55.98 L429.36 55.41 L429.67 54.7 L429.98 53.99 L430.29 54.57 L430.6 55.46 L430.91 56.36 L431.22 55.85 L431.53 55.35 L431.84 54.91 L432.15 54.74 L432.46 54.58 L432.77 54.35 L433.08 54.01 L433.39 53.68 L433.7 53.54 L434.01 53.55 L434.32 53.57 L434.63 53.52 L434.94 53.46 L435.25 53.39 L435.56 53.68 L435.87 53.98 L436.18 54.24 L436.49 54.09 L436.8 53.94 L437.11 53.83 L437.42 53.8 L437.73 53.76 L438.04 53.6 L438.35 53.31 L438.66 53.03 L438.97 52.89 L439.28 52.83 L439.59 52.76 L439.9 52.96 L440.21 53.19 L440.52 53.4 L440.9 53.31 L441.35 53.2 L441.86 53.07 L442.45 52.74 L443.13 52.62 L443.9 52.49 L444.8 52.34 L445.83 52.17 L447.01 51.98 L448.38 51.76 L449.93 51.51 L451.47 51.27 L453.02 51.03 L454.57 50.8 L456.12 50.56 L457.67 50.33 L459.22 50.1 L460.77 49.88 L462.32 49.65 L463.86 49.43 L465.41 49.21 L466.96 48.99 L468.51 48.77 L470.06 48.55 L471.61 48.34 L473.16 48.12 L474.71 47.91 L476.26 47.69 L477.8 47.48 L479.35 47.27 L480.9 47.06 L482.45 46.85 L484 46.64 L485.55 46.44 L487.1 46.23 L488.65 46.02 L490.19 45.82 L491.74 45.61 L493.29 45.41 L494.84 45.21 L496.39 45 L497.94 44.8 L499.49 44.6 L501.04 44.4 L502.58 44.19 L504.13 43.99 L505.68 43.79 L507.23 43.59 L508.78 43.39 L510.33 43.19 L511.88 43 L513.43 42.8 L514.98 42.6 L516.52 42.4 L518.07 42.2 L519.62 42.01 L521.17 41.81 L522.72 41.61 L524.27 41.42 L525.82 41.22 L527.37 41.02 L528.91 40.83 L530.46 40.63 L532.01 40.44 L533.13 40.3" fill="none" stroke="#2444ad" stroke-width="1.6" stroke-linejoin="round" stroke-linecap="butt"/>
<path d="M414.46 54.25 L414.84 55.76 L415.22 57.29 L415.61 58.82 L415.99 57.96 L416.37 56.52 L416.75 55.1 L417.13 54.22 L417.51 53.69 L417.89 53.19 L418.27 53.72 L418.65 55.76 L419.04 57.84 L419.42 59.85 L419.8 61.58 L420.18 63.34 L420.56 65.12 L420.87 65.39 L421.18 64.99 L421.49 64.44 L421.8 65.88 L422.11 66.98 L422.42 67.4 L422.73 66.9 L423.04 66.29 L423.35 65.26 L423.66 63.91 L423.97 62.53 L424.28 63.2 L424.59 64.55 L424.9 65.89 L425.21 66.72 L425.52 67.5 L425.83 68.17 L426.14 67.98 L426.45 67.79 L426.76 67.65 L427.07 67.63 L427.38 67.61 L427.68 68.42 L427.99 70.07 L428.3 71.71 L428.61 70.95 L428.92 69.12 L429.23 67.27 L429.54 67.4 L429.85 67.8 L430.16 68.18 L430.47 68.15 L430.78 68.12 L431.09 68.16 L431.4 68.42 L431.71 68.67 L432.02 69.1 L432.33 69.77 L432.64 70.43 L432.95 70.7 L433.26 70.73 L433.57 70.76 L433.88 71.06 L434.19 71.42 L434.5 71.77 L434.81 71.25 L435.12 70.73 L435.43 70.41 L435.74 70.95 L436.05 71.5 L436.36 71.84 L436.67 71.82 L436.98 71.81 L437.29 71.74 L437.6 71.63 L437.91 71.51 L438.22 71.51 L438.53 71.53 L438.84 71.55 L439.15 71.46 L439.46 71.35 L439.77 71.27 L440.08 71.41 L440.39 71.55 L440.69 71.65 L441 71.65 L441.31 71.65 L441.62 71.61 L441.93 71.53 L442.24 71.44 L442.55 71.41 L442.86 71.41 L443.17 71.41 L443.48 71.31 L443.79 71.21 L444.1 71.11 L444.49 71.21 L444.93 71.32 L445.45 70.94 L446.04 70.89 L446.71 70.85 L447.49 70.79 L448.39 70.72 L449.42 70.63 L450.6 70.52 L451.96 70.37 L453.51 70.2 L455.06 70 L456.61 69.8 L458.16 69.58 L459.71 69.36 L461.26 69.12 L462.81 68.88 L464.35 68.64 L465.9 68.39 L467.45 68.14 L469 67.88 L470.55 67.62 L472.1 67.36 L473.65 67.1 L475.2 66.84 L476.74 66.58 L478.29 66.31 L479.84 66.05 L481.39 65.78 L482.94 65.52 L484.49 65.26 L486.04 64.99 L487.59 64.73 L489.13 64.47 L490.68 64.21 L492.23 63.94 L493.78 63.69 L495.33 63.43 L496.88 63.17 L498.43 62.91 L499.98 62.65 L501.53 62.4 L503.07 62.15 L504.62 61.89 L506.17 61.64 L507.72 61.39 L509.27 61.14 L510.82 60.89 L512.37 60.64 L513.92 60.39 L515.46 60.15 L517.01 59.9 L518.56 59.66 L520.11 59.41 L521.66 59.17 L523.21 58.93 L524.76 58.68 L526.31 58.44 L527.85 58.2 L529.4 57.96 L530.95 57.73 L532.5 57.49 L534.05 57.25 L535.6 57.01 L536.72 56.84" fill="none" stroke="#4cc4e8" stroke-width="1.6" stroke-linejoin="round" stroke-linecap="butt"/>
<path d="M414.46 54.25 L414.84 55.92 L415.22 57.93 L415.61 60.24 L415.99 60.34 L416.37 59.94 L416.75 59.55 L417.13 59.57 L417.51 59.72 L417.89 59.57 L418.27 59.99 L418.65 61.39 L419.04 62.15 L419.42 62.1 L419.8 60.89 L420.18 58.72 L420.56 55.51 L420.87 59.09 L421.18 59.04 L421.49 57.96 L421.8 58.62 L422.11 58.99 L422.42 58.79 L422.73 57.79 L423.04 56.77 L423.35 55.42 L423.66 53.81 L423.97 52.21 L424.28 52.71 L424.59 53.9 L424.9 55.1 L425.21 55.81 L425.52 56.49 L425.83 57.04 L426.14 56.75 L426.45 56.47 L426.76 56.24 L427.07 56.13 L427.38 56.02 L427.68 56.75 L427.99 58.31 L428.3 59.86 L428.61 59.03 L428.92 57.12 L429.23 55.2 L429.54 55.25 L429.85 55.58 L430.16 55.88 L430.47 55.79 L430.78 55.69 L431.09 55.67 L431.4 55.86 L431.71 56.05 L432.02 56.43 L432.33 57.03 L432.64 57.64 L432.95 57.86 L433.26 57.84 L433.57 57.82 L433.88 58.07 L434.19 58.38 L434.5 58.69 L434.81 58.13 L435.12 57.57 L435.43 57.2 L435.74 57.72 L436.05 58.23 L436.36 58.53 L436.67 58.49 L436.98 58.44 L437.29 58.34 L437.6 58.21 L437.91 58.07 L438.22 58.04 L438.53 58.04 L438.84 58.04 L439.15 57.93 L439.46 57.8 L439.77 57.7 L440.08 57.83 L440.39 57.96 L440.69 58.05 L441 58.04 L441.31 58.03 L441.62 57.98 L441.93 57.89 L442.24 57.8 L442.55 57.77 L442.86 57.76 L443.17 57.76 L443.48 57.66 L443.79 57.55 L444.1 57.46 L444.49 57.56 L444.93 57.68 L445.45 57.3 L446.04 57.27 L446.71 57.24 L447.49 57.21 L448.39 57.17 L449.42 57.13 L450.6 57.08 L451.96 57.01 L453.51 56.94 L455.06 56.86 L456.61 56.77 L458.16 56.68 L459.71 56.59 L461.26 56.5 L462.81 56.4 L464.35 56.3 L465.9 56.2 L467.45 56.1 L469 55.99 L470.55 55.88 L472.1 55.77 L473.65 55.66 L475.2 55.55 L476.74 55.43 L478.29 55.32 L479.84 55.2 L481.39 55.08 L482.94 54.96 L484.49 54.84 L486.04 54.71 L487.59 54.59 L489.13 54.46 L490.68 54.33 L492.23 54.21 L493.78 54.08 L495.33 53.95 L496.88 53.82 L498.43 53.69 L499.98 53.55 L501.53 53.42 L503.07 53.29 L504.62 53.15 L506.17 53.02 L507.72 52.88 L509.27 52.74 L510.82 52.6 L512.37 52.47 L513.92 52.33 L515.46 52.19 L517.01 52.05 L518.56 51.91 L520.11 51.77 L521.66 51.62 L523.21 51.48 L524.76 51.34 L526.31 51.19 L527.85 51.05 L529.4 50.91 L530.95 50.76 L532.5 50.62 L534.05 50.47 L535.6 50.32 L536.72 50.22" fill="none" stroke="#2444ad" stroke-width="1.6" stroke-linejoin="round" stroke-linecap="butt"/>
<path d="M418.98 61.4 L419.48 61.39 L419.98 61.51 L420.48 61.74 L420.98 62.06 L421.48 62.45 L421.98 62.9 L422.48 63.37 L422.98 63.84 L423.48 64.28 L423.98 64.68 L424.48 65 L424.98 65.21 L425.48 65.3 L425.98 65.24 L426.48 64.99 L426.98 64.54 L427.48 63.85 L427.98 62.91 L428.48 61.68 L428.98 60.14 L429.48 58.27 L429.98 56.04 L430.48 53.43 L430.98 50.4 L431.06 50.35 L431.15 50.31 L431.25 50.28 L431.37 50.26 L431.5 50.27 L431.66 50.29 L431.84 50.34 L432.04 50.41 L432.28 50.51 L432.55 50.64 L432.86 50.79 L433.23 50.97 L433.64 51.18 L434.12 51.41 L434.66 51.66 L435.29 51.93 L436.02 52.22 L436.85 52.52 L437.81 52.83 L438.91 53.15 L440.18 53.47 L441.64 53.79 L443.19 54.08 L444.73 54.32 L446.28 54.53 L447.83 54.71 L449.38 54.87 L450.93 55 L452.48 55.11 L454.03 55.2 L455.58 55.28 L457.13 55.35 L458.67 55.4 L460.22 55.45 L461.77 55.48 L463.32 55.5 L464.87 55.51 L466.42 55.52 L467.97 55.52 L469.52 55.51 L471.06 55.5 L472.61 55.48 L474.16 55.46 L475.71 55.43 L477.26 55.39 L478.81 55.35 L480.36 55.31 L481.91 55.26 L483.45 55.21 L485 55.16 L486.55 55.1 L488.1 55.04 L489.65 54.98 L491.2 54.91 L492.75 54.84 L494.3 54.77 L495.85 54.7 L497.39 54.62 L498.94 54.54 L500.49 54.46 L502.04 54.38 L503.59 54.29 L505.14 54.21 L506.69 54.12 L508.24 54.03 L509.78 53.94 L511.33 53.84 L512.88 53.75 L514.43 53.65 L515.98 53.55 L517.53 53.46 L519.08 53.35 L520.63 53.25 L522.17 53.15 L523.72 53.04 L525.27 52.94 L526.82 52.83 L528.37 52.72 L529.92 52.62 L531.47 52.51 L533.02 52.39 L534.57 52.28 L536.11 52.17 L537.66 52.06 L539.21 51.94 L540.76 51.83 L542.31 51.71 L543.86 51.59 L545.41 51.47 L546.96 51.35 L547.14 51.34" fill="none" stroke="#2444ad" stroke-width="1.6" stroke-linejoin="round" stroke-linecap="butt"/>
<path d="M428 75.69 L429 75.59 L429.99 75.54 L430.98 75.54 L431.97 75.61 L432.97 75.74 L433.96 75.91 L434.95 76.12 L435.94 76.33 L436.93 76.54 L437.93 76.71 L438.92 76.83 L439.91 76.87 L440.9 76.79 L441.89 76.57 L442.89 76.18 L443.88 75.57 L444.87 74.73 L445.86 73.6 L446.86 72.16 L447.85 70.36 L448.84 68.17 L449.83 65.55 L450.82 62.45 L451.82 58.84 L451.89 59.55 L451.98 60.2 L452.09 60.79 L452.2 61.31 L452.34 61.74 L452.49 62.09 L452.67 62.36 L452.88 62.57 L453.12 62.73 L453.39 62.86 L453.7 62.98 L454.06 63.09 L454.48 63.21 L454.95 63.34 L455.5 63.49 L456.13 63.65 L456.86 63.82 L457.69 64 L458.65 64.18 L459.75 64.37 L461.02 64.55 L462.47 64.72 L464.02 64.88 L465.57 65 L467.12 65.1 L468.67 65.18 L470.22 65.24 L471.77 65.28 L473.32 65.31 L474.87 65.33 L476.41 65.34 L477.96 65.33 L479.51 65.32 L481.06 65.3 L482.61 65.28 L484.16 65.24 L485.71 65.2 L487.26 65.16 L488.8 65.11 L490.35 65.05 L491.9 64.99 L493.45 64.93 L495 64.86 L496.55 64.79 L498.1 64.72 L499.65 64.64 L501.19 64.56 L502.74 64.48 L504.29 64.39 L505.84 64.3 L507.39 64.21 L508.94 64.12 L510.49 64.03 L512.04 63.93 L513.59 63.83 L515.13 63.73 L516.68 63.63 L518.23 63.52 L519.78 63.42 L521.33 63.31 L522.88 63.2 L524.43 63.09 L525.98 62.98 L527.52 62.86 L529.07 62.75 L530.62 62.63 L532.17 62.52 L533.72 62.4 L535.27 62.28 L536.82 62.16 L538.37 62.04 L539.91 61.92 L541.46 61.79 L543.01 61.67 L544.56 61.55 L546.11 61.42 L547.66 61.29 L549.21 61.17 L550.76 61.04 L552.31 60.91 L553.85 60.78 L555.4 60.65 L556.95 60.52 L558.5 60.39 L560.05 60.26 L561.6 60.12 L563.15 59.99 L564.7 59.86 L566.24 59.72 L567.79 59.59 L567.98 59.57" fill="none" stroke="#2444ad" stroke-width="1.6" stroke-linejoin="round" stroke-linecap="butt"/>
<path d="M455.09 118.57 L457.56 118.29 L460.02 118.07 L462.49 117.92 L464.96 117.86 L467.43 117.91 L469.9 118.05 L472.37 118.28 L474.84 118.59 L477.3 118.96 L479.77 119.35 L482.24 119.74 L484.71 120.08 L487.18 120.33 L489.65 120.45 L492.11 120.37 L494.58 120.04 L497.05 119.39 L499.52 118.34 L501.99 116.84 L504.46 114.78 L506.92 112.1 L509.39 108.7 L511.86 104.48 L514.33 99.35 L514.41 99.79 L514.5 100.21 L514.6 100.6 L514.72 100.94 L514.85 101.25 L515.01 101.5 L515.19 101.72 L515.39 101.9 L515.63 102.06 L515.9 102.21 L516.22 102.35 L516.58 102.5 L516.99 102.66 L517.47 102.82 L518.01 103 L518.64 103.19 L519.37 103.38 L520.2 103.58 L521.16 103.79 L522.26 103.99 L523.53 104.18 L524.99 104.37 L526.54 104.53 L528.09 104.66 L529.63 104.77 L531.18 104.85 L532.73 104.91 L534.28 104.96 L535.83 104.99 L537.38 105.01 L538.93 105.02 L540.48 105.01 L542.02 105 L543.57 104.98 L545.12 104.96 L546.67 104.92 L548.22 104.88 L549.77 104.84 L551.32 104.79 L552.87 104.73 L554.41 104.67 L555.96 104.61 L557.51 104.54 L559.06 104.47 L560.61 104.39 L562.16 104.32 L563.71 104.24 L565.26 104.15 L566.81 104.07 L568.35 103.98 L569.9 103.89 L571.45 103.79 L573 103.7 L574.55 103.6 L576.1 103.5 L577.65 103.4 L579.2 103.29 L580.74 103.19 L582.29 103.08 L583.84 102.97 L585.39 102.86 L586.94 102.75 L588.49 102.64 L590.04 102.53 L591.59 102.41 L593.13 102.3 L594.68 102.18 L596.23 102.06 L597.78 101.94 L599.33 101.82 L600.88 101.7 L602.43 101.58 L603.98 101.45 L605.53 101.33 L607.07 101.2 L608.62 101.08 L610.17 100.95 L611.72 100.82 L613.27 100.69 L614.82 100.56 L616.37 100.43 L617.92 100.3 L619.46 100.17 L621.01 100.04 L622.56 99.91 L624.11 99.77 L625.66 99.64 L627.21 99.5 L628.17 99.42" fill="none" stroke="#2444ad" stroke-width="1.6" stroke-linejoin="round" stroke-linecap="butt"/>
<path d="M411.35 49.33 L411.48 50.14 L411.61 51.03 L411.74 52.05 L411.86 51.75 L411.99 51.23 L412.12 50.87 L412.24 51.9 L412.37 53.91 L412.5 56.11 L412.62 57.92 L412.75 59.04 L412.88 60.36 L413.01 62.17 L413.13 65.26 L413.26 68.58 L413.39 72.11 L413.7 69.2 L414.01 66.35 L414.32 64.29 L414.63 65.63 L414.94 66.99 L415.25 67.63 L415.56 67.06 L415.86 66.5 L416.17 65.96 L416.48 65.44 L416.79 64.93 L417.1 64.19 L417.41 63.38 L417.72 62.58 L418.03 63.23 L418.34 63.98 L418.65 64.52 L418.96 63.57 L419.27 62.62 L419.58 62.12 L419.89 62.63 L420.2 63.14 L420.51 63.3 L420.82 63.13 L421.13 62.97 L421.44 62.84 L421.75 62.73 L422.06 62.62 L422.37 62.95 L422.68 63.34 L422.99 63.67 L423.3 63.14 L423.61 62.6 L423.92 62.23 L424.23 62.32 L424.54 62.42 L424.85 62.47 L425.16 62.47 L425.47 62.48 L425.78 62.08 L426.09 61.44 L426.4 60.81 L426.71 60.92 L427.02 61.2 L427.33 61.49 L427.64 61.23 L427.95 60.97 L428.26 60.72 L428.57 60.51 L428.87 60.31 L429.18 60.19 L429.49 60.18 L429.8 60.18 L430.11 60.18 L430.42 60.18 L430.73 60.19 L431.04 60.08 L431.35 59.93 L431.66 59.78 L431.97 59.69 L432.28 59.6 L432.59 59.5 L432.9 59.37 L433.21 59.24 L433.52 59.17 L433.83 59.26 L434.14 59.35 L434.45 59.3 L434.76 59.13 L435.07 58.95 L435.38 58.88 L435.69 58.87 L436 58.85 L436.31 58.78 L436.62 58.7 L436.93 58.61 L437.32 58.43 L437.76 58.22 L438.27 58.16 L438.86 58.07 L439.54 57.92 L440.32 57.75 L441.21 57.55 L442.24 57.33 L443.43 57.07 L444.79 56.78 L446.34 56.46 L447.89 56.14 L449.44 55.83 L450.99 55.52 L452.53 55.21 L454.08 54.91 L455.63 54.61 L457.18 54.31 L458.73 54.02 L460.28 53.73 L461.83 53.45 L463.38 53.16 L464.92 52.88 L466.47 52.6 L468.02 52.32 L469.57 52.05 L471.12 51.78 L472.67 51.51 L474.22 51.24 L475.77 50.97 L477.31 50.71 L478.86 50.45 L480.41 50.19 L481.96 49.93 L483.51 49.67 L485.06 49.42 L486.61 49.16 L488.16 48.91 L489.71 48.66 L491.25 48.41 L492.8 48.16 L494.35 47.91 L495.9 47.67 L497.45 47.42 L499 47.18 L500.55 46.94 L502.1 46.69 L503.64 46.45 L505.19 46.21 L506.74 45.98 L508.29 45.74 L509.84 45.5 L511.39 45.27 L512.94 45.03 L514.49 44.8 L516.03 44.56 L517.58 44.33 L519.13 44.1 L520.68 43.87 L522.23 43.64 L523.78 43.41 L525.33 43.18 L526.88 42.95 L528.43 42.72 L529.55 42.56" fill="none" stroke="#4cc4e8" stroke-width="1.6" stroke-linejoin="round" stroke-linecap="butt"/>
<path d="M411.35 49.33 L411.48 50.15 L411.61 51.05 L411.74 52.03 L411.86 51.61 L411.99 50.85 L412.12 50.1 L412.24 50.53 L412.37 51.72 L412.5 52.83 L412.62 53.23 L412.75 52.62 L412.88 51.83 L413.01 51.12 L413.13 51.25 L413.26 51.14 L413.39 50.74 L413.7 51.11 L414.01 49.68 L414.32 48.25 L414.63 49.89 L414.94 51.4 L415.25 52.14 L415.56 51.64 L415.86 51.14 L416.17 50.67 L416.48 50.21 L416.79 49.76 L417.1 49.08 L417.41 48.32 L417.72 47.58 L418.03 48.28 L418.34 49.08 L418.65 49.68 L418.96 48.77 L419.27 47.87 L419.58 47.42 L419.89 47.96 L420.2 48.51 L420.51 48.72 L420.82 48.59 L421.13 48.46 L421.44 48.36 L421.75 48.29 L422.06 48.22 L422.37 48.57 L422.68 49 L422.99 49.36 L423.3 48.85 L423.61 48.35 L423.92 48 L424.23 48.12 L424.54 48.25 L424.85 48.33 L425.16 48.36 L425.47 48.38 L425.78 48.01 L426.09 47.4 L426.4 46.79 L426.71 46.92 L427.02 47.23 L427.33 47.54 L427.64 47.3 L427.95 47.06 L428.26 46.83 L428.57 46.65 L428.87 46.47 L429.18 46.37 L429.49 46.39 L429.8 46.4 L430.11 46.42 L430.42 46.45 L430.73 46.47 L431.04 46.38 L431.35 46.25 L431.66 46.12 L431.97 46.05 L432.28 45.98 L432.59 45.91 L432.9 45.79 L433.21 45.68 L433.52 45.63 L433.83 45.74 L434.14 45.85 L434.45 45.82 L434.76 45.66 L435.07 45.5 L435.38 45.45 L435.69 45.46 L436 45.46 L436.31 45.41 L436.62 45.34 L436.93 45.27 L437.32 45.11 L437.76 44.92 L438.27 44.89 L438.86 44.84 L439.54 44.73 L440.32 44.6 L441.21 44.45 L442.24 44.28 L443.43 44.09 L444.79 43.87 L446.34 43.62 L447.89 43.38 L449.44 43.14 L450.99 42.91 L452.53 42.67 L454.08 42.44 L455.63 42.21 L457.18 41.98 L458.73 41.75 L460.28 41.53 L461.83 41.31 L463.38 41.08 L464.92 40.86 L466.47 40.64 L468.02 40.43 L469.57 40.21 L471.12 39.99 L472.67 39.78 L474.22 39.56 L475.77 39.35 L477.31 39.14 L478.86 38.93 L480.41 38.72 L481.96 38.51 L483.51 38.3 L485.06 38.09 L486.61 37.88 L488.16 37.67 L489.71 37.47 L491.25 37.26 L492.8 37.06 L494.35 36.85 L495.9 36.65 L497.45 36.44 L499 36.24 L500.55 36.04 L502.1 35.83 L503.64 35.63 L505.19 35.43 L506.74 35.23 L508.29 35.03 L509.84 34.83 L511.39 34.63 L512.94 34.43 L514.49 34.23 L516.03 34.03 L517.58 33.83 L519.13 33.63 L520.68 33.43 L522.23 33.23 L523.78 33.04 L525.33 32.84 L526.88 32.64 L528.43 32.44 L529.55 32.3" fill="none" stroke="#2444ad" stroke-width="1.6" stroke-linejoin="round" stroke-linecap="butt"/>
<path d="M412.91 51.8 L413.16 51.63 L413.42 51.52 L413.67 51.47 L413.92 51.23 L414.18 51 L414.43 50.86 L414.69 50.88 L414.94 51.04 L415.19 51.31 L415.45 52.3 L415.7 54.33 L415.96 56.47 L416.21 58.41 L416.47 59.19 L416.72 60.09 L416.97 61.11 L417.28 61.3 L417.59 61.49 L417.9 61.61 L418.21 61.46 L418.52 61.3 L418.83 61.01 L419.14 60.5 L419.45 60 L419.76 59.97 L420.07 60.32 L420.38 60.67 L420.69 60.56 L421 60.3 L421.31 60.05 L421.62 60.01 L421.93 59.99 L422.24 59.89 L422.55 59.18 L422.86 58.49 L423.17 58.08 L423.48 58.34 L423.79 58.59 L424.1 58.6 L424.41 58.35 L424.72 58.11 L425.03 57.97 L425.34 57.87 L425.65 57.78 L425.96 58.23 L426.27 58.77 L426.58 59.25 L426.89 58.93 L427.2 58.62 L427.51 58.31 L427.82 57.99 L428.12 57.68 L428.43 57.51 L428.74 57.53 L429.05 57.56 L429.36 57.78 L429.67 58.1 L429.98 58.43 L430.29 58.43 L430.6 58.36 L430.91 58.28 L431.22 58.07 L431.53 57.85 L431.84 57.69 L432.15 57.77 L432.46 57.84 L432.77 57.84 L433.08 57.71 L433.39 57.58 L433.7 57.51 L434.01 57.49 L434.32 57.48 L434.63 57.3 L434.94 57.07 L435.25 56.84 L435.56 56.75 L435.87 56.67 L436.18 56.59 L436.49 56.52 L436.8 56.44 L437.11 56.42 L437.42 56.52 L437.73 56.62 L438.04 56.58 L438.35 56.43 L438.66 56.27 L438.97 56.19 L439.28 56.15 L439.59 56.11 L439.9 56.12 L440.21 56.14 L440.52 56.14 L440.9 55.96 L441.35 55.74 L441.86 55.64 L442.45 55.68 L443.13 55.56 L443.9 55.43 L444.8 55.28 L445.83 55.11 L447.01 54.91 L448.38 54.68 L449.93 54.43 L451.47 54.17 L453.02 53.92 L454.57 53.67 L456.12 53.43 L457.67 53.18 L459.22 52.94 L460.77 52.69 L462.32 52.45 L463.86 52.21 L465.41 51.97 L466.96 51.74 L468.51 51.5 L470.06 51.27 L471.61 51.03 L473.16 50.8 L474.71 50.57 L476.26 50.34 L477.8 50.11 L479.35 49.89 L480.9 49.66 L482.45 49.43 L484 49.21 L485.55 48.98 L487.1 48.76 L488.65 48.54 L490.19 48.32 L491.74 48.1 L493.29 47.88 L494.84 47.66 L496.39 47.44 L497.94 47.23 L499.49 47.01 L501.04 46.79 L502.58 46.58 L504.13 46.36 L505.68 46.15 L507.23 45.93 L508.78 45.72 L510.33 45.51 L511.88 45.3 L513.43 45.09 L514.98 44.87 L516.52 44.66 L518.07 44.45 L519.62 44.25 L521.17 44.04 L522.72 43.83 L524.27 43.62 L525.82 43.41 L527.37 43.2 L528.91 43 L530.46 42.79 L532.01 42.58 L533.13 42.44" fill="none" stroke="#4cc4e8" stroke-width="1.6" stroke-linejoin="round" stroke-linecap="butt"/>
<path d="M412.91 51.8 L413.16 51.64 L413.42 51.56 L413.67 51.53 L413.92 51.28 L414.18 50.99 L414.43 50.71 L414.69 50.49 L414.94 50.3 L415.19 50.07 L415.45 50.4 L415.7 51.59 L415.96 52.68 L416.21 53.34 L416.47 52.6 L416.72 51.7 L416.97 50.64 L417.28 51.72 L417.59 52.23 L417.9 52.46 L418.21 52.33 L418.52 52.17 L418.83 51.87 L419.14 51.36 L419.45 50.86 L419.76 50.84 L420.07 51.19 L420.38 51.56 L420.69 51.46 L421 51.22 L421.31 50.98 L421.62 50.95 L421.93 50.95 L422.24 50.86 L422.55 50.17 L422.86 49.48 L423.17 49.1 L423.48 49.36 L423.79 49.62 L424.1 49.64 L424.41 49.41 L424.72 49.18 L425.03 49.04 L425.34 48.96 L425.65 48.87 L425.96 49.33 L426.27 49.87 L426.58 50.36 L426.89 50.06 L427.2 49.75 L427.51 49.45 L427.82 49.14 L428.12 48.83 L428.43 48.67 L428.74 48.7 L429.05 48.73 L429.36 48.96 L429.67 49.29 L429.98 49.62 L430.29 49.63 L430.6 49.56 L430.91 49.49 L431.22 49.28 L431.53 49.08 L431.84 48.92 L432.15 49.01 L432.46 49.09 L432.77 49.09 L433.08 48.97 L433.39 48.84 L433.7 48.78 L434.01 48.77 L434.32 48.76 L434.63 48.59 L434.94 48.36 L435.25 48.14 L435.56 48.06 L435.87 47.98 L436.18 47.91 L436.49 47.85 L436.8 47.78 L437.11 47.77 L437.42 47.87 L437.73 47.97 L438.04 47.95 L438.35 47.79 L438.66 47.64 L438.97 47.57 L439.28 47.54 L439.59 47.5 L439.9 47.52 L440.21 47.54 L440.52 47.56 L440.9 47.38 L441.35 47.18 L441.86 47.09 L442.45 47.14 L443.13 47.04 L443.9 46.92 L444.8 46.79 L445.83 46.64 L447.01 46.47 L448.38 46.27 L449.93 46.05 L451.47 45.83 L453.02 45.62 L454.57 45.4 L456.12 45.19 L457.67 44.98 L459.22 44.77 L460.77 44.56 L462.32 44.35 L463.86 44.14 L465.41 43.94 L466.96 43.73 L468.51 43.52 L470.06 43.32 L471.61 43.12 L473.16 42.92 L474.71 42.71 L476.26 42.51 L477.8 42.31 L479.35 42.11 L480.9 41.91 L482.45 41.71 L484 41.51 L485.55 41.32 L487.1 41.12 L488.65 40.92 L490.19 40.72 L491.74 40.53 L493.29 40.33 L494.84 40.14 L496.39 39.94 L497.94 39.75 L499.49 39.55 L501.04 39.36 L502.58 39.16 L504.13 38.97 L505.68 38.78 L507.23 38.58 L508.78 38.39 L510.33 38.2 L511.88 38 L513.43 37.81 L514.98 37.62 L516.52 37.43 L518.07 37.24 L519.62 37.04 L521.17 36.85 L522.72 36.66 L524.27 36.47 L525.82 36.28 L527.37 36.09 L528.91 35.9 L530.46 35.71 L532.01 35.52 L533.13 35.38" fill="none" stroke="#2444ad" stroke-width="1.6" stroke-linejoin="round" stroke-linecap="butt"/>
<path d="M414.39 54.14 L414.76 54.71 L415.14 55.32 L415.51 55.96 L415.89 54.89 L416.26 53.42 L416.64 52 L417.01 52.31 L417.39 53.79 L417.76 55.33 L418.14 56.37 L418.51 56.63 L418.89 56.95 L419.26 57.16 L419.64 56.71 L420.01 56.34 L420.39 56.03 L420.7 56.39 L421.01 56.76 L421.32 57.3 L421.63 58.58 L421.94 59.86 L422.25 60.42 L422.56 59.75 L422.87 59.09 L423.18 58.66 L423.49 58.41 L423.8 58.17 L424.11 58.22 L424.42 58.37 L424.73 58.53 L425.04 58.61 L425.35 58.68 L425.66 58.71 L425.97 58.45 L426.28 58.19 L426.58 57.86 L426.89 57.35 L427.2 56.85 L427.51 56.9 L427.82 57.48 L428.13 58.07 L428.44 57.88 L428.75 57.33 L429.06 56.79 L429.37 56.75 L429.68 56.77 L429.99 56.8 L430.3 57.01 L430.61 57.21 L430.92 57.3 L431.23 57.03 L431.54 56.76 L431.85 56.51 L432.16 56.29 L432.47 56.07 L432.78 55.99 L433.09 55.99 L433.4 56 L433.71 56.1 L434.02 56.23 L434.33 56.36 L434.64 55.95 L434.95 55.54 L435.26 55.21 L435.57 55.24 L435.88 55.27 L436.19 55.26 L436.5 55.16 L436.81 55.06 L437.12 55.13 L437.43 55.32 L437.74 55.5 L438.05 55.48 L438.36 55.38 L438.67 55.28 L438.98 55.26 L439.28 55.25 L439.59 55.22 L439.9 55.02 L440.21 54.82 L440.52 54.7 L440.83 54.74 L441.14 54.78 L441.45 54.78 L441.76 54.75 L442.07 54.72 L442.38 54.64 L442.69 54.55 L443 54.46 L443.31 54.35 L443.62 54.24 L443.93 54.14 L444.32 54.1 L444.76 54.05 L445.28 54.06 L445.86 53.97 L446.54 53.87 L447.32 53.75 L448.22 53.61 L449.25 53.45 L450.43 53.27 L451.79 53.06 L453.34 52.83 L454.89 52.6 L456.44 52.37 L457.99 52.14 L459.54 51.91 L461.09 51.69 L462.63 51.46 L464.18 51.24 L465.73 51.02 L467.28 50.8 L468.83 50.58 L470.38 50.36 L471.93 50.14 L473.48 49.92 L475.02 49.7 L476.57 49.49 L478.12 49.27 L479.67 49.06 L481.22 48.84 L482.77 48.63 L484.32 48.42 L485.87 48.21 L487.42 48 L488.96 47.79 L490.51 47.58 L492.06 47.37 L493.61 47.16 L495.16 46.95 L496.71 46.75 L498.26 46.54 L499.81 46.33 L501.35 46.13 L502.9 45.92 L504.45 45.72 L506 45.52 L507.55 45.31 L509.1 45.11 L510.65 44.91 L512.2 44.7 L513.74 44.5 L515.29 44.3 L516.84 44.1 L518.39 43.9 L519.94 43.7 L521.49 43.5 L523.04 43.3 L524.59 43.1 L526.14 42.9 L527.68 42.7 L529.23 42.5 L530.78 42.3 L532.33 42.1 L533.88 41.9 L535.43 41.71 L536.55 41.56" fill="none" stroke="#4cc4e8" stroke-width="1.6" stroke-linejoin="round" stroke-linecap="butt"/>
<path d="M414.39 54.14 L414.76 54.73 L415.14 55.37 L415.51 56.05 L415.89 55.01 L416.26 53.54 L416.64 52.09 L417.01 52.31 L417.39 53.63 L417.76 54.91 L418.14 55.6 L418.51 55.38 L418.89 55.09 L419.26 54.53 L419.64 53.15 L420.01 51.66 L420.39 50.04 L420.7 51.39 L421.01 52.15 L421.32 52.83 L421.63 54.17 L421.94 55.46 L422.25 56.02 L422.56 55.35 L422.87 54.69 L423.18 54.26 L423.49 54.01 L423.8 53.77 L424.11 53.83 L424.42 53.99 L424.73 54.16 L425.04 54.24 L425.35 54.32 L425.66 54.35 L425.97 54.1 L426.28 53.85 L426.58 53.52 L426.89 53.03 L427.2 52.53 L427.51 52.58 L427.82 53.17 L428.13 53.76 L428.44 53.57 L428.75 53.04 L429.06 52.5 L429.37 52.46 L429.68 52.48 L429.99 52.52 L430.3 52.73 L430.61 52.94 L430.92 53.03 L431.23 52.76 L431.54 52.49 L431.85 52.25 L432.16 52.03 L432.47 51.82 L432.78 51.74 L433.09 51.75 L433.4 51.75 L433.71 51.86 L434.02 51.99 L434.33 52.12 L434.64 51.72 L434.95 51.31 L435.26 50.99 L435.57 51.02 L435.88 51.06 L436.19 51.04 L436.5 50.95 L436.81 50.86 L437.12 50.92 L437.43 51.12 L437.74 51.31 L438.05 51.28 L438.36 51.19 L438.67 51.09 L438.98 51.08 L439.28 51.07 L439.59 51.04 L439.9 50.85 L440.21 50.65 L440.52 50.53 L440.83 50.58 L441.14 50.62 L441.45 50.63 L441.76 50.6 L442.07 50.57 L442.38 50.5 L442.69 50.41 L443 50.32 L443.31 50.22 L443.62 50.11 L443.93 50.01 L444.32 49.98 L444.76 49.93 L445.28 49.95 L445.86 49.87 L446.54 49.77 L447.32 49.66 L448.22 49.54 L449.25 49.39 L450.43 49.23 L451.79 49.04 L453.34 48.83 L454.89 48.62 L456.44 48.41 L457.99 48.2 L459.54 47.99 L461.09 47.79 L462.63 47.58 L464.18 47.38 L465.73 47.18 L467.28 46.97 L468.83 46.77 L470.38 46.57 L471.93 46.37 L473.48 46.17 L475.02 45.97 L476.57 45.78 L478.12 45.58 L479.67 45.38 L481.22 45.19 L482.77 44.99 L484.32 44.79 L485.87 44.6 L487.42 44.4 L488.96 44.21 L490.51 44.01 L492.06 43.82 L493.61 43.63 L495.16 43.43 L496.71 43.24 L498.26 43.05 L499.81 42.86 L501.35 42.66 L502.9 42.47 L504.45 42.28 L506 42.09 L507.55 41.9 L509.1 41.71 L510.65 41.52 L512.2 41.33 L513.74 41.14 L515.29 40.95 L516.84 40.76 L518.39 40.57 L519.94 40.38 L521.49 40.19 L523.04 40 L524.59 39.81 L526.14 39.62 L527.68 39.43 L529.23 39.25 L530.78 39.06 L532.33 38.87 L533.88 38.68 L535.43 38.49 L536.55 38.36" fill="none" stroke="#2444ad" stroke-width="1.6" stroke-linejoin="round" stroke-linecap="butt"/>
<path d="M418.83 61.17 L419.32 61.12 L419.81 61.08 L420.3 61.06 L420.8 61.06 L421.29 61.06 L421.78 61.08 L422.27 61.1 L422.76 61.12 L423.26 61.15 L423.75 61.18 L424.24 61.2 L424.73 61.21 L425.22 61.21 L425.72 61.21 L426.21 61.18 L426.7 61.14 L427.19 61.08 L427.69 60.99 L428.18 60.87 L428.67 60.73 L429.16 60.55 L429.65 60.34 L430.15 60.1 L430.64 59.81 L430.72 59.77 L430.8 59.74 L430.91 59.7 L431.02 59.66 L431.16 59.62 L431.32 59.57 L431.49 59.53 L431.7 59.49 L431.94 59.44 L432.21 59.39 L432.52 59.34 L432.88 59.28 L433.3 59.22 L433.77 59.16 L434.32 59.09 L434.95 59.02 L435.68 58.93 L436.51 58.84 L437.47 58.73 L438.57 58.61 L439.84 58.47 L441.3 58.31 L442.84 58.14 L444.39 57.97 L445.94 57.8 L447.49 57.63 L449.04 57.46 L450.59 57.29 L452.14 57.12 L453.69 56.94 L455.23 56.77 L456.78 56.6 L458.33 56.43 L459.88 56.26 L461.43 56.08 L462.98 55.91 L464.53 55.74 L466.08 55.57 L467.63 55.39 L469.17 55.22 L470.72 55.05 L472.27 54.87 L473.82 54.7 L475.37 54.52 L476.92 54.35 L478.47 54.18 L480.02 54 L481.56 53.83 L483.11 53.65 L484.66 53.48 L486.21 53.3 L487.76 53.13 L489.31 52.95 L490.86 52.78 L492.41 52.6 L493.95 52.43 L495.5 52.25 L497.05 52.08 L498.6 51.9 L500.15 51.73 L501.7 51.55 L503.25 51.38 L504.8 51.2 L506.35 51.03 L507.89 50.85 L509.44 50.67 L510.99 50.5 L512.54 50.32 L514.09 50.15 L515.64 49.97 L517.19 49.8 L518.74 49.62 L520.28 49.44 L521.83 49.27 L523.38 49.09 L524.93 48.92 L526.48 48.74 L528.03 48.56 L529.58 48.39 L531.13 48.21 L532.67 48.03 L534.22 47.86 L535.77 47.68 L537.32 47.51 L538.87 47.33 L540.42 47.15 L541.97 46.98 L543.52 46.8 L545.07 46.62 L546.61 46.45 L546.8 46.43" fill="none" stroke="#2444ad" stroke-width="1.6" stroke-linejoin="round" stroke-linecap="butt"/>
<path d="M427.71 75.22 L428.68 75.11 L429.66 75.01 L430.64 74.91 L431.61 74.82 L432.59 74.75 L433.56 74.68 L434.54 74.61 L435.52 74.56 L436.49 74.5 L437.47 74.46 L438.44 74.41 L439.42 74.36 L440.4 74.3 L441.37 74.24 L442.35 74.17 L443.33 74.08 L444.3 73.98 L445.28 73.86 L446.25 73.71 L447.23 73.54 L448.21 73.34 L449.18 73.11 L450.16 72.84 L451.13 72.53 L451.21 72.5 L451.3 72.48 L451.4 72.46 L451.52 72.43 L451.66 72.41 L451.81 72.38 L451.99 72.35 L452.2 72.31 L452.43 72.28 L452.71 72.24 L453.02 72.2 L453.38 72.15 L453.79 72.1 L454.27 72.04 L454.82 71.97 L455.45 71.9 L456.17 71.81 L457.01 71.72 L457.96 71.61 L459.07 71.48 L460.33 71.34 L461.79 71.18 L463.34 71 L464.89 70.83 L466.44 70.65 L467.99 70.48 L469.54 70.3 L471.08 70.13 L472.63 69.95 L474.18 69.78 L475.73 69.6 L477.28 69.43 L478.83 69.25 L480.38 69.08 L481.93 68.9 L483.47 68.72 L485.02 68.55 L486.57 68.37 L488.12 68.2 L489.67 68.02 L491.22 67.84 L492.77 67.67 L494.32 67.49 L495.87 67.32 L497.41 67.14 L498.96 66.96 L500.51 66.79 L502.06 66.61 L503.61 66.43 L505.16 66.26 L506.71 66.08 L508.26 65.9 L509.8 65.73 L511.35 65.55 L512.9 65.37 L514.45 65.19 L516 65.02 L517.55 64.84 L519.1 64.66 L520.65 64.49 L522.19 64.31 L523.74 64.13 L525.29 63.96 L526.84 63.78 L528.39 63.6 L529.94 63.42 L531.49 63.25 L533.04 63.07 L534.59 62.89 L536.13 62.71 L537.68 62.54 L539.23 62.36 L540.78 62.18 L542.33 62.01 L543.88 61.83 L545.43 61.65 L546.98 61.47 L548.52 61.3 L550.07 61.12 L551.62 60.94 L553.17 60.76 L554.72 60.59 L556.27 60.41 L557.82 60.23 L559.37 60.05 L560.91 59.88 L562.46 59.7 L564.01 59.52 L565.56 59.34 L567.11 59.17 L567.29 59.15" fill="none" stroke="#2444ad" stroke-width="1.6" stroke-linejoin="round" stroke-linecap="butt"/>
<text x="53.6" y="37.8" font-size="14" text-anchor="end">10</text>
<text x="53.2" y="54.9" font-size="14" text-anchor="end">8</text>
<text x="53.2" y="72" font-size="14" text-anchor="end">6</text>
<text x="53.2" y="89.1" font-size="14" text-anchor="end">4</text>
<text x="53.2" y="106.2" font-size="14" text-anchor="end">2</text>
<text x="53.2" y="121.8" font-size="14" text-anchor="end">0</text>
<text x="57.3" y="146.2" font-size="14" text-anchor="middle">100</text>
<text x="72.1" y="169.9" font-size="14" text-anchor="middle">200</text>
<text x="87" y="193.7" font-size="14" text-anchor="middle">300</text>
<text x="126.6" y="214.7" font-size="14" text-anchor="middle">0</text>
<text x="171.8" y="210.5" font-size="14" text-anchor="middle">200</text>
<text x="210.3" y="206.1" font-size="14" text-anchor="middle">400</text>
<text x="249" y="201.5" font-size="14" text-anchor="middle">600</text>
<text x="287.5" y="196.8" font-size="14" text-anchor="middle">800</text>
<text x="329.8" y="192.9" font-size="14" text-anchor="middle">1000</text>
<text transform="translate(0 165.5)"><tspan x="-1.84" y="0" font-size="14.5" font-style="italic">t</tspan><tspan x="3.41" y="1.6" font-size="12" font-style="italic">ramp</tspan><tspan x="32.94" y="0.3" font-size="17.4">(</tspan><tspan x="38.78" y="0" font-size="15">s</tspan><tspan x="44.84" y="0.3" font-size="17.4">)</tspan></text>
<text transform="translate(0 223)"><tspan x="251.06" y="0" font-size="14.5" font-style="italic">t</tspan><tspan x="258.94" y="0" font-size="17.3">(</tspan><tspan x="264.58" y="0" font-size="15">s</tspan><tspan x="270.84" y="0" font-size="17.3">)</tspan></text>
<text x="397.1" y="37.3" font-size="14" text-anchor="end">1</text>
<text x="397.1" y="58.6" font-size="14" text-anchor="end">0</text>
<text x="397.1" y="79.7" font-size="14" text-anchor="end">-1</text>
<text x="397.1" y="101.5" font-size="14" text-anchor="end">-2</text>
<text x="396.3" y="122.4" font-size="14" text-anchor="end">0</text>
<text x="401.4" y="146.2" font-size="14" text-anchor="middle">100</text>
<text x="416.2" y="169.9" font-size="14" text-anchor="middle">200</text>
<text x="431.1" y="193.7" font-size="14" text-anchor="middle">300</text>
<text x="470.7" y="214.7" font-size="14" text-anchor="middle">0</text>
<text x="515.9" y="210.5" font-size="14" text-anchor="middle">200</text>
<text x="554.4" y="206.1" font-size="14" text-anchor="middle">400</text>
<text x="593.1" y="201.5" font-size="14" text-anchor="middle">600</text>
<text x="631.6" y="196.8" font-size="14" text-anchor="middle">800</text>
<text x="673.9" y="192.9" font-size="14" text-anchor="middle">1000</text>
<text transform="translate(0 165.5)"><tspan x="342.26" y="0" font-size="14.5" font-style="italic">t</tspan><tspan x="347.51" y="1.6" font-size="12" font-style="italic">ramp</tspan><tspan x="377.04" y="0.3" font-size="17.4">(</tspan><tspan x="382.88" y="0" font-size="15">s</tspan><tspan x="388.94" y="0.3" font-size="17.4">)</tspan></text>
<text transform="translate(0 223)"><tspan x="595.16" y="0" font-size="14.5" font-style="italic">t</tspan><tspan x="603.04" y="0" font-size="17.3">(</tspan><tspan x="608.68" y="0" font-size="15">s</tspan><tspan x="614.94" y="0" font-size="17.3">)</tspan></text>
<text transform="translate(32.4 100.4) rotate(-90)"><tspan x="0.08" y="0" font-size="14.2" font-style="italic">Force</tspan><tspan x="38.04" y="0.3" font-size="17.4">(</tspan><tspan x="43.9" y="0" font-size="14">N</tspan><tspan x="54.94" y="0.3" font-size="17.4">)</tspan></text>
<text transform="translate(377.8 99.6) rotate(-90)"><tspan x="-0.43" y="0" font-size="14" font-style="italic" letter-spacing="1.5">error</tspan><tspan x="37.25" y="0.3" font-size="17.0">(</tspan><tspan x="42.2" y="0" font-size="14">N</tspan><tspan x="52.45" y="0.3" font-size="17.0">)</tspan></text>
<text x="24.5" y="8.7" font-size="18.5" text-anchor="start" font-weight="bold">a</text>
<text x="363.8" y="12.9" font-size="18.5" text-anchor="start" font-weight="bold">b</text>
<text x="24.5" y="262.4" font-size="18.5" text-anchor="start" font-weight="bold">c</text>
<text x="363.8" y="266.4" font-size="18.5" text-anchor="start" font-weight="bold">d</text>
<line x1="100.66" y1="274.9" x2="100.66" y2="465.1" stroke="#d4d4d4" stroke-width="0.9"/>
<line x1="135.71" y1="274.9" x2="135.71" y2="465.1" stroke="#d4d4d4" stroke-width="0.9"/>
<line x1="170.77" y1="274.9" x2="170.77" y2="465.1" stroke="#d4d4d4" stroke-width="0.9"/>
<line x1="205.83" y1="274.9" x2="205.83" y2="465.1" stroke="#d4d4d4" stroke-width="0.9"/>
<line x1="240.89" y1="274.9" x2="240.89" y2="465.1" stroke="#d4d4d4" stroke-width="0.9"/>
<line x1="275.94" y1="274.9" x2="275.94" y2="465.1" stroke="#d4d4d4" stroke-width="0.9"/>
<line x1="65.6" y1="427.06" x2="311" y2="427.06" stroke="#d4d4d4" stroke-width="0.9"/>
<line x1="65.6" y1="389.02" x2="311" y2="389.02" stroke="#d4d4d4" stroke-width="0.9"/>
<line x1="65.6" y1="350.98" x2="311" y2="350.98" stroke="#d4d4d4" stroke-width="0.9"/>
<line x1="65.6" y1="312.94" x2="311" y2="312.94" stroke="#d4d4d4" stroke-width="0.9"/>
<line x1="444.89" y1="274.9" x2="444.89" y2="465.1" stroke="#d4d4d4" stroke-width="0.9"/>
<line x1="479.97" y1="274.9" x2="479.97" y2="465.1" stroke="#d4d4d4" stroke-width="0.9"/>
<line x1="515.06" y1="274.9" x2="515.06" y2="465.1" stroke="#d4d4d4" stroke-width="0.9"/>
<line x1="550.14" y1="274.9" x2="550.14" y2="465.1" stroke="#d4d4d4" stroke-width="0.9"/>
<line x1="585.23" y1="274.9" x2="585.23" y2="465.1" stroke="#d4d4d4" stroke-width="0.9"/>
<line x1="620.31" y1="274.9" x2="620.31" y2="465.1" stroke="#d4d4d4" stroke-width="0.9"/>
<line x1="409.8" y1="433.4" x2="655.4" y2="433.4" stroke="#d4d4d4" stroke-width="0.9"/>
<line x1="409.8" y1="401.7" x2="655.4" y2="401.7" stroke="#d4d4d4" stroke-width="0.9"/>
<line x1="409.8" y1="370" x2="655.4" y2="370" stroke="#d4d4d4" stroke-width="0.9"/>
<line x1="409.8" y1="338.3" x2="655.4" y2="338.3" stroke="#d4d4d4" stroke-width="0.9"/>
<line x1="409.8" y1="306.6" x2="655.4" y2="306.6" stroke="#d4d4d4" stroke-width="0.9"/>
<path d="M70.23 331.96 L72.89 340.52 L80.32 349.08 L87.69 354.21 L109.07 368.48 L151.84 376.47 L280.15 387.69" fill="none" stroke="#4cc4e8" stroke-width="1.25" stroke-linejoin="round" stroke-linecap="butt"/>
<circle cx="70.23" cy="331.96" r="3.9" fill="none" stroke="#4cc4e8" stroke-width="1.25"/>
<circle cx="72.89" cy="340.52" r="3.9" fill="none" stroke="#4cc4e8" stroke-width="1.25"/>
<circle cx="80.32" cy="349.08" r="3.9" fill="none" stroke="#4cc4e8" stroke-width="1.25"/>
<circle cx="87.69" cy="354.21" r="3.9" fill="none" stroke="#4cc4e8" stroke-width="1.25"/>
<circle cx="109.07" cy="368.48" r="3.9" fill="none" stroke="#4cc4e8" stroke-width="1.25"/>
<circle cx="151.84" cy="376.47" r="3.9" fill="none" stroke="#4cc4e8" stroke-width="1.25"/>
<circle cx="280.15" cy="387.69" r="3.9" fill="none" stroke="#4cc4e8" stroke-width="1.25"/>
<path d="M73.03 451.98 L80.46 453.69 L87.34 454.64 L108.37 454.26 L150.44 455.59" fill="none" stroke="#4cc4e8" stroke-width="1.25" stroke-linejoin="round" stroke-linecap="butt"/>
<circle cx="73.03" cy="451.98" r="3.9" fill="none" stroke="#4cc4e8" stroke-width="1.25"/>
<circle cx="80.46" cy="453.69" r="3.9" fill="none" stroke="#4cc4e8" stroke-width="1.25"/>
<circle cx="87.34" cy="454.64" r="3.9" fill="none" stroke="#4cc4e8" stroke-width="1.25"/>
<circle cx="108.37" cy="454.26" r="3.9" fill="none" stroke="#4cc4e8" stroke-width="1.25"/>
<circle cx="150.44" cy="455.59" r="3.9" fill="none" stroke="#4cc4e8" stroke-width="1.25"/>
<path d="M70.23 284.98 L72.89 311.42 L80.32 339 L87.69 352.12 L109.07 377.04 L151.84 384.46 L280.15 393.2" fill="none" stroke="#d42222" stroke-width="1.25" stroke-linejoin="round" stroke-linecap="butt"/>
<path d="M66.63 284.98L73.83 284.98M67.68 282.44L72.77 287.53M70.23 281.38L70.23 288.58M72.77 282.44L67.68 287.53" stroke="#d42222" stroke-width="1.2" fill="none"/>
<path d="M69.29 311.42L76.49 311.42M70.35 308.87L75.44 313.96M72.89 307.82L72.89 315.02M75.44 308.87L70.35 313.96" stroke="#d42222" stroke-width="1.2" fill="none"/>
<path d="M76.72 339L83.92 339M77.78 336.45L82.87 341.54M80.32 335.4L80.32 342.6M82.87 336.45L77.78 341.54" stroke="#d42222" stroke-width="1.2" fill="none"/>
<path d="M84.09 352.12L91.29 352.12M85.14 349.58L90.23 354.67M87.69 348.52L87.69 355.72M90.23 349.58L85.14 354.67" stroke="#d42222" stroke-width="1.2" fill="none"/>
<path d="M105.47 377.04L112.67 377.04M106.53 374.49L111.62 379.58M109.07 373.44L109.07 380.64M111.62 374.49L106.53 379.58" stroke="#d42222" stroke-width="1.2" fill="none"/>
<path d="M148.24 384.46L155.44 384.46M149.29 381.91L154.39 387M151.84 380.86L151.84 388.06M154.39 381.91L149.29 387" stroke="#d42222" stroke-width="1.2" fill="none"/>
<path d="M276.55 393.2L283.75 393.2M277.6 390.66L282.7 395.75M280.15 389.6L280.15 396.8M282.7 390.66L277.6 395.75" stroke="#d42222" stroke-width="1.2" fill="none"/>
<path d="M73.03 434.67 L80.46 444.18 L87.34 449.31 L108.37 454.26 L150.44 455.59" fill="none" stroke="#d42222" stroke-width="1.25" stroke-linejoin="round" stroke-linecap="butt"/>
<path d="M69.43 434.67L76.63 434.67M70.49 432.12L75.58 437.21M73.03 431.07L73.03 438.27M75.58 432.12L70.49 437.21" stroke="#d42222" stroke-width="1.2" fill="none"/>
<path d="M76.86 444.18L84.06 444.18M77.92 441.63L83.01 446.72M80.46 440.58L80.46 447.78M83.01 441.63L77.92 446.72" stroke="#d42222" stroke-width="1.2" fill="none"/>
<path d="M83.74 449.31L90.94 449.31M84.79 446.77L89.88 451.86M87.34 445.71L87.34 452.91M89.88 446.77L84.79 451.86" stroke="#d42222" stroke-width="1.2" fill="none"/>
<path d="M104.77 454.26L111.97 454.26M105.82 451.71L110.92 456.8M108.37 450.66L108.37 457.86M110.92 451.71L105.82 456.8" stroke="#d42222" stroke-width="1.2" fill="none"/>
<path d="M146.84 455.59L154.04 455.59M147.89 453.04L152.98 458.14M150.44 451.99L150.44 459.19M152.98 453.04L147.89 458.14" stroke="#d42222" stroke-width="1.2" fill="none"/>
<path d="M70.23 284.98 L72.89 302.67 L80.32 332.53 L87.69 345.65 L109.07 368.48 L151.84 376.47 L280.15 387.69" fill="none" stroke="#2444ad" stroke-width="1.25" stroke-linejoin="round" stroke-linecap="butt"/>
<circle cx="70.23" cy="284.98" r="3.9" fill="none" stroke="#2444ad" stroke-width="1.25"/>
<circle cx="72.89" cy="302.67" r="3.9" fill="none" stroke="#2444ad" stroke-width="1.25"/>
<circle cx="80.32" cy="332.53" r="3.9" fill="none" stroke="#2444ad" stroke-width="1.25"/>
<circle cx="87.69" cy="345.65" r="3.9" fill="none" stroke="#2444ad" stroke-width="1.25"/>
<circle cx="109.07" cy="368.48" r="3.9" fill="none" stroke="#2444ad" stroke-width="1.25"/>
<circle cx="151.84" cy="376.47" r="3.9" fill="none" stroke="#2444ad" stroke-width="1.25"/>
<circle cx="280.15" cy="387.69" r="3.9" fill="none" stroke="#2444ad" stroke-width="1.25"/>
<path d="M73.03 432.96 L80.46 444.37 L87.34 449.31 L108.37 454.26 L150.44 455.59" fill="none" stroke="#2444ad" stroke-width="1.25" stroke-linejoin="round" stroke-linecap="butt"/>
<circle cx="73.03" cy="432.96" r="3.9" fill="none" stroke="#2444ad" stroke-width="1.25"/>
<circle cx="80.46" cy="444.37" r="3.9" fill="none" stroke="#2444ad" stroke-width="1.25"/>
<circle cx="87.34" cy="449.31" r="3.9" fill="none" stroke="#2444ad" stroke-width="1.25"/>
<circle cx="108.37" cy="454.26" r="3.9" fill="none" stroke="#2444ad" stroke-width="1.25"/>
<circle cx="150.44" cy="455.59" r="3.9" fill="none" stroke="#2444ad" stroke-width="1.25"/>
<path d="M414.43 382.36 L417.1 382.36 L424.54 382.36 L431.9 382.36 L453.31 383 L496.11 381.73 L624.52 383.31" fill="none" stroke="#4cc4e8" stroke-width="1.25" stroke-linejoin="round" stroke-linecap="butt"/>
<circle cx="414.43" cy="382.36" r="3.9" fill="none" stroke="#4cc4e8" stroke-width="1.25"/>
<circle cx="417.1" cy="382.36" r="3.9" fill="none" stroke="#4cc4e8" stroke-width="1.25"/>
<circle cx="424.54" cy="382.36" r="3.9" fill="none" stroke="#4cc4e8" stroke-width="1.25"/>
<circle cx="431.9" cy="382.36" r="3.9" fill="none" stroke="#4cc4e8" stroke-width="1.25"/>
<circle cx="453.31" cy="383" r="3.9" fill="none" stroke="#4cc4e8" stroke-width="1.25"/>
<circle cx="496.11" cy="381.73" r="3.9" fill="none" stroke="#4cc4e8" stroke-width="1.25"/>
<circle cx="624.52" cy="383.31" r="3.9" fill="none" stroke="#4cc4e8" stroke-width="1.25"/>
<path d="M417.24 455.91 L424.68 455.91 L431.55 455.91 L452.6 455.59 L494.71 455.91" fill="none" stroke="#4cc4e8" stroke-width="1.25" stroke-linejoin="round" stroke-linecap="butt"/>
<circle cx="417.24" cy="455.91" r="3.9" fill="none" stroke="#4cc4e8" stroke-width="1.25"/>
<circle cx="424.68" cy="455.91" r="3.9" fill="none" stroke="#4cc4e8" stroke-width="1.25"/>
<circle cx="431.55" cy="455.91" r="3.9" fill="none" stroke="#4cc4e8" stroke-width="1.25"/>
<circle cx="452.6" cy="455.59" r="3.9" fill="none" stroke="#4cc4e8" stroke-width="1.25"/>
<circle cx="494.71" cy="455.91" r="3.9" fill="none" stroke="#4cc4e8" stroke-width="1.25"/>
<path d="M414.43 322.77 L417.1 331.64 L424.54 350.66 L431.9 357 L453.31 373.17 L496.11 376.97 L624.52 383.31" fill="none" stroke="#d42222" stroke-width="1.25" stroke-linejoin="round" stroke-linecap="butt"/>
<path d="M410.83 322.77L418.03 322.77M411.89 320.22L416.98 325.31M414.43 319.17L414.43 326.37M416.98 320.22L411.89 325.31" stroke="#d42222" stroke-width="1.2" fill="none"/>
<path d="M413.5 331.64L420.7 331.64M414.55 329.1L419.64 334.19M417.1 328.04L417.1 335.24M419.64 329.1L414.55 334.19" stroke="#d42222" stroke-width="1.2" fill="none"/>
<path d="M420.94 350.66L428.14 350.66M421.99 348.12L427.08 353.21M424.54 347.06L424.54 354.26M427.08 348.12L421.99 353.21" stroke="#d42222" stroke-width="1.2" fill="none"/>
<path d="M428.3 357L435.5 357M429.36 354.46L434.45 359.55M431.9 353.4L431.9 360.6M434.45 354.46L429.36 359.55" stroke="#d42222" stroke-width="1.2" fill="none"/>
<path d="M449.71 373.17L456.91 373.17M450.76 370.62L455.85 375.72M453.31 369.57L453.31 376.77M455.85 370.62L450.76 375.72" stroke="#d42222" stroke-width="1.2" fill="none"/>
<path d="M492.51 376.97L499.71 376.97M493.57 374.43L498.66 379.52M496.11 373.37L496.11 380.57M498.66 374.43L493.57 379.52" stroke="#d42222" stroke-width="1.2" fill="none"/>
<path d="M620.92 383.31L628.12 383.31M621.98 380.77L627.07 385.86M624.52 379.71L624.52 386.91M627.07 380.77L621.98 385.86" stroke="#d42222" stroke-width="1.2" fill="none"/>
<path d="M417.24 446.4 L424.68 447.03 L431.55 447.35 L452.6 452.42 L494.71 453.69" fill="none" stroke="#d42222" stroke-width="1.25" stroke-linejoin="round" stroke-linecap="butt"/>
<path d="M413.64 446.4L420.84 446.4M414.69 443.85L419.78 448.94M417.24 442.8L417.24 450M419.78 443.85L414.69 448.94" stroke="#d42222" stroke-width="1.2" fill="none"/>
<path d="M421.08 447.03L428.28 447.03M422.13 444.49L427.22 449.58M424.68 443.43L424.68 450.63M427.22 444.49L422.13 449.58" stroke="#d42222" stroke-width="1.2" fill="none"/>
<path d="M427.95 447.35L435.15 447.35M429.01 444.8L434.1 449.89M431.55 443.75L431.55 450.95M434.1 444.8L429.01 449.89" stroke="#d42222" stroke-width="1.2" fill="none"/>
<path d="M449 452.42L456.2 452.42M450.06 449.87L455.15 454.97M452.6 448.82L452.6 456.02M455.15 449.87L450.06 454.97" stroke="#d42222" stroke-width="1.2" fill="none"/>
<path d="M491.11 453.69L498.31 453.69M492.16 451.14L497.25 456.23M494.71 450.09L494.71 457.29M497.25 451.14L492.16 456.23" stroke="#d42222" stroke-width="1.2" fill="none"/>
<path d="M414.43 301.53 L417.1 321.18 L424.54 354.15 L431.9 367.46 L453.31 379.19 L496.11 379.51 L624.52 383.31" fill="none" stroke="#2444ad" stroke-width="1.25" stroke-linejoin="round" stroke-linecap="butt"/>
<circle cx="414.43" cy="301.53" r="3.9" fill="none" stroke="#2444ad" stroke-width="1.25"/>
<circle cx="417.1" cy="321.18" r="3.9" fill="none" stroke="#2444ad" stroke-width="1.25"/>
<circle cx="424.54" cy="354.15" r="3.9" fill="none" stroke="#2444ad" stroke-width="1.25"/>
<circle cx="431.9" cy="367.46" r="3.9" fill="none" stroke="#2444ad" stroke-width="1.25"/>
<circle cx="453.31" cy="379.19" r="3.9" fill="none" stroke="#2444ad" stroke-width="1.25"/>
<circle cx="496.11" cy="379.51" r="3.9" fill="none" stroke="#2444ad" stroke-width="1.25"/>
<circle cx="624.52" cy="383.31" r="3.9" fill="none" stroke="#2444ad" stroke-width="1.25"/>
<path d="M417.24 449.25 L424.68 452.42 L431.55 453.37 L452.6 455.27 L494.71 455.91" fill="none" stroke="#2444ad" stroke-width="1.25" stroke-linejoin="round" stroke-linecap="butt"/>
<circle cx="417.24" cy="449.25" r="3.9" fill="none" stroke="#2444ad" stroke-width="1.25"/>
<circle cx="424.68" cy="452.42" r="3.9" fill="none" stroke="#2444ad" stroke-width="1.25"/>
<circle cx="431.55" cy="453.37" r="3.9" fill="none" stroke="#2444ad" stroke-width="1.25"/>
<circle cx="452.6" cy="455.27" r="3.9" fill="none" stroke="#2444ad" stroke-width="1.25"/>
<circle cx="494.71" cy="455.91" r="3.9" fill="none" stroke="#2444ad" stroke-width="1.25"/>
<rect x="65.6" y="274.9" width="245.4" height="190.2" fill="none" stroke="#262626" stroke-width="1"/>
<line x1="100.66" y1="465.1" x2="100.66" y2="462.6" stroke="#262626" stroke-width="0.9"/>
<line x1="100.66" y1="274.9" x2="100.66" y2="277.4" stroke="#262626" stroke-width="0.9"/>
<line x1="135.71" y1="465.1" x2="135.71" y2="462.6" stroke="#262626" stroke-width="0.9"/>
<line x1="135.71" y1="274.9" x2="135.71" y2="277.4" stroke="#262626" stroke-width="0.9"/>
<line x1="170.77" y1="465.1" x2="170.77" y2="462.6" stroke="#262626" stroke-width="0.9"/>
<line x1="170.77" y1="274.9" x2="170.77" y2="277.4" stroke="#262626" stroke-width="0.9"/>
<line x1="205.83" y1="465.1" x2="205.83" y2="462.6" stroke="#262626" stroke-width="0.9"/>
<line x1="205.83" y1="274.9" x2="205.83" y2="277.4" stroke="#262626" stroke-width="0.9"/>
<line x1="240.89" y1="465.1" x2="240.89" y2="462.6" stroke="#262626" stroke-width="0.9"/>
<line x1="240.89" y1="274.9" x2="240.89" y2="277.4" stroke="#262626" stroke-width="0.9"/>
<line x1="275.94" y1="465.1" x2="275.94" y2="462.6" stroke="#262626" stroke-width="0.9"/>
<line x1="275.94" y1="274.9" x2="275.94" y2="277.4" stroke="#262626" stroke-width="0.9"/>
<line x1="65.6" y1="427.06" x2="68.1" y2="427.06" stroke="#262626" stroke-width="0.9"/>
<line x1="311" y1="427.06" x2="308.5" y2="427.06" stroke="#262626" stroke-width="0.9"/>
<line x1="65.6" y1="389.02" x2="68.1" y2="389.02" stroke="#262626" stroke-width="0.9"/>
<line x1="311" y1="389.02" x2="308.5" y2="389.02" stroke="#262626" stroke-width="0.9"/>
<line x1="65.6" y1="350.98" x2="68.1" y2="350.98" stroke="#262626" stroke-width="0.9"/>
<line x1="311" y1="350.98" x2="308.5" y2="350.98" stroke="#262626" stroke-width="0.9"/>
<line x1="65.6" y1="312.94" x2="68.1" y2="312.94" stroke="#262626" stroke-width="0.9"/>
<line x1="311" y1="312.94" x2="308.5" y2="312.94" stroke="#262626" stroke-width="0.9"/>
<text x="65.6" y="482.3" font-size="14" text-anchor="middle">0</text>
<text x="135.71" y="482.3" font-size="14" text-anchor="middle">100</text>
<text x="205.83" y="482.3" font-size="14" text-anchor="middle">200</text>
<text x="275.94" y="482.3" font-size="14" text-anchor="middle">300</text>
<text x="58.6" y="471.4" font-size="14" text-anchor="end">0</text>
<text x="58.6" y="433.36" font-size="14" text-anchor="end">2</text>
<text x="58.6" y="395.32" font-size="14" text-anchor="end">4</text>
<text x="58.6" y="357.28" font-size="14" text-anchor="end">6</text>
<text x="58.6" y="319.24" font-size="14" text-anchor="end">8</text>
<text x="58.6" y="281.2" font-size="14" text-anchor="end">10</text>
<text transform="translate(0 501)"><tspan x="161.36" y="0" font-size="14.5" font-style="italic">t</tspan><tspan x="165.51" y="1.2" font-size="12" font-style="italic">ramp</tspan><tspan x="194.54" y="0" font-size="17.4">(</tspan><tspan x="200.38" y="0" font-size="15">s</tspan><tspan x="206.04" y="0" font-size="17.4">)</tspan></text>
<rect x="409.8" y="274.9" width="245.6" height="190.2" fill="none" stroke="#262626" stroke-width="1"/>
<line x1="444.89" y1="465.1" x2="444.89" y2="462.6" stroke="#262626" stroke-width="0.9"/>
<line x1="444.89" y1="274.9" x2="444.89" y2="277.4" stroke="#262626" stroke-width="0.9"/>
<line x1="479.97" y1="465.1" x2="479.97" y2="462.6" stroke="#262626" stroke-width="0.9"/>
<line x1="479.97" y1="274.9" x2="479.97" y2="277.4" stroke="#262626" stroke-width="0.9"/>
<line x1="515.06" y1="465.1" x2="515.06" y2="462.6" stroke="#262626" stroke-width="0.9"/>
<line x1="515.06" y1="274.9" x2="515.06" y2="277.4" stroke="#262626" stroke-width="0.9"/>
<line x1="550.14" y1="465.1" x2="550.14" y2="462.6" stroke="#262626" stroke-width="0.9"/>
<line x1="550.14" y1="274.9" x2="550.14" y2="277.4" stroke="#262626" stroke-width="0.9"/>
<line x1="585.23" y1="465.1" x2="585.23" y2="462.6" stroke="#262626" stroke-width="0.9"/>
<line x1="585.23" y1="274.9" x2="585.23" y2="277.4" stroke="#262626" stroke-width="0.9"/>
<line x1="620.31" y1="465.1" x2="620.31" y2="462.6" stroke="#262626" stroke-width="0.9"/>
<line x1="620.31" y1="274.9" x2="620.31" y2="277.4" stroke="#262626" stroke-width="0.9"/>
<line x1="409.8" y1="433.4" x2="412.3" y2="433.4" stroke="#262626" stroke-width="0.9"/>
<line x1="655.4" y1="433.4" x2="652.9" y2="433.4" stroke="#262626" stroke-width="0.9"/>
<line x1="409.8" y1="401.7" x2="412.3" y2="401.7" stroke="#262626" stroke-width="0.9"/>
<line x1="655.4" y1="401.7" x2="652.9" y2="401.7" stroke="#262626" stroke-width="0.9"/>
<line x1="409.8" y1="370" x2="412.3" y2="370" stroke="#262626" stroke-width="0.9"/>
<line x1="655.4" y1="370" x2="652.9" y2="370" stroke="#262626" stroke-width="0.9"/>
<line x1="409.8" y1="338.3" x2="412.3" y2="338.3" stroke="#262626" stroke-width="0.9"/>
<line x1="655.4" y1="338.3" x2="652.9" y2="338.3" stroke="#262626" stroke-width="0.9"/>
<line x1="409.8" y1="306.6" x2="412.3" y2="306.6" stroke="#262626" stroke-width="0.9"/>
<line x1="655.4" y1="306.6" x2="652.9" y2="306.6" stroke="#262626" stroke-width="0.9"/>
<text x="409.8" y="482.3" font-size="14" text-anchor="middle">0</text>
<text x="479.97" y="482.3" font-size="14" text-anchor="middle">100</text>
<text x="550.14" y="482.3" font-size="14" text-anchor="middle">200</text>
<text x="620.31" y="482.3" font-size="14" text-anchor="middle">300</text>
<text x="402" y="471.4" font-size="14" text-anchor="end">0</text>
<text x="402" y="439.7" font-size="14" text-anchor="end">1</text>
<text x="402" y="408" font-size="14" text-anchor="end">2</text>
<text x="402" y="376.3" font-size="14" text-anchor="end">3</text>
<text x="402" y="344.6" font-size="14" text-anchor="end">4</text>
<text x="402" y="312.9" font-size="14" text-anchor="end">5</text>
<text x="402" y="281.2" font-size="14" text-anchor="end">6</text>
<text transform="translate(0 501)"><tspan x="505.46" y="0" font-size="14.5" font-style="italic">t</tspan><tspan x="509.61" y="1.2" font-size="12" font-style="italic">ramp</tspan><tspan x="538.64" y="0" font-size="17.4">(</tspan><tspan x="544.48" y="0" font-size="15">s</tspan><tspan x="550.14" y="0" font-size="17.4">)</tspan></text>
<rect x="127.5" y="279.2" width="179.7" height="63.8" fill="none" stroke="#262626" stroke-width="0.9"/>
<line x1="131.1" y1="290" x2="159.6" y2="290" stroke="#d42222" stroke-width="1.25"/>
<path d="M141.7 290L148.9 290M142.75 287.45L147.85 292.55M145.3 286.4L145.3 293.6M147.85 287.45L142.75 292.55" stroke="#d42222" stroke-width="1.2" fill="none"/>
<text x="163" y="294.6" font-size="13" text-anchor="start">measured</text>
<line x1="131.1" y1="311.4" x2="159.6" y2="311.4" stroke="#4cc4e8" stroke-width="1.25"/>
<circle cx="145.3" cy="311.4" r="3.9" fill="none" stroke="#4cc4e8" stroke-width="1.25"/>
<text x="163" y="316" font-size="13">curve fit w/o <tspan font-style="italic">H</tspan><tspan font-size="14" dx="0.9">(</tspan><tspan font-style="italic">x</tspan><tspan font-size="14">)</tspan></text>
<line x1="131.1" y1="332.4" x2="159.6" y2="332.4" stroke="#2444ad" stroke-width="1.25"/>
<circle cx="145.3" cy="332.4" r="3.9" fill="none" stroke="#2444ad" stroke-width="1.25"/>
<text x="163" y="337" font-size="13">curve fit with <tspan font-style="italic">H</tspan><tspan font-size="14" dx="0.9">(</tspan><tspan font-style="italic">x</tspan><tspan font-size="14">)</tspan></text>
<rect x="471.6" y="279.2" width="179.7" height="63.8" fill="none" stroke="#262626" stroke-width="0.9"/>
<line x1="475.2" y1="290" x2="503.7" y2="290" stroke="#d42222" stroke-width="1.25"/>
<path d="M485.8 290L493 290M486.85 287.45L491.95 292.55M489.4 286.4L489.4 293.6M491.95 287.45L486.85 292.55" stroke="#d42222" stroke-width="1.2" fill="none"/>
<text x="507.1" y="294.6" font-size="13" text-anchor="start">measured</text>
<line x1="475.2" y1="311.4" x2="503.7" y2="311.4" stroke="#4cc4e8" stroke-width="1.25"/>
<circle cx="489.4" cy="311.4" r="3.9" fill="none" stroke="#4cc4e8" stroke-width="1.25"/>
<text x="507.1" y="316" font-size="13">curve fit w/o <tspan font-style="italic">H</tspan><tspan font-size="14" dx="0.9">(</tspan><tspan font-style="italic">x</tspan><tspan font-size="14">)</tspan></text>
<line x1="475.2" y1="332.4" x2="503.7" y2="332.4" stroke="#2444ad" stroke-width="1.25"/>
<circle cx="489.4" cy="332.4" r="3.9" fill="none" stroke="#2444ad" stroke-width="1.25"/>
<text x="507.1" y="337" font-size="13">curve fit with <tspan font-style="italic">H</tspan><tspan font-size="14" dx="0.9">(</tspan><tspan font-style="italic">x</tspan><tspan font-size="14">)</tspan></text>
<text transform="translate(0 373.4)"><tspan x="175.69" y="0" font-size="13.6" font-style="italic">d</tspan><tspan x="183.1" y="2.4" font-size="9.8" font-style="italic">ramp</tspan><tspan x="206.85" y="0" font-size="17">=</tspan><tspan x="220.18" y="0" font-size="13.6">0.2mm</tspan></text>
<text transform="translate(0 445.5)"><tspan x="116.29" y="0" font-size="13.6" font-style="italic">d</tspan><tspan x="123.7" y="2.4" font-size="9.8" font-style="italic">ramp</tspan><tspan x="147.45" y="0" font-size="17">=</tspan><tspan x="160.78" y="0" font-size="13.6">0.1mm</tspan></text>
<text transform="translate(0 373.4)"><tspan x="517.49" y="0" font-size="13.6" font-style="italic">d</tspan><tspan x="524.9" y="2.4" font-size="9.8" font-style="italic">ramp</tspan><tspan x="548.65" y="0" font-size="17">=</tspan><tspan x="561.98" y="0" font-size="13.6">0.2mm</tspan></text>
<text transform="translate(0 445.5)"><tspan x="458.79" y="0" font-size="13.6" font-style="italic">d</tspan><tspan x="466.2" y="2.4" font-size="9.8" font-style="italic">ramp</tspan><tspan x="489.95" y="0" font-size="17">=</tspan><tspan x="503.28" y="0" font-size="13.6">0.1mm</tspan></text>
<text transform="translate(33.2 397) rotate(-90)"><tspan x="0.08" y="0" font-size="14" font-style="italic">F</tspan><tspan x="7.18" y="3" font-size="11.5" font-style="italic">max</tspan><tspan x="29.57" y="0.3" font-size="16.5">(</tspan><tspan x="35.2" y="0" font-size="14">N</tspan><tspan x="47.37" y="0.3" font-size="16.5">)</tspan></text>
<text transform="translate(384.3 399.2) rotate(-90)"><tspan x="0.08" y="0" font-size="14" font-style="italic">F</tspan><tspan x="7.09" y="3" font-size="11.5" font-style="italic">tmax</tspan><tspan x="32.27" y="0.3" font-size="16.5">(</tspan><tspan x="38.1" y="0" font-size="14">N</tspan><tspan x="51.07" y="0.3" font-size="16.5">)</tspan></text>
</svg></div>
</body></html>
